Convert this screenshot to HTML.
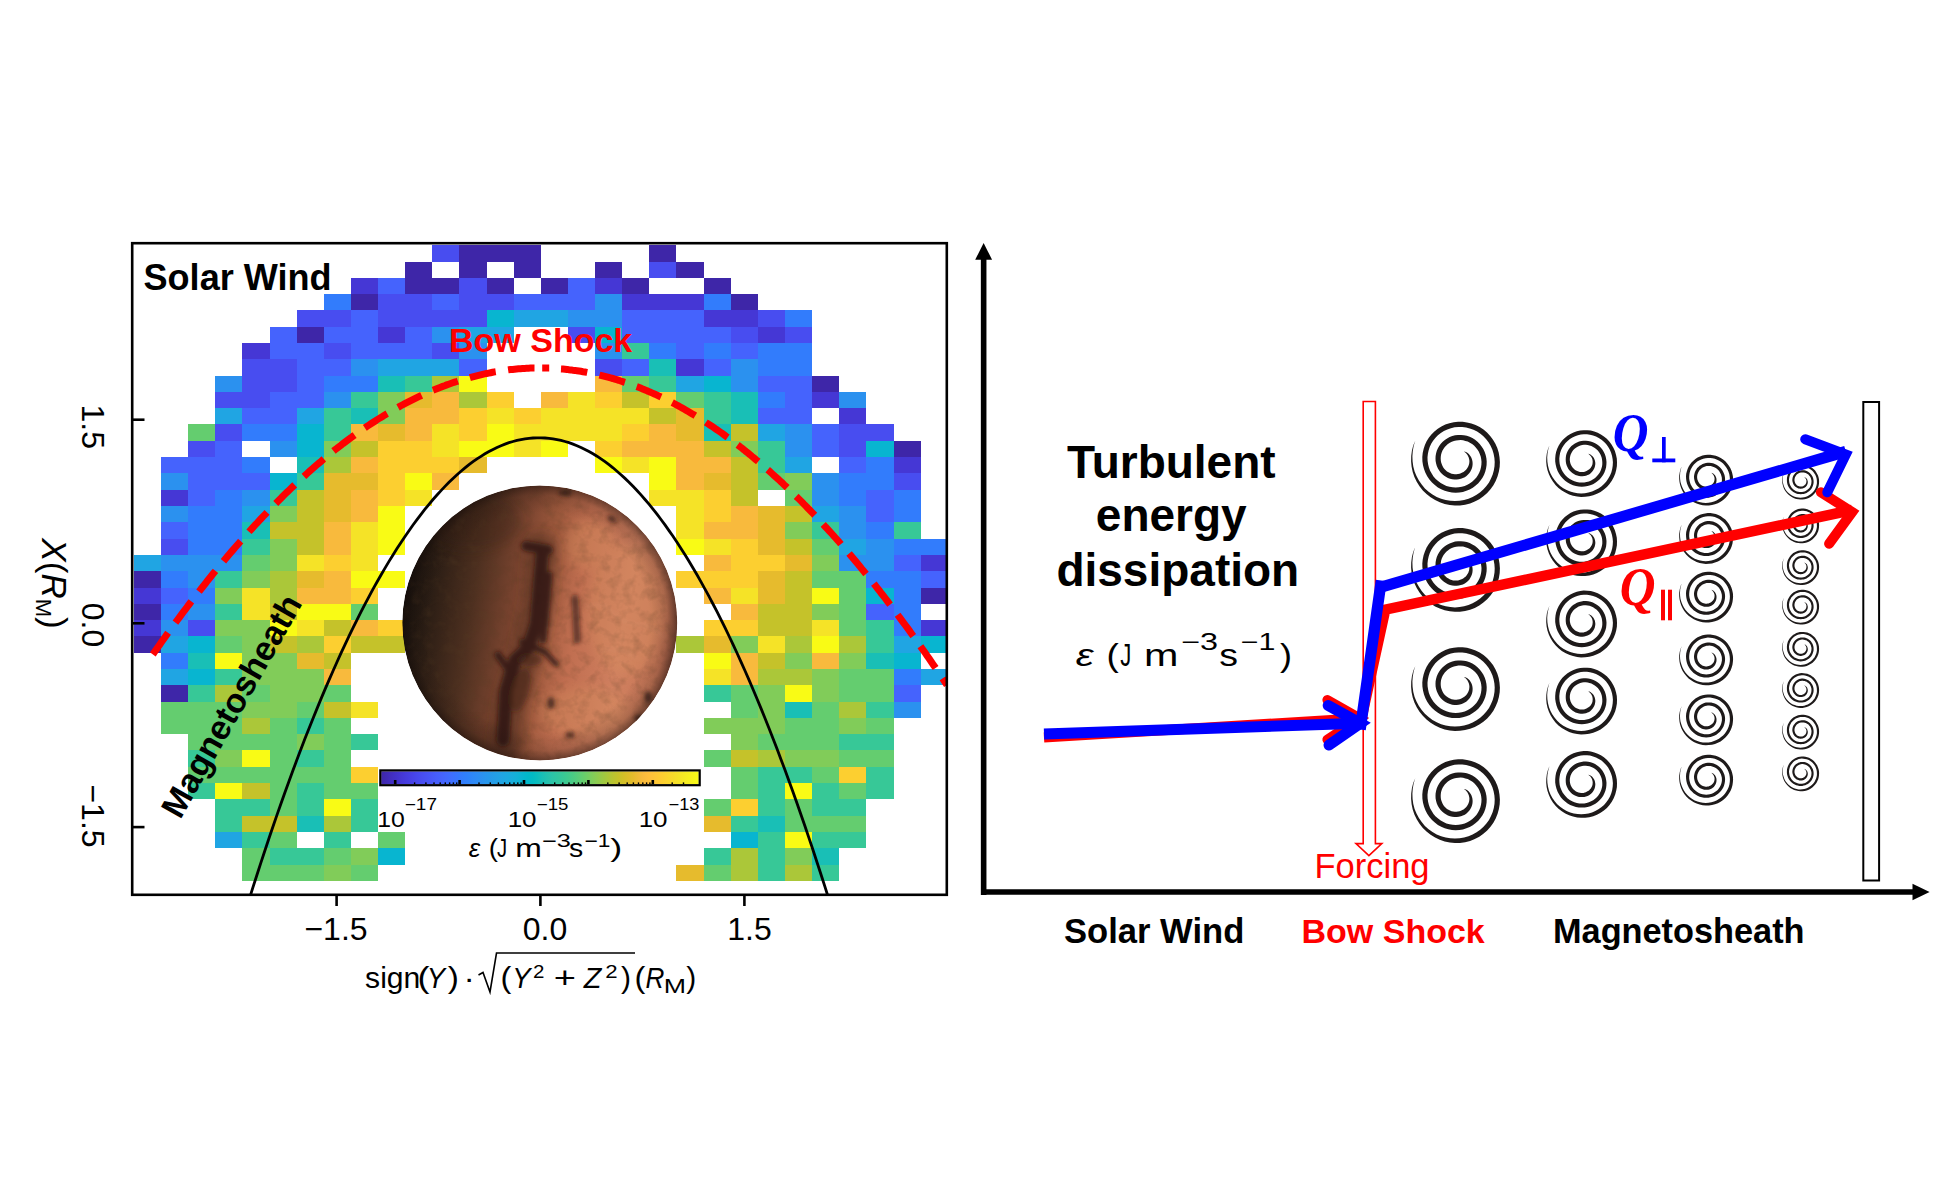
<!DOCTYPE html><html><head><meta charset="utf-8"><title>figure</title><style>html,body{margin:0;padding:0;background:#fff;overflow:hidden;}svg{display:block;}</style></head><body>
<svg width="1953" height="1200" viewBox="0 0 1953 1200">
<rect width="1953" height="1200" fill="#fff"/>
<defs><clipPath id="pc"><rect x="133" y="244" width="813" height="650"/></clipPath>
<clipPath id="mc"><circle cx="539.8" cy="622.9" r="137.5"/></clipPath>
<linearGradient id="cb" x1="0" y1="0" x2="1" y2="0"><stop offset="0.0000" stop-color="#3e26a8"/><stop offset="0.0159" stop-color="#402ab4"/><stop offset="0.0317" stop-color="#422ec0"/><stop offset="0.0476" stop-color="#4332cb"/><stop offset="0.0635" stop-color="#4537d5"/><stop offset="0.0794" stop-color="#463cde"/><stop offset="0.0952" stop-color="#4741e5"/><stop offset="0.1111" stop-color="#4747eb"/><stop offset="0.1270" stop-color="#484df0"/><stop offset="0.1429" stop-color="#4852f4"/><stop offset="0.1587" stop-color="#4758f8"/><stop offset="0.1746" stop-color="#465efb"/><stop offset="0.1905" stop-color="#4563fd"/><stop offset="0.2063" stop-color="#4269fe"/><stop offset="0.2222" stop-color="#3e6fff"/><stop offset="0.2381" stop-color="#3875fe"/><stop offset="0.2540" stop-color="#327cfc"/><stop offset="0.2698" stop-color="#2f81fa"/><stop offset="0.2857" stop-color="#2e87f7"/><stop offset="0.3016" stop-color="#2d8cf3"/><stop offset="0.3175" stop-color="#2b91ef"/><stop offset="0.3333" stop-color="#2797eb"/><stop offset="0.3492" stop-color="#259be8"/><stop offset="0.3651" stop-color="#23a0e5"/><stop offset="0.3810" stop-color="#20a5e3"/><stop offset="0.3968" stop-color="#1ca9df"/><stop offset="0.4127" stop-color="#18addb"/><stop offset="0.4286" stop-color="#12b1d6"/><stop offset="0.4444" stop-color="#08b5d0"/><stop offset="0.4603" stop-color="#01b8ca"/><stop offset="0.4762" stop-color="#02bac3"/><stop offset="0.4921" stop-color="#0bbdbd"/><stop offset="0.5079" stop-color="#19bfb6"/><stop offset="0.5238" stop-color="#24c1ae"/><stop offset="0.5397" stop-color="#2cc4a7"/><stop offset="0.5556" stop-color="#31c69f"/><stop offset="0.5714" stop-color="#37c897"/><stop offset="0.5873" stop-color="#3fca8e"/><stop offset="0.6032" stop-color="#4acb84"/><stop offset="0.6190" stop-color="#57cc7a"/><stop offset="0.6349" stop-color="#64cd6f"/><stop offset="0.6508" stop-color="#72cd64"/><stop offset="0.6667" stop-color="#81cc59"/><stop offset="0.6825" stop-color="#8fcb4e"/><stop offset="0.6984" stop-color="#9dc943"/><stop offset="0.7143" stop-color="#abc739"/><stop offset="0.7302" stop-color="#b9c431"/><stop offset="0.7460" stop-color="#c5c22a"/><stop offset="0.7619" stop-color="#d1bf27"/><stop offset="0.7778" stop-color="#dcbd29"/><stop offset="0.7937" stop-color="#e6bb2d"/><stop offset="0.8095" stop-color="#f0ba36"/><stop offset="0.8254" stop-color="#f8ba3d"/><stop offset="0.8413" stop-color="#febe3c"/><stop offset="0.8571" stop-color="#fec338"/><stop offset="0.8730" stop-color="#fec934"/><stop offset="0.8889" stop-color="#fccf30"/><stop offset="0.9048" stop-color="#fad62d"/><stop offset="0.9206" stop-color="#f7dc2a"/><stop offset="0.9365" stop-color="#f5e327"/><stop offset="0.9524" stop-color="#f5e924"/><stop offset="0.9683" stop-color="#f6ef20"/><stop offset="0.9841" stop-color="#f7f51b"/><stop offset="1.0000" stop-color="#f9fb15"/></linearGradient>
<linearGradient id="mars" x1="0" y1="0.42" x2="1" y2="0.58"><stop offset="0" stop-color="#15100c"/><stop offset="0.1" stop-color="#2c1e15"/><stop offset="0.25" stop-color="#4e3020"/><stop offset="0.4" stop-color="#7c4530"/><stop offset="0.5" stop-color="#9c583c"/><stop offset="0.62" stop-color="#c06e50"/><stop offset="0.8" stop-color="#d08060"/><stop offset="0.93" stop-color="#c87858"/><stop offset="1" stop-color="#a86048"/></linearGradient>
<radialGradient id="limb" cx="0.5" cy="0.5" r="0.5"><stop offset="0.8" stop-color="#1a0f0b" stop-opacity="0"/><stop offset="0.93" stop-color="#1a0f0b" stop-opacity="0.18"/><stop offset="1" stop-color="#120a08" stop-opacity="0.5"/></radialGradient>
<filter id="bl" filterUnits="userSpaceOnUse" x="380" y="460" width="320" height="320"><feGaussianBlur stdDeviation="2.2"/></filter>
<filter id="bl2" filterUnits="userSpaceOnUse" x="380" y="460" width="320" height="320"><feGaussianBlur stdDeviation="6"/></filter>
<linearGradient id="lshade" x1="0" y1="0.45" x2="1" y2="0.55"><stop offset="0" stop-color="#1e100a" stop-opacity="0.75"/><stop offset="0.2" stop-color="#2a160e" stop-opacity="0.35"/><stop offset="0.42" stop-color="#2a160e" stop-opacity="0.1"/><stop offset="0.55" stop-color="#000" stop-opacity="0"/></linearGradient>
<filter id="tex" x="0" y="0" width="100%" height="100%"><feTurbulence type="fractalNoise" baseFrequency="0.09" numOctaves="3" seed="7"/><feColorMatrix type="matrix" values="0 0 0 0 0.1  0 0 0 0 0.05  0 0 0 0 0.02  1.6 0 0 0 -0.72"/></filter>
<filter id="rough" filterUnits="userSpaceOnUse" x="380" y="460" width="320" height="320"><feTurbulence type="fractalNoise" baseFrequency="0.25" numOctaves="2" seed="3" result="n"/><feDisplacementMap in="SourceGraphic" in2="n" scale="4.5" xChannelSelector="R" yChannelSelector="G"/><feGaussianBlur stdDeviation="1.3"/></filter>
</defs>
<g shape-rendering="crispEdges"><rect x="432" y="245" width="27" height="17" fill="#484df0"/><rect x="459" y="245" width="82" height="17" fill="#3e26a8"/><rect x="649" y="245" width="27" height="17" fill="#3e26a8"/><rect x="405" y="262" width="27" height="16" fill="#3e26a8"/><rect x="459" y="262" width="28" height="16" fill="#3e26a8"/><rect x="514" y="262" width="27" height="16" fill="#3e26a8"/><rect x="595" y="262" width="27" height="16" fill="#3e26a8"/><rect x="649" y="262" width="27" height="16" fill="#484df0"/><rect x="676" y="262" width="28" height="16" fill="#3e26a8"/><rect x="351" y="278" width="27" height="16" fill="#4537d5"/><rect x="378" y="278" width="27" height="16" fill="#4563fd"/><rect x="405" y="278" width="54" height="16" fill="#3e26a8"/><rect x="459" y="278" width="28" height="16" fill="#484df0"/><rect x="487" y="278" width="27" height="16" fill="#3e26a8"/><rect x="541" y="278" width="27" height="16" fill="#3e26a8"/><rect x="568" y="278" width="27" height="16" fill="#4563fd"/><rect x="595" y="278" width="27" height="16" fill="#4537d5"/><rect x="622" y="278" width="27" height="16" fill="#3e26a8"/><rect x="704" y="278" width="27" height="16" fill="#3e26a8"/><rect x="324" y="294" width="27" height="16" fill="#327cfc"/><rect x="351" y="294" width="27" height="16" fill="#3e26a8"/><rect x="378" y="294" width="54" height="16" fill="#484df0"/><rect x="432" y="294" width="27" height="16" fill="#4563fd"/><rect x="459" y="294" width="55" height="16" fill="#484df0"/><rect x="514" y="294" width="81" height="16" fill="#4563fd"/><rect x="595" y="294" width="27" height="16" fill="#2b91ef"/><rect x="622" y="294" width="82" height="16" fill="#4537d5"/><rect x="704" y="294" width="27" height="16" fill="#327cfc"/><rect x="731" y="294" width="27" height="16" fill="#3e26a8"/><rect x="297" y="310" width="54" height="17" fill="#484df0"/><rect x="351" y="310" width="27" height="17" fill="#4563fd"/><rect x="378" y="310" width="109" height="17" fill="#484df0"/><rect x="487" y="310" width="27" height="17" fill="#08b5d0"/><rect x="514" y="310" width="54" height="17" fill="#20a5e3"/><rect x="568" y="310" width="54" height="17" fill="#2b91ef"/><rect x="622" y="310" width="82" height="17" fill="#4563fd"/><rect x="704" y="310" width="54" height="17" fill="#4537d5"/><rect x="758" y="310" width="27" height="17" fill="#484df0"/><rect x="785" y="310" width="27" height="17" fill="#327cfc"/><rect x="270" y="327" width="27" height="16" fill="#4563fd"/><rect x="297" y="327" width="27" height="16" fill="#3e26a8"/><rect x="324" y="327" width="54" height="16" fill="#4563fd"/><rect x="378" y="327" width="27" height="16" fill="#4537d5"/><rect x="405" y="327" width="27" height="16" fill="#4563fd"/><rect x="432" y="327" width="27" height="16" fill="#2b91ef"/><rect x="459" y="327" width="55" height="16" fill="#20a5e3"/><rect x="568" y="327" width="27" height="16" fill="#484df0"/><rect x="595" y="327" width="27" height="16" fill="#08b5d0"/><rect x="622" y="327" width="109" height="16" fill="#4563fd"/><rect x="731" y="327" width="27" height="16" fill="#484df0"/><rect x="758" y="327" width="27" height="16" fill="#4537d5"/><rect x="785" y="327" width="27" height="16" fill="#484df0"/><rect x="242" y="343" width="28" height="16" fill="#4537d5"/><rect x="270" y="343" width="54" height="16" fill="#4563fd"/><rect x="324" y="343" width="27" height="16" fill="#484df0"/><rect x="351" y="343" width="81" height="16" fill="#4563fd"/><rect x="432" y="343" width="27" height="16" fill="#484df0"/><rect x="459" y="343" width="28" height="16" fill="#2b91ef"/><rect x="595" y="343" width="27" height="16" fill="#2b91ef"/><rect x="622" y="343" width="27" height="16" fill="#37c897"/><rect x="649" y="343" width="27" height="16" fill="#327cfc"/><rect x="676" y="343" width="28" height="16" fill="#4563fd"/><rect x="704" y="343" width="27" height="16" fill="#327cfc"/><rect x="731" y="343" width="27" height="16" fill="#4563fd"/><rect x="758" y="343" width="54" height="16" fill="#327cfc"/><rect x="242" y="359" width="55" height="17" fill="#484df0"/><rect x="297" y="359" width="54" height="17" fill="#4563fd"/><rect x="351" y="359" width="27" height="17" fill="#2b91ef"/><rect x="378" y="359" width="81" height="17" fill="#20a5e3"/><rect x="459" y="359" width="28" height="17" fill="#4563fd"/><rect x="595" y="359" width="27" height="17" fill="#484df0"/><rect x="622" y="359" width="27" height="17" fill="#4563fd"/><rect x="649" y="359" width="27" height="17" fill="#19bfb6"/><rect x="676" y="359" width="28" height="17" fill="#4537d5"/><rect x="704" y="359" width="27" height="17" fill="#4563fd"/><rect x="731" y="359" width="27" height="17" fill="#2b91ef"/><rect x="758" y="359" width="54" height="17" fill="#327cfc"/><rect x="215" y="376" width="27" height="16" fill="#2b91ef"/><rect x="242" y="376" width="55" height="16" fill="#484df0"/><rect x="297" y="376" width="27" height="16" fill="#4563fd"/><rect x="324" y="376" width="54" height="16" fill="#327cfc"/><rect x="378" y="376" width="27" height="16" fill="#19bfb6"/><rect x="405" y="376" width="27" height="16" fill="#37c897"/><rect x="432" y="376" width="27" height="16" fill="#abc739"/><rect x="459" y="376" width="28" height="16" fill="#f9fb15"/><rect x="595" y="376" width="27" height="16" fill="#f8ba3d"/><rect x="622" y="376" width="27" height="16" fill="#64cd6f"/><rect x="649" y="376" width="27" height="16" fill="#37c897"/><rect x="676" y="376" width="28" height="16" fill="#20a5e3"/><rect x="704" y="376" width="27" height="16" fill="#08b5d0"/><rect x="731" y="376" width="27" height="16" fill="#2b91ef"/><rect x="758" y="376" width="54" height="16" fill="#4563fd"/><rect x="812" y="376" width="27" height="16" fill="#3e26a8"/><rect x="215" y="392" width="55" height="16" fill="#484df0"/><rect x="270" y="392" width="54" height="16" fill="#4563fd"/><rect x="324" y="392" width="27" height="16" fill="#2b91ef"/><rect x="351" y="392" width="27" height="16" fill="#37c897"/><rect x="378" y="392" width="27" height="16" fill="#81cc59"/><rect x="405" y="392" width="27" height="16" fill="#e6bb2d"/><rect x="432" y="392" width="27" height="16" fill="#f8ba3d"/><rect x="459" y="392" width="28" height="16" fill="#abc739"/><rect x="487" y="392" width="27" height="16" fill="#fccf30"/><rect x="541" y="392" width="27" height="16" fill="#f8ba3d"/><rect x="568" y="392" width="27" height="16" fill="#f5e327"/><rect x="595" y="392" width="27" height="16" fill="#fccf30"/><rect x="622" y="392" width="27" height="16" fill="#c5c22a"/><rect x="649" y="392" width="27" height="16" fill="#fccf30"/><rect x="676" y="392" width="28" height="16" fill="#64cd6f"/><rect x="704" y="392" width="27" height="16" fill="#37c897"/><rect x="731" y="392" width="27" height="16" fill="#19bfb6"/><rect x="758" y="392" width="27" height="16" fill="#327cfc"/><rect x="785" y="392" width="27" height="16" fill="#4563fd"/><rect x="812" y="392" width="27" height="16" fill="#4537d5"/><rect x="839" y="392" width="27" height="16" fill="#2b91ef"/><rect x="215" y="408" width="27" height="16" fill="#20a5e3"/><rect x="242" y="408" width="55" height="16" fill="#4563fd"/><rect x="297" y="408" width="27" height="16" fill="#20a5e3"/><rect x="324" y="408" width="27" height="16" fill="#37c897"/><rect x="351" y="408" width="27" height="16" fill="#19bfb6"/><rect x="378" y="408" width="27" height="16" fill="#81cc59"/><rect x="405" y="408" width="54" height="16" fill="#f8ba3d"/><rect x="459" y="408" width="28" height="16" fill="#fccf30"/><rect x="487" y="408" width="27" height="16" fill="#f5e327"/><rect x="514" y="408" width="27" height="16" fill="#fccf30"/><rect x="541" y="408" width="108" height="16" fill="#f5e327"/><rect x="649" y="408" width="27" height="16" fill="#c5c22a"/><rect x="676" y="408" width="28" height="16" fill="#e6bb2d"/><rect x="704" y="408" width="27" height="16" fill="#37c897"/><rect x="731" y="408" width="27" height="16" fill="#19bfb6"/><rect x="758" y="408" width="54" height="16" fill="#4563fd"/><rect x="839" y="408" width="27" height="16" fill="#4537d5"/><rect x="188" y="424" width="27" height="17" fill="#64cd6f"/><rect x="215" y="424" width="27" height="17" fill="#484df0"/><rect x="242" y="424" width="55" height="17" fill="#327cfc"/><rect x="297" y="424" width="27" height="17" fill="#08b5d0"/><rect x="324" y="424" width="27" height="17" fill="#37c897"/><rect x="351" y="424" width="27" height="17" fill="#f8ba3d"/><rect x="378" y="424" width="27" height="17" fill="#e6bb2d"/><rect x="405" y="424" width="27" height="17" fill="#f8ba3d"/><rect x="432" y="424" width="27" height="17" fill="#f5e327"/><rect x="459" y="424" width="28" height="17" fill="#fccf30"/><rect x="487" y="424" width="27" height="17" fill="#f9fb15"/><rect x="514" y="424" width="108" height="17" fill="#f5e327"/><rect x="622" y="424" width="27" height="17" fill="#fccf30"/><rect x="649" y="424" width="27" height="17" fill="#f8ba3d"/><rect x="676" y="424" width="28" height="17" fill="#e6bb2d"/><rect x="704" y="424" width="27" height="17" fill="#19bfb6"/><rect x="731" y="424" width="27" height="17" fill="#c5c22a"/><rect x="758" y="424" width="27" height="17" fill="#20a5e3"/><rect x="785" y="424" width="27" height="17" fill="#2b91ef"/><rect x="812" y="424" width="27" height="17" fill="#4563fd"/><rect x="839" y="424" width="55" height="17" fill="#484df0"/><rect x="188" y="441" width="27" height="16" fill="#484df0"/><rect x="215" y="441" width="27" height="16" fill="#4563fd"/><rect x="270" y="441" width="27" height="16" fill="#2b91ef"/><rect x="297" y="441" width="27" height="16" fill="#08b5d0"/><rect x="324" y="441" width="27" height="16" fill="#81cc59"/><rect x="351" y="441" width="27" height="16" fill="#c5c22a"/><rect x="378" y="441" width="54" height="16" fill="#fccf30"/><rect x="432" y="441" width="27" height="16" fill="#f5e327"/><rect x="459" y="441" width="55" height="16" fill="#f9fb15"/><rect x="514" y="441" width="27" height="16" fill="#f5e327"/><rect x="541" y="441" width="27" height="16" fill="#f9fb15"/><rect x="595" y="441" width="27" height="16" fill="#fccf30"/><rect x="622" y="441" width="82" height="16" fill="#f8ba3d"/><rect x="704" y="441" width="27" height="16" fill="#c5c22a"/><rect x="731" y="441" width="27" height="16" fill="#81cc59"/><rect x="758" y="441" width="27" height="16" fill="#37c897"/><rect x="785" y="441" width="27" height="16" fill="#2b91ef"/><rect x="812" y="441" width="27" height="16" fill="#4563fd"/><rect x="839" y="441" width="27" height="16" fill="#484df0"/><rect x="866" y="441" width="28" height="16" fill="#08b5d0"/><rect x="894" y="441" width="27" height="16" fill="#3e26a8"/><rect x="161" y="457" width="81" height="16" fill="#4563fd"/><rect x="242" y="457" width="28" height="16" fill="#327cfc"/><rect x="297" y="457" width="27" height="16" fill="#19bfb6"/><rect x="324" y="457" width="27" height="16" fill="#abc739"/><rect x="351" y="457" width="27" height="16" fill="#f8ba3d"/><rect x="378" y="457" width="81" height="16" fill="#fccf30"/><rect x="459" y="457" width="28" height="16" fill="#e6bb2d"/><rect x="595" y="457" width="27" height="16" fill="#f9fb15"/><rect x="622" y="457" width="27" height="16" fill="#f5e327"/><rect x="649" y="457" width="27" height="16" fill="#f9fb15"/><rect x="676" y="457" width="55" height="16" fill="#f8ba3d"/><rect x="731" y="457" width="27" height="16" fill="#c5c22a"/><rect x="758" y="457" width="27" height="16" fill="#37c897"/><rect x="785" y="457" width="27" height="16" fill="#20a5e3"/><rect x="839" y="457" width="27" height="16" fill="#4563fd"/><rect x="866" y="457" width="28" height="16" fill="#327cfc"/><rect x="894" y="457" width="27" height="16" fill="#4537d5"/><rect x="161" y="473" width="27" height="17" fill="#2b91ef"/><rect x="188" y="473" width="82" height="17" fill="#4563fd"/><rect x="270" y="473" width="27" height="17" fill="#08b5d0"/><rect x="297" y="473" width="27" height="17" fill="#37c897"/><rect x="324" y="473" width="54" height="17" fill="#e6bb2d"/><rect x="378" y="473" width="27" height="17" fill="#fccf30"/><rect x="405" y="473" width="27" height="17" fill="#f9fb15"/><rect x="432" y="473" width="27" height="17" fill="#f8ba3d"/><rect x="649" y="473" width="27" height="17" fill="#f9fb15"/><rect x="676" y="473" width="28" height="17" fill="#f8ba3d"/><rect x="704" y="473" width="27" height="17" fill="#e6bb2d"/><rect x="731" y="473" width="27" height="17" fill="#c5c22a"/><rect x="758" y="473" width="27" height="17" fill="#64cd6f"/><rect x="785" y="473" width="27" height="17" fill="#81cc59"/><rect x="812" y="473" width="27" height="17" fill="#2b91ef"/><rect x="839" y="473" width="55" height="17" fill="#327cfc"/><rect x="894" y="473" width="27" height="17" fill="#484df0"/><rect x="161" y="490" width="27" height="16" fill="#4537d5"/><rect x="188" y="490" width="27" height="16" fill="#4563fd"/><rect x="215" y="490" width="27" height="16" fill="#327cfc"/><rect x="242" y="490" width="28" height="16" fill="#2b91ef"/><rect x="270" y="490" width="27" height="16" fill="#37c897"/><rect x="297" y="490" width="27" height="16" fill="#c5c22a"/><rect x="324" y="490" width="27" height="16" fill="#e6bb2d"/><rect x="351" y="490" width="27" height="16" fill="#f8ba3d"/><rect x="378" y="490" width="27" height="16" fill="#fccf30"/><rect x="405" y="490" width="27" height="16" fill="#f5e327"/><rect x="649" y="490" width="55" height="16" fill="#f5e327"/><rect x="704" y="490" width="27" height="16" fill="#fccf30"/><rect x="731" y="490" width="27" height="16" fill="#c5c22a"/><rect x="785" y="490" width="27" height="16" fill="#64cd6f"/><rect x="812" y="490" width="27" height="16" fill="#2b91ef"/><rect x="839" y="490" width="27" height="16" fill="#327cfc"/><rect x="866" y="490" width="28" height="16" fill="#4563fd"/><rect x="894" y="490" width="27" height="16" fill="#327cfc"/><rect x="161" y="506" width="27" height="16" fill="#2b91ef"/><rect x="188" y="506" width="54" height="16" fill="#327cfc"/><rect x="242" y="506" width="28" height="16" fill="#20a5e3"/><rect x="270" y="506" width="27" height="16" fill="#81cc59"/><rect x="297" y="506" width="27" height="16" fill="#c5c22a"/><rect x="324" y="506" width="27" height="16" fill="#e6bb2d"/><rect x="351" y="506" width="27" height="16" fill="#f8ba3d"/><rect x="378" y="506" width="27" height="16" fill="#f9fb15"/><rect x="676" y="506" width="28" height="16" fill="#f5e327"/><rect x="704" y="506" width="27" height="16" fill="#fccf30"/><rect x="731" y="506" width="27" height="16" fill="#f8ba3d"/><rect x="758" y="506" width="27" height="16" fill="#e6bb2d"/><rect x="785" y="506" width="27" height="16" fill="#c5c22a"/><rect x="812" y="506" width="27" height="16" fill="#20a5e3"/><rect x="839" y="506" width="27" height="16" fill="#2b91ef"/><rect x="866" y="506" width="28" height="16" fill="#4563fd"/><rect x="894" y="506" width="27" height="16" fill="#327cfc"/><rect x="161" y="522" width="27" height="17" fill="#4563fd"/><rect x="188" y="522" width="54" height="17" fill="#327cfc"/><rect x="242" y="522" width="28" height="17" fill="#19bfb6"/><rect x="270" y="522" width="54" height="17" fill="#c5c22a"/><rect x="324" y="522" width="27" height="17" fill="#f8ba3d"/><rect x="351" y="522" width="27" height="17" fill="#f5e327"/><rect x="378" y="522" width="27" height="17" fill="#f9fb15"/><rect x="676" y="522" width="28" height="17" fill="#f5e327"/><rect x="704" y="522" width="54" height="17" fill="#f8ba3d"/><rect x="758" y="522" width="27" height="17" fill="#e6bb2d"/><rect x="785" y="522" width="27" height="17" fill="#81cc59"/><rect x="812" y="522" width="27" height="17" fill="#37c897"/><rect x="839" y="522" width="27" height="17" fill="#2b91ef"/><rect x="866" y="522" width="28" height="17" fill="#327cfc"/><rect x="894" y="522" width="27" height="17" fill="#37c897"/><rect x="161" y="539" width="27" height="16" fill="#484df0"/><rect x="188" y="539" width="54" height="16" fill="#327cfc"/><rect x="242" y="539" width="28" height="16" fill="#37c897"/><rect x="270" y="539" width="27" height="16" fill="#81cc59"/><rect x="297" y="539" width="27" height="16" fill="#c5c22a"/><rect x="324" y="539" width="27" height="16" fill="#f8ba3d"/><rect x="351" y="539" width="27" height="16" fill="#f5e327"/><rect x="378" y="539" width="27" height="16" fill="#f9fb15"/><rect x="676" y="539" width="28" height="16" fill="#f9fb15"/><rect x="704" y="539" width="27" height="16" fill="#f5e327"/><rect x="731" y="539" width="27" height="16" fill="#fccf30"/><rect x="758" y="539" width="27" height="16" fill="#e6bb2d"/><rect x="785" y="539" width="27" height="16" fill="#c5c22a"/><rect x="812" y="539" width="27" height="16" fill="#64cd6f"/><rect x="839" y="539" width="27" height="16" fill="#20a5e3"/><rect x="866" y="539" width="28" height="16" fill="#2b91ef"/><rect x="894" y="539" width="54" height="16" fill="#327cfc"/><rect x="134" y="555" width="27" height="16" fill="#20a5e3"/><rect x="161" y="555" width="81" height="16" fill="#2b91ef"/><rect x="242" y="555" width="28" height="16" fill="#64cd6f"/><rect x="270" y="555" width="27" height="16" fill="#81cc59"/><rect x="297" y="555" width="27" height="16" fill="#f5e327"/><rect x="324" y="555" width="27" height="16" fill="#fccf30"/><rect x="351" y="555" width="27" height="16" fill="#f5e327"/><rect x="704" y="555" width="27" height="16" fill="#f8ba3d"/><rect x="731" y="555" width="54" height="16" fill="#fccf30"/><rect x="785" y="555" width="27" height="16" fill="#e6bb2d"/><rect x="812" y="555" width="27" height="16" fill="#81cc59"/><rect x="839" y="555" width="55" height="16" fill="#2b91ef"/><rect x="894" y="555" width="27" height="16" fill="#4563fd"/><rect x="921" y="555" width="27" height="16" fill="#4537d5"/><rect x="134" y="571" width="27" height="17" fill="#3e26a8"/><rect x="161" y="571" width="27" height="17" fill="#327cfc"/><rect x="188" y="571" width="27" height="17" fill="#2b91ef"/><rect x="215" y="571" width="27" height="17" fill="#37c897"/><rect x="242" y="571" width="28" height="17" fill="#81cc59"/><rect x="270" y="571" width="27" height="17" fill="#abc739"/><rect x="297" y="571" width="27" height="17" fill="#e6bb2d"/><rect x="324" y="571" width="27" height="17" fill="#f8ba3d"/><rect x="351" y="571" width="54" height="17" fill="#f9fb15"/><rect x="676" y="571" width="82" height="17" fill="#fccf30"/><rect x="758" y="571" width="27" height="17" fill="#e6bb2d"/><rect x="785" y="571" width="27" height="17" fill="#c5c22a"/><rect x="812" y="571" width="54" height="17" fill="#64cd6f"/><rect x="866" y="571" width="55" height="17" fill="#327cfc"/><rect x="921" y="571" width="27" height="17" fill="#4563fd"/><rect x="134" y="588" width="27" height="16" fill="#4537d5"/><rect x="161" y="588" width="27" height="16" fill="#4563fd"/><rect x="188" y="588" width="27" height="16" fill="#327cfc"/><rect x="215" y="588" width="27" height="16" fill="#81cc59"/><rect x="242" y="588" width="28" height="16" fill="#f5e327"/><rect x="270" y="588" width="27" height="16" fill="#abc739"/><rect x="297" y="588" width="54" height="16" fill="#f8ba3d"/><rect x="351" y="588" width="27" height="16" fill="#fccf30"/><rect x="704" y="588" width="27" height="16" fill="#f8ba3d"/><rect x="731" y="588" width="27" height="16" fill="#f5e327"/><rect x="758" y="588" width="27" height="16" fill="#e6bb2d"/><rect x="785" y="588" width="27" height="16" fill="#c5c22a"/><rect x="812" y="588" width="27" height="16" fill="#f9fb15"/><rect x="839" y="588" width="27" height="16" fill="#64cd6f"/><rect x="866" y="588" width="28" height="16" fill="#08b5d0"/><rect x="894" y="588" width="27" height="16" fill="#327cfc"/><rect x="921" y="588" width="27" height="16" fill="#3e26a8"/><rect x="134" y="604" width="27" height="16" fill="#3e26a8"/><rect x="161" y="604" width="27" height="16" fill="#327cfc"/><rect x="188" y="604" width="27" height="16" fill="#2b91ef"/><rect x="215" y="604" width="27" height="16" fill="#37c897"/><rect x="242" y="604" width="28" height="16" fill="#f5e327"/><rect x="270" y="604" width="27" height="16" fill="#c5c22a"/><rect x="297" y="604" width="54" height="16" fill="#f9fb15"/><rect x="351" y="604" width="27" height="16" fill="#64cd6f"/><rect x="731" y="604" width="27" height="16" fill="#f8ba3d"/><rect x="758" y="604" width="54" height="16" fill="#c5c22a"/><rect x="812" y="604" width="27" height="16" fill="#81cc59"/><rect x="839" y="604" width="27" height="16" fill="#64cd6f"/><rect x="866" y="604" width="28" height="16" fill="#4563fd"/><rect x="894" y="604" width="27" height="16" fill="#327cfc"/><rect x="134" y="620" width="27" height="16" fill="#4537d5"/><rect x="161" y="620" width="27" height="16" fill="#2b91ef"/><rect x="188" y="620" width="27" height="16" fill="#484df0"/><rect x="215" y="620" width="55" height="16" fill="#81cc59"/><rect x="270" y="620" width="27" height="16" fill="#f9fb15"/><rect x="297" y="620" width="27" height="16" fill="#f5e327"/><rect x="324" y="620" width="27" height="16" fill="#c5c22a"/><rect x="351" y="620" width="27" height="16" fill="#f8ba3d"/><rect x="378" y="620" width="27" height="16" fill="#fccf30"/><rect x="704" y="620" width="54" height="16" fill="#fccf30"/><rect x="758" y="620" width="54" height="16" fill="#c5c22a"/><rect x="812" y="620" width="27" height="16" fill="#f5e327"/><rect x="839" y="620" width="27" height="16" fill="#64cd6f"/><rect x="866" y="620" width="28" height="16" fill="#37c897"/><rect x="894" y="620" width="27" height="16" fill="#327cfc"/><rect x="921" y="620" width="27" height="16" fill="#4537d5"/><rect x="134" y="636" width="27" height="17" fill="#3e26a8"/><rect x="161" y="636" width="27" height="17" fill="#20a5e3"/><rect x="188" y="636" width="27" height="17" fill="#08b5d0"/><rect x="215" y="636" width="27" height="17" fill="#64cd6f"/><rect x="242" y="636" width="28" height="17" fill="#81cc59"/><rect x="270" y="636" width="27" height="17" fill="#c5c22a"/><rect x="297" y="636" width="27" height="17" fill="#abc739"/><rect x="324" y="636" width="27" height="17" fill="#fccf30"/><rect x="351" y="636" width="54" height="17" fill="#c5c22a"/><rect x="676" y="636" width="28" height="17" fill="#abc739"/><rect x="704" y="636" width="27" height="17" fill="#e6bb2d"/><rect x="731" y="636" width="27" height="17" fill="#81cc59"/><rect x="758" y="636" width="27" height="17" fill="#f5e327"/><rect x="785" y="636" width="27" height="17" fill="#abc739"/><rect x="812" y="636" width="27" height="17" fill="#f9fb15"/><rect x="839" y="636" width="27" height="17" fill="#abc739"/><rect x="866" y="636" width="28" height="17" fill="#37c897"/><rect x="894" y="636" width="27" height="17" fill="#20a5e3"/><rect x="921" y="636" width="27" height="17" fill="#08b5d0"/><rect x="161" y="653" width="27" height="16" fill="#327cfc"/><rect x="188" y="653" width="27" height="16" fill="#19bfb6"/><rect x="215" y="653" width="27" height="16" fill="#f9fb15"/><rect x="242" y="653" width="55" height="16" fill="#81cc59"/><rect x="297" y="653" width="27" height="16" fill="#e6bb2d"/><rect x="324" y="653" width="27" height="16" fill="#c5c22a"/><rect x="704" y="653" width="27" height="16" fill="#f9fb15"/><rect x="731" y="653" width="27" height="16" fill="#f8ba3d"/><rect x="758" y="653" width="27" height="16" fill="#c5c22a"/><rect x="785" y="653" width="27" height="16" fill="#81cc59"/><rect x="812" y="653" width="27" height="16" fill="#f8ba3d"/><rect x="839" y="653" width="27" height="16" fill="#81cc59"/><rect x="866" y="653" width="28" height="16" fill="#19bfb6"/><rect x="894" y="653" width="27" height="16" fill="#08b5d0"/><rect x="161" y="669" width="27" height="16" fill="#20a5e3"/><rect x="188" y="669" width="27" height="16" fill="#08b5d0"/><rect x="215" y="669" width="27" height="16" fill="#37c897"/><rect x="242" y="669" width="82" height="16" fill="#81cc59"/><rect x="324" y="669" width="27" height="16" fill="#f8ba3d"/><rect x="704" y="669" width="27" height="16" fill="#f5e327"/><rect x="731" y="669" width="27" height="16" fill="#f8ba3d"/><rect x="758" y="669" width="54" height="16" fill="#abc739"/><rect x="812" y="669" width="27" height="16" fill="#81cc59"/><rect x="839" y="669" width="55" height="16" fill="#64cd6f"/><rect x="894" y="669" width="27" height="16" fill="#327cfc"/><rect x="921" y="669" width="27" height="16" fill="#20a5e3"/><rect x="161" y="685" width="27" height="17" fill="#3e26a8"/><rect x="188" y="685" width="27" height="17" fill="#37c897"/><rect x="215" y="685" width="27" height="17" fill="#abc739"/><rect x="242" y="685" width="28" height="17" fill="#64cd6f"/><rect x="270" y="685" width="54" height="17" fill="#81cc59"/><rect x="324" y="685" width="27" height="17" fill="#64cd6f"/><rect x="704" y="685" width="27" height="17" fill="#37c897"/><rect x="731" y="685" width="27" height="17" fill="#64cd6f"/><rect x="758" y="685" width="27" height="17" fill="#81cc59"/><rect x="785" y="685" width="27" height="17" fill="#f9fb15"/><rect x="812" y="685" width="27" height="17" fill="#81cc59"/><rect x="839" y="685" width="55" height="17" fill="#64cd6f"/><rect x="894" y="685" width="27" height="17" fill="#4563fd"/><rect x="161" y="702" width="81" height="16" fill="#64cd6f"/><rect x="242" y="702" width="55" height="16" fill="#81cc59"/><rect x="297" y="702" width="27" height="16" fill="#64cd6f"/><rect x="324" y="702" width="27" height="16" fill="#c5c22a"/><rect x="351" y="702" width="27" height="16" fill="#f5e327"/><rect x="731" y="702" width="27" height="16" fill="#64cd6f"/><rect x="758" y="702" width="27" height="16" fill="#81cc59"/><rect x="785" y="702" width="27" height="16" fill="#19bfb6"/><rect x="812" y="702" width="27" height="16" fill="#64cd6f"/><rect x="839" y="702" width="27" height="16" fill="#abc739"/><rect x="866" y="702" width="28" height="16" fill="#37c897"/><rect x="894" y="702" width="27" height="16" fill="#2b91ef"/><rect x="161" y="718" width="81" height="16" fill="#64cd6f"/><rect x="242" y="718" width="28" height="16" fill="#abc739"/><rect x="270" y="718" width="27" height="16" fill="#64cd6f"/><rect x="297" y="718" width="27" height="16" fill="#37c897"/><rect x="324" y="718" width="27" height="16" fill="#64cd6f"/><rect x="704" y="718" width="81" height="16" fill="#81cc59"/><rect x="785" y="718" width="54" height="16" fill="#64cd6f"/><rect x="839" y="718" width="27" height="16" fill="#81cc59"/><rect x="866" y="718" width="28" height="16" fill="#64cd6f"/><rect x="188" y="734" width="109" height="16" fill="#64cd6f"/><rect x="297" y="734" width="27" height="16" fill="#81cc59"/><rect x="324" y="734" width="27" height="16" fill="#64cd6f"/><rect x="351" y="734" width="27" height="16" fill="#37c897"/><rect x="731" y="734" width="27" height="16" fill="#81cc59"/><rect x="758" y="734" width="81" height="16" fill="#64cd6f"/><rect x="839" y="734" width="55" height="16" fill="#37c897"/><rect x="188" y="750" width="27" height="17" fill="#37c897"/><rect x="215" y="750" width="27" height="17" fill="#81cc59"/><rect x="242" y="750" width="28" height="17" fill="#f9fb15"/><rect x="270" y="750" width="27" height="17" fill="#64cd6f"/><rect x="297" y="750" width="27" height="17" fill="#37c897"/><rect x="324" y="750" width="27" height="17" fill="#64cd6f"/><rect x="704" y="750" width="27" height="17" fill="#64cd6f"/><rect x="731" y="750" width="27" height="17" fill="#c5c22a"/><rect x="758" y="750" width="27" height="17" fill="#abc739"/><rect x="785" y="750" width="54" height="17" fill="#81cc59"/><rect x="839" y="750" width="55" height="17" fill="#64cd6f"/><rect x="188" y="767" width="163" height="16" fill="#64cd6f"/><rect x="351" y="767" width="27" height="16" fill="#fccf30"/><rect x="731" y="767" width="27" height="16" fill="#64cd6f"/><rect x="758" y="767" width="54" height="16" fill="#37c897"/><rect x="812" y="767" width="27" height="16" fill="#64cd6f"/><rect x="839" y="767" width="27" height="16" fill="#fccf30"/><rect x="866" y="767" width="28" height="16" fill="#37c897"/><rect x="188" y="783" width="27" height="16" fill="#37c897"/><rect x="215" y="783" width="27" height="16" fill="#f9fb15"/><rect x="242" y="783" width="28" height="16" fill="#c5c22a"/><rect x="270" y="783" width="27" height="16" fill="#64cd6f"/><rect x="297" y="783" width="27" height="16" fill="#37c897"/><rect x="324" y="783" width="54" height="16" fill="#64cd6f"/><rect x="731" y="783" width="27" height="16" fill="#64cd6f"/><rect x="758" y="783" width="27" height="16" fill="#37c897"/><rect x="785" y="783" width="27" height="16" fill="#f9fb15"/><rect x="812" y="783" width="27" height="16" fill="#37c897"/><rect x="839" y="783" width="27" height="16" fill="#64cd6f"/><rect x="866" y="783" width="28" height="16" fill="#37c897"/><rect x="215" y="799" width="55" height="17" fill="#37c897"/><rect x="270" y="799" width="27" height="17" fill="#64cd6f"/><rect x="297" y="799" width="27" height="17" fill="#37c897"/><rect x="324" y="799" width="27" height="17" fill="#f9fb15"/><rect x="351" y="799" width="27" height="17" fill="#37c897"/><rect x="704" y="799" width="27" height="17" fill="#64cd6f"/><rect x="731" y="799" width="27" height="17" fill="#fccf30"/><rect x="758" y="799" width="27" height="17" fill="#37c897"/><rect x="785" y="799" width="27" height="17" fill="#64cd6f"/><rect x="812" y="799" width="54" height="17" fill="#37c897"/><rect x="215" y="816" width="27" height="16" fill="#37c897"/><rect x="242" y="816" width="55" height="16" fill="#c5c22a"/><rect x="297" y="816" width="27" height="16" fill="#19bfb6"/><rect x="324" y="816" width="27" height="16" fill="#abc739"/><rect x="351" y="816" width="27" height="16" fill="#37c897"/><rect x="704" y="816" width="27" height="16" fill="#e6bb2d"/><rect x="731" y="816" width="27" height="16" fill="#37c897"/><rect x="758" y="816" width="27" height="16" fill="#19bfb6"/><rect x="785" y="816" width="81" height="16" fill="#64cd6f"/><rect x="215" y="832" width="27" height="16" fill="#20a5e3"/><rect x="242" y="832" width="28" height="16" fill="#37c897"/><rect x="270" y="832" width="27" height="16" fill="#64cd6f"/><rect x="324" y="832" width="27" height="16" fill="#37c897"/><rect x="378" y="832" width="27" height="16" fill="#64cd6f"/><rect x="731" y="832" width="27" height="16" fill="#08b5d0"/><rect x="758" y="832" width="27" height="16" fill="#37c897"/><rect x="785" y="832" width="27" height="16" fill="#f9fb15"/><rect x="812" y="832" width="54" height="16" fill="#37c897"/><rect x="242" y="848" width="28" height="17" fill="#64cd6f"/><rect x="270" y="848" width="54" height="17" fill="#37c897"/><rect x="324" y="848" width="27" height="17" fill="#64cd6f"/><rect x="351" y="848" width="27" height="17" fill="#81cc59"/><rect x="378" y="848" width="27" height="17" fill="#08b5d0"/><rect x="704" y="848" width="27" height="17" fill="#37c897"/><rect x="731" y="848" width="27" height="17" fill="#abc739"/><rect x="758" y="848" width="27" height="17" fill="#37c897"/><rect x="785" y="848" width="27" height="17" fill="#81cc59"/><rect x="812" y="848" width="27" height="17" fill="#19bfb6"/><rect x="242" y="865" width="82" height="16" fill="#64cd6f"/><rect x="324" y="865" width="27" height="16" fill="#81cc59"/><rect x="351" y="865" width="27" height="16" fill="#64cd6f"/><rect x="676" y="865" width="28" height="16" fill="#e6bb2d"/><rect x="704" y="865" width="27" height="16" fill="#64cd6f"/><rect x="731" y="865" width="27" height="16" fill="#abc739"/><rect x="758" y="865" width="27" height="16" fill="#37c897"/><rect x="785" y="865" width="27" height="16" fill="#abc739"/><rect x="812" y="865" width="27" height="16" fill="#37c897"/></g>
<g clip-path="url(#pc)">
<path d="M245.0,912.7 L249.0,899.9 L253.0,887.2 L257.0,874.7 L261.0,862.4 L265.0,850.3 L269.0,838.3 L273.0,826.5 L277.0,814.9 L281.0,803.5 L285.0,792.3 L289.0,781.2 L293.0,770.3 L297.0,759.6 L301.0,749.0 L305.0,738.6 L309.0,728.5 L313.0,718.4 L317.0,708.6 L321.0,698.9 L325.0,689.4 L329.0,680.1 L333.0,671.0 L337.0,662.0 L341.0,653.2 L345.0,644.6 L349.0,636.2 L353.0,627.9 L357.0,619.8 L361.0,611.9 L365.0,604.2 L369.0,596.6 L373.0,589.2 L377.0,582.0 L381.0,575.0 L385.0,568.1 L389.0,561.4 L393.0,554.9 L397.0,548.6 L401.0,542.4 L405.0,536.5 L409.0,530.7 L413.0,525.0 L417.0,519.6 L421.0,514.3 L425.0,509.2 L429.0,504.3 L433.0,499.5 L437.0,495.0 L441.0,490.6 L445.0,486.4 L449.0,482.3 L453.0,478.4 L457.0,474.7 L461.0,471.2 L465.0,467.9 L469.0,464.7 L473.0,461.7 L477.0,458.9 L481.0,456.3 L485.0,453.8 L489.0,451.5 L493.0,449.4 L497.0,447.5 L501.0,445.7 L505.0,444.1 L509.0,442.7 L513.0,441.5 L517.0,440.4 L521.0,439.6 L525.0,438.9 L529.0,438.3 L533.0,438.0 L537.0,437.8 L541.0,437.8 L545.0,438.0 L549.0,438.3 L553.0,438.9 L557.0,439.6 L561.0,440.4 L565.0,441.5 L569.0,442.7 L573.0,444.1 L577.0,445.7 L581.0,447.5 L585.0,449.4 L589.0,451.5 L593.0,453.8 L597.0,456.2 L601.0,458.9 L605.0,461.7 L609.0,464.7 L613.0,467.8 L617.0,471.2 L621.0,474.7 L625.0,478.4 L629.0,482.2 L633.0,486.3 L637.0,490.5 L641.0,494.9 L645.0,499.5 L649.0,504.2 L653.0,509.1 L657.0,514.2 L661.0,519.5 L665.0,524.9 L669.0,530.6 L673.0,536.3 L677.0,542.3 L681.0,548.5 L685.0,554.8 L689.0,561.3 L693.0,568.0 L697.0,574.8 L701.0,581.9 L705.0,589.1 L709.0,596.4 L713.0,604.0 L717.0,611.7 L721.0,619.6 L725.0,627.7 L729.0,636.0 L733.0,644.4 L737.0,653.0 L741.0,661.8 L745.0,670.8 L749.0,679.9 L753.0,689.2 L757.0,698.7 L761.0,708.4 L765.0,718.2 L769.0,728.2 L773.0,738.4 L777.0,748.8 L781.0,759.4 L785.0,770.1 L789.0,781.0 L793.0,792.0 L797.0,803.3 L801.0,814.7 L805.0,826.3 L809.0,838.1 L813.0,850.0 L817.0,862.2 L821.0,874.5 L825.0,886.9 L829.0,899.6 L833.0,912.4" fill="none" stroke="#000" stroke-width="2.8"/>
<g fill="none" stroke="#ff0000" stroke-width="7" stroke-dasharray="26.5 12.5">
<path d="M534.5,368.0 L532.5,368.0 L530.5,368.1 L528.5,368.2 L526.5,368.3 L524.5,368.4 L522.5,368.5 L520.5,368.7 L518.5,368.8 L516.5,369.0 L514.6,369.2 L512.6,369.4 L510.6,369.6 L508.6,369.8 L506.6,370.1 L504.6,370.4 L502.6,370.6 L500.6,370.9 L498.6,371.3 L496.6,371.6 L494.6,371.9 L492.6,372.3 L490.6,372.7 L488.6,373.1 L486.6,373.5 L484.6,373.9 L482.6,374.3 L480.6,374.8 L478.6,375.3 L476.6,375.8 L474.7,376.3 L472.7,376.8 L470.7,377.3 L468.7,377.9 L466.7,378.4 L464.7,379.0 L462.7,379.6 L460.7,380.2 L458.7,380.8 L456.7,381.5 L454.7,382.1 L452.7,382.8 L450.7,383.5 L448.7,384.2 L446.7,384.9 L444.7,385.7 L442.7,386.4 L440.7,387.2 L438.7,388.0 L436.8,388.8 L434.8,389.6 L432.8,390.4 L430.8,391.3 L428.8,392.1 L426.8,393.0 L424.8,393.9 L422.8,394.8 L420.8,395.7 L418.8,396.6 L416.8,397.6 L414.8,398.6 L412.8,399.6 L410.8,400.6 L408.8,401.6 L406.8,402.6 L404.8,403.6 L402.8,404.7 L400.8,405.8 L398.9,406.9 L396.9,408.0 L394.9,409.1 L392.9,410.2 L390.9,411.4 L388.9,412.6 L386.9,413.7 L384.9,414.9 L382.9,416.2 L380.9,417.4 L378.9,418.6 L376.9,419.9 L374.9,421.2 L372.9,422.5 L370.9,423.8 L368.9,425.1 L366.9,426.4 L364.9,427.8 L362.9,429.1 L360.9,430.5 L359.0,431.9 L357.0,433.3 L355.0,434.8 L353.0,436.2 L351.0,437.7 L349.0,439.1 L347.0,440.6 L345.0,442.1 L343.0,443.6 L341.0,445.2 L339.0,446.7 L337.0,448.3 L335.0,449.8 L333.0,451.4 L331.0,453.0 L329.0,454.7 L327.0,456.3 L325.0,457.9 L323.0,459.6 L321.1,461.3 L319.1,463.0 L317.1,464.7 L315.1,466.4 L313.1,468.2 L311.1,469.9 L309.1,471.7 L307.1,473.5 L305.1,475.3 L303.1,477.1 L301.1,478.9 L299.1,480.7 L297.1,482.6 L295.1,484.5 L293.1,486.4 L291.1,488.3 L289.1,490.2 L287.1,492.1 L285.1,494.0 L283.1,496.0 L281.2,498.0 L279.2,500.0 L277.2,502.0 L275.2,504.0 L273.2,506.0 L271.2,508.1 L269.2,510.1 L267.2,512.2 L265.2,514.3 L263.2,516.4 L261.2,518.5 L259.2,520.6 L257.2,522.8 L255.2,524.9 L253.2,527.1 L251.2,529.3 L249.2,531.5 L247.2,533.7 L245.2,535.9 L243.3,538.2 L241.3,540.4 L239.3,542.7 L237.3,545.0 L235.3,547.3 L233.3,549.6 L231.3,551.9 L229.3,554.3 L227.3,556.6 L225.3,559.0 L223.3,561.4 L221.3,563.8 L219.3,566.2 L217.3,568.6 L215.3,571.1 L213.3,573.5 L211.3,576.0 L209.3,578.5 L207.3,580.9 L205.4,583.5 L203.4,586.0 L201.4,588.5 L199.4,591.1 L197.4,593.6 L195.4,596.2 L193.4,598.8 L191.4,601.4 L189.4,604.0 L187.4,606.6 L185.4,609.3 L183.4,611.9 L181.4,614.6 L179.4,617.3 L177.4,620.0 L175.4,622.7 L173.4,625.4 L171.4,628.2 L169.4,630.9 L167.4,633.7 L165.5,636.4 L163.5,639.2 L161.5,642.0 L159.5,644.9 L157.5,647.7 L155.5,650.5 L153.5,653.4 L151.5,656.2 L149.5,659.1 L147.5,662.0"/>
<path d="M561.0,368.9 L563.0,369.0 L565.0,369.2 L567.0,369.4 L569.0,369.7 L570.9,369.9 L572.9,370.2 L574.9,370.4 L576.9,370.7 L578.9,371.0 L580.9,371.3 L582.9,371.7 L584.9,372.0 L586.9,372.4 L588.9,372.8 L590.8,373.2 L592.8,373.6 L594.8,374.0 L596.8,374.4 L598.8,374.9 L600.8,375.4 L602.8,375.9 L604.8,376.4 L606.8,376.9 L608.8,377.4 L610.7,378.0 L612.7,378.5 L614.7,379.1 L616.7,379.7 L618.7,380.3 L620.7,381.0 L622.7,381.6 L624.7,382.3 L626.7,382.9 L628.6,383.6 L630.6,384.3 L632.6,385.1 L634.6,385.8 L636.6,386.6 L638.6,387.3 L640.6,388.1 L642.6,388.9 L644.6,389.7 L646.6,390.6 L648.5,391.4 L650.5,392.3 L652.5,393.1 L654.5,394.0 L656.5,394.9 L658.5,395.9 L660.5,396.8 L662.5,397.7 L664.5,398.7 L666.5,399.7 L668.4,400.7 L670.4,401.7 L672.4,402.7 L674.4,403.8 L676.4,404.9 L678.4,405.9 L680.4,407.0 L682.4,408.1 L684.4,409.2 L686.4,410.4 L688.3,411.5 L690.3,412.7 L692.3,413.9 L694.3,415.1 L696.3,416.3 L698.3,417.5 L700.3,418.8 L702.3,420.0 L704.3,421.3 L706.2,422.6 L708.2,423.9 L710.2,425.2 L712.2,426.5 L714.2,427.9 L716.2,429.3 L718.2,430.6 L720.2,432.0 L722.2,433.4 L724.2,434.9 L726.1,436.3 L728.1,437.7 L730.1,439.2 L732.1,440.7 L734.1,442.2 L736.1,443.7 L738.1,445.2 L740.1,446.8 L742.1,448.3 L744.1,449.9 L746.0,451.5 L748.0,453.1 L750.0,454.7 L752.0,456.4 L754.0,458.0 L756.0,459.7 L758.0,461.3 L760.0,463.0 L762.0,464.7 L763.9,466.5 L765.9,468.2 L767.9,469.9 L769.9,471.7 L771.9,473.5 L773.9,475.3 L775.9,477.1 L777.9,478.9 L779.9,480.7 L781.9,482.6 L783.8,484.5 L785.8,486.3 L787.8,488.2 L789.8,490.1 L791.8,492.1 L793.8,494.0 L795.8,496.0 L797.8,497.9 L799.8,499.9 L801.8,501.9 L803.7,503.9 L805.7,505.9 L807.7,508.0 L809.7,510.0 L811.7,512.1 L813.7,514.2 L815.7,516.3 L817.7,518.4 L819.7,520.5 L821.6,522.6 L823.6,524.8 L825.6,527.0 L827.6,529.1 L829.6,531.3 L831.6,533.5 L833.6,535.8 L835.6,538.0 L837.6,540.3 L839.6,542.5 L841.5,544.8 L843.5,547.1 L845.5,549.4 L847.5,551.7 L849.5,554.1 L851.5,556.4 L853.5,558.8 L855.5,561.1 L857.5,563.5 L859.5,565.9 L861.4,568.4 L863.4,570.8 L865.4,573.2 L867.4,575.7 L869.4,578.2 L871.4,580.6 L873.4,583.1 L875.4,585.7 L877.4,588.2 L879.4,590.7 L881.3,593.3 L883.3,595.8 L885.3,598.4 L887.3,601.0 L889.3,603.6 L891.3,606.2 L893.3,608.9 L895.3,611.5 L897.3,614.2 L899.2,616.9 L901.2,619.6 L903.2,622.3 L905.2,625.0 L907.2,627.7 L909.2,630.4 L911.2,633.2 L913.2,636.0 L915.2,638.7 L917.2,641.5 L919.1,644.3 L921.1,647.2 L923.1,650.0 L925.1,652.8 L927.1,655.7 L929.1,658.6 L931.1,661.5 L933.1,664.4 L935.1,667.3 L937.1,670.2 L939.0,673.1 L941.0,676.1 L943.0,679.0 L945.0,682.0 L947.0,685.0"/>
<path d="M542.2,368.0 L543.1,368.0 L544.0,368.0 L544.8,368.0 L545.7,368.0 L546.6,368.1 L547.5,368.1 L548.3,368.1 L549.2,368.1" stroke-dasharray="none"/>
</g>
</g>
<g clip-path="url(#mc)">
<circle cx="539.8" cy="622.9" r="137.5" fill="url(#mars)"/>
<g filter="url(#bl2)" opacity="0.35"><ellipse cx="470" cy="520" rx="50" ry="30" fill="#3a2216"/><ellipse cx="470" cy="742" rx="55" ry="18" fill="#5a3020"/></g>
<g filter="url(#bl2)" fill="#d8905e" opacity="0.35"><ellipse cx="625" cy="610" rx="38" ry="65"/><ellipse cx="585" cy="712" rx="45" ry="25"/><ellipse cx="590" cy="545" rx="25" ry="25"/></g>
<rect x="400" y="485" width="280" height="276" filter="url(#tex)" opacity="0.35"/>
<g filter="url(#bl2)" fill="none" stroke="#4a2a1e" stroke-linecap="round" opacity="0.5"><path d="M542,548 L538,600 L528,650 L512,700 L506,745" stroke-width="30"/></g>
<g filter="url(#bl)">
<g fill="none" stroke="#2a160e" stroke-linecap="round" stroke-linejoin="round" opacity="0.75"><path d="M526,546 L548,550" stroke-width="10"/><path d="M542,556 L539,590 L536,625 L528,648 L515,660 L506,690 L503,740" stroke-width="13"/><path d="M549,575 L546,610 L543,640" stroke-width="7"/><path d="M575,598 L577,640" stroke-width="7" opacity="0.8"/><path d="M522,642 L545,652 L556,664" stroke-width="6"/><path d="M498,655 L510,672" stroke-width="7"/></g>
<g fill="#45261b" opacity="0.5"><ellipse cx="520" cy="690" rx="9" ry="22" transform="rotate(15 520 690)"/><ellipse cx="530" cy="660" rx="12" ry="6"/></g>
<g fill="#3a2018" opacity="0.8"><ellipse cx="551" cy="703" rx="4" ry="6"/><ellipse cx="565" cy="493" rx="7" ry="3"/><ellipse cx="612" cy="519" rx="5" ry="3" transform="rotate(30 612 519)"/><ellipse cx="648" cy="697" rx="4" ry="6"/><ellipse cx="570" cy="735" rx="5" ry="3"/><ellipse cx="640" cy="718" rx="6" ry="3"/></g>
</g>
<g fill="none" stroke="#e09a7a" stroke-width="1.5" opacity="0.35" filter="url(#bl)"><path d="M585,608 Q600,600 612,612 T640,625 T665,640"/><path d="M600,650 Q620,645 640,660"/></g>
<circle cx="539.8" cy="622.9" r="137.5" fill="url(#limb)"/>
</g>
<rect x="132.2" y="243.2" width="814.6" height="651.6" fill="none" stroke="#000" stroke-width="2.6"/>
<line x1="132" y1="419.7" x2="144.5" y2="419.7" stroke="#000" stroke-width="2.6"/>
<line x1="132" y1="623.3" x2="144.5" y2="623.3" stroke="#000" stroke-width="2.6"/>
<line x1="132" y1="827.1" x2="144.5" y2="827.1" stroke="#000" stroke-width="2.6"/>
<line x1="336.6" y1="895" x2="336.6" y2="906" stroke="#000" stroke-width="2.6"/>
<line x1="540.4" y1="895" x2="540.4" y2="906" stroke="#000" stroke-width="2.6"/>
<line x1="744.4" y1="895" x2="744.4" y2="906" stroke="#000" stroke-width="2.6"/>
<g font-family='"Liberation Sans", sans-serif' font-size="32" fill="#000">
<text id="xt1" x="336" y="940" text-anchor="middle">−1.5</text>
<text id="xt2" x="545" y="940" text-anchor="middle">0.0</text>
<text id="xt3" x="749.5" y="940" text-anchor="middle">1.5</text>
<text id="yt1" transform="translate(82,426.8) rotate(90)" x="0" y="0" text-anchor="middle">1.5</text>
<text id="yt2" transform="translate(82,625.0) rotate(90)" x="0" y="0" text-anchor="middle">0.0</text>
<text id="yt3" transform="translate(82,816.0) rotate(90)" x="0" y="0" text-anchor="middle">−1.5</text>
</g>
<text id="ylab" transform="translate(42,583.5) rotate(90)" font-family='"Liberation Sans", sans-serif' font-size="35" text-anchor="middle"><tspan font-style="italic">X</tspan>(<tspan font-style="italic">R</tspan><tspan font-size="22" dy="6">M</tspan><tspan dy="-6">)</tspan></text>
<g font-family='"Liberation Sans", sans-serif' fill="#000">
<text transform="translate(365.10,987.70) scale(1.004,1)" font-size="30">sign</text><text transform="translate(417.60,987.70) scale(1.200,1)" font-size="30">(</text><text transform="translate(426.85,987.70) scale(0.916,1)" font-size="30" font-style="italic">Y</text><text transform="translate(447.69,987.70) scale(1.114,1)" font-size="30">)</text><text transform="translate(463.47,987.70) scale(1.133,1)" font-size="30">·</text><text transform="translate(500.62,987.70) scale(1.087,1)" font-size="30">(</text><text transform="translate(512.25,987.70) scale(0.916,1)" font-size="30" font-style="italic">Y</text><text transform="translate(532.92,978.00) scale(1.078,1)" font-size="19">2</text><text transform="translate(553.73,987.70) scale(1.267,1)" font-size="30">+</text><text transform="translate(583.76,987.70) scale(0.960,1)" font-size="30" font-style="italic">Z</text><text transform="translate(605.13,978.00) scale(1.167,1)" font-size="19">2</text><text transform="translate(621.00,987.70) scale(1.000,1)" font-size="30">)</text><text transform="translate(634.62,987.70) scale(1.088,1)" font-size="30">(</text><text transform="translate(645.53,987.70) scale(0.870,1)" font-size="30" font-style="italic">R</text><text transform="translate(663.72,992.90) scale(1.338,1)" font-size="20">M</text><text transform="translate(686.30,987.70) scale(1.000,1)" font-size="30">)</text>
<path d="M478.5,975 L483,972.5 L490,992 L496.5,953 L635,953" fill="none" stroke="#000" stroke-width="1.6"/>
</g>
<text id="sw1" x="143.5" y="290" font-family='"Liberation Sans", sans-serif' font-size="36.1" font-weight="bold">Solar Wind</text>
<text id="bs1" x="449" y="352" font-family='"Liberation Sans", sans-serif' font-size="34" font-weight="bold" fill="#ff0000">Bow Shock</text>
<text id="ms1" transform="translate(180.3,820.2) rotate(-60.5)" font-family='"Liberation Sans", sans-serif' font-size="34" font-weight="bold">Magnetosheath</text>
<rect x="381.2" y="771.4" width="317.5" height="12.8" fill="url(#cb)"/>
<rect x="393.9" y="780.0" width="2.6" height="4.2" fill="#000"/><rect x="413.9" y="782.4" width="1.4" height="1.8" fill="#000"/><rect x="425.2" y="782.4" width="1.4" height="1.8" fill="#000"/><rect x="433.3" y="782.4" width="1.4" height="1.8" fill="#000"/><rect x="439.5" y="782.4" width="1.4" height="1.8" fill="#000"/><rect x="444.6" y="782.4" width="1.4" height="1.8" fill="#000"/><rect x="448.9" y="782.4" width="1.4" height="1.8" fill="#000"/><rect x="452.7" y="782.4" width="1.4" height="1.8" fill="#000"/><rect x="456.0" y="782.4" width="1.4" height="1.8" fill="#000"/><rect x="458.3" y="780.0" width="2.6" height="4.2" fill="#000"/><rect x="478.3" y="782.4" width="1.4" height="1.8" fill="#000"/><rect x="489.6" y="782.4" width="1.4" height="1.8" fill="#000"/><rect x="497.7" y="782.4" width="1.4" height="1.8" fill="#000"/><rect x="503.9" y="782.4" width="1.4" height="1.8" fill="#000"/><rect x="509.0" y="782.4" width="1.4" height="1.8" fill="#000"/><rect x="513.3" y="782.4" width="1.4" height="1.8" fill="#000"/><rect x="517.1" y="782.4" width="1.4" height="1.8" fill="#000"/><rect x="520.4" y="782.4" width="1.4" height="1.8" fill="#000"/><rect x="522.7" y="780.0" width="2.6" height="4.2" fill="#000"/><rect x="542.7" y="782.4" width="1.4" height="1.8" fill="#000"/><rect x="554.0" y="782.4" width="1.4" height="1.8" fill="#000"/><rect x="562.1" y="782.4" width="1.4" height="1.8" fill="#000"/><rect x="568.3" y="782.4" width="1.4" height="1.8" fill="#000"/><rect x="573.4" y="782.4" width="1.4" height="1.8" fill="#000"/><rect x="577.7" y="782.4" width="1.4" height="1.8" fill="#000"/><rect x="581.5" y="782.4" width="1.4" height="1.8" fill="#000"/><rect x="584.8" y="782.4" width="1.4" height="1.8" fill="#000"/><rect x="587.1" y="780.0" width="2.6" height="4.2" fill="#000"/><rect x="607.1" y="782.4" width="1.4" height="1.8" fill="#000"/><rect x="618.4" y="782.4" width="1.4" height="1.8" fill="#000"/><rect x="626.5" y="782.4" width="1.4" height="1.8" fill="#000"/><rect x="632.7" y="782.4" width="1.4" height="1.8" fill="#000"/><rect x="637.8" y="782.4" width="1.4" height="1.8" fill="#000"/><rect x="642.1" y="782.4" width="1.4" height="1.8" fill="#000"/><rect x="645.9" y="782.4" width="1.4" height="1.8" fill="#000"/><rect x="649.2" y="782.4" width="1.4" height="1.8" fill="#000"/><rect x="651.5" y="780.0" width="2.6" height="4.2" fill="#000"/><rect x="671.5" y="782.4" width="1.4" height="1.8" fill="#000"/><rect x="682.8" y="782.4" width="1.4" height="1.8" fill="#000"/>
<rect x="380.3" y="770.4" width="319.4" height="14.8" fill="none" stroke="#000" stroke-width="2.2"/>
<g font-family='"Liberation Sans", sans-serif' fill="#000">
<text transform="translate(377.15,826.50) scale(1.127,1)" font-size="22">10</text><text transform="translate(404.82,810.00) scale(1.184,1)" font-size="16">−17</text><text transform="translate(507.64,826.50) scale(1.182,1)" font-size="22">10</text><text transform="translate(536.83,810.00) scale(1.165,1)" font-size="16">−15</text><text transform="translate(638.64,826.50) scale(1.182,1)" font-size="22">10</text><text transform="translate(668.57,810.00) scale(1.135,1)" font-size="16">−13</text>
<text transform="translate(468.80,856.50) scale(1.000,1)" font-size="26" font-style="italic">ε</text><text transform="translate(488.77,856.50) scale(1.067,1)" font-size="26">(</text><text transform="translate(497.02,856.50) scale(0.780,1)" font-size="26">J</text><text transform="translate(515.14,856.50) scale(1.228,1)" font-size="26">m</text><text transform="translate(541.99,846.80) scale(1.405,1)" font-size="18">−3</text><text transform="translate(569.01,856.50) scale(1.091,1)" font-size="26">s</text><text transform="translate(584.54,846.80) scale(1.263,1)" font-size="18">−1</text><text transform="translate(610.22,856.50) scale(1.383,1)" font-size="26">)</text>
</g>
<line x1="983.65" y1="258" x2="983.65" y2="895" stroke="#000" stroke-width="5.6"/>
<polygon points="983.6,243 975.2,259.8 992.1,259.8" fill="#000"/>
<line x1="981" y1="892" x2="1914" y2="892" stroke="#000" stroke-width="5.6"/>
<polygon points="1929.6,892 1912.5,883.8 1912.5,900.2" fill="#000"/>
<g font-family='"Liberation Sans", sans-serif' font-weight="bold" font-size="46" text-anchor="middle">
<text id="tu" x="1171.3" y="477.7">Turbulent</text><text id="en" x="1171.3" y="531">energy</text><text id="di" x="1177.8" y="586">dissipation</text>
</g>
<g font-family='"Liberation Sans", sans-serif' fill="#000">
<text transform="translate(1075.73,665.50) scale(1.269,1)" font-size="32" font-style="italic">ε</text><text transform="translate(1106.60,665.50) scale(1.150,1)" font-size="32">(</text><text transform="translate(1120.31,665.50) scale(0.692,1)" font-size="32">J</text><text transform="translate(1144.12,665.50) scale(1.291,1)" font-size="32">m</text><text transform="translate(1181.19,650.10) scale(1.408,1)" font-size="23">−3</text><text transform="translate(1219.33,665.50) scale(1.171,1)" font-size="32">s</text><text transform="translate(1240.68,650.10) scale(1.321,1)" font-size="23">−1</text><text transform="translate(1279.88,665.50) scale(1.125,1)" font-size="32">)</text>
</g>
<g font-family='"Liberation Sans", sans-serif' font-weight="bold" font-size="33.5">
<text id="sw2" x="1064" y="943" font-size="34.6">Solar Wind</text>
<text id="bs2" x="1301.5" y="943" font-size="34" fill="#ff0000">Bow Shock</text>
<text id="ms2" x="1553" y="943" font-size="34.3">Magnetosheath</text>
</g>
<text id="fo" x="1314.5" y="878.4" font-family='"Liberation Sans", sans-serif' font-size="34.5" fill="#ff0000">Forcing</text>
<path d="M1363.2,401.5 L1375.4,401.5 L1375.4,843.6 L1381.8,843.6 L1368.9,855.6 L1356,843.6 L1363.2,843.6 Z" fill="none" stroke="#ff0000" stroke-width="1.6"/>
<rect x="1863.3" y="402" width="15.8" height="478.5" fill="none" stroke="#000" stroke-width="2"/>
<g fill="#1e1a1a"><path d="M1463.9 451.4 1465.2 451.7 1466.5 452.3 1467.7 453.1 1468.8 454.0 1469.8 455.2 1470.7 456.4 1471.4 457.8 1472.0 459.4 1472.4 461.0 1472.6 462.7 1472.6 464.5 1472.4 466.2 1472.0 468.0 1471.3 469.8 1470.4 471.5 1469.4 473.1 1468.0 474.6 1466.5 476.0 1464.8 477.2 1462.9 478.1 1460.9 478.8 1458.8 479.3 1456.7 479.5 1454.5 479.5 1452.2 479.2 1450.0 478.7 1447.9 477.9 1445.8 476.8 1443.9 475.5 1442.1 474.0 1440.4 472.2 1439.0 470.3 1437.8 468.2 1436.8 465.9 1436.1 463.5 1435.6 461.0 1435.5 458.4 1435.6 455.9 1436.1 453.3 1436.8 450.7 1437.9 448.3 1439.2 445.9 1440.8 443.7 1442.7 441.7 1444.8 439.9 1447.1 438.4 1449.6 437.1 1452.3 436.1 1455.1 435.3 1458.0 435.0 1460.9 434.9 1463.9 435.2 1466.8 435.8 1469.7 436.8 1472.4 438.1 1475.1 439.8 1477.5 441.7 1479.7 443.9 1481.6 446.4 1483.3 449.1 1484.7 452.0 1485.7 455.1 1486.4 458.3 1486.7 461.6 1486.6 464.9 1486.1 468.2 1485.3 471.5 1484.1 474.7 1482.5 477.7 1480.5 480.6 1478.3 483.2 1475.7 485.6 1472.8 487.7 1469.7 489.4 1466.4 490.8 1462.9 491.9 1459.3 492.5 1455.7 492.7 1452.0 492.5 1448.3 491.8 1444.7 490.8 1441.2 489.3 1437.9 487.4 1434.8 485.1 1432.0 482.5 1429.4 479.5 1427.2 476.3 1425.4 472.8 1424.0 469.1 1423.0 465.2 1422.4 461.2 1422.3 457.1 1422.7 453.1 1423.6 449.0 1424.9 445.1 1426.6 441.3 1428.8 437.8 1431.4 434.4 1434.4 431.4 1437.8 428.7 1441.4 426.5 1445.3 424.6 1449.4 423.2 1453.7 422.2 1458.1 421.8 1462.6 421.8 1467.0 422.4 1471.4 423.4 1475.6 425.0 1479.7 427.1 1483.5 429.6 1487.0 432.6 1490.2 435.9 1493.0 439.7 1495.4 443.7 1497.3 448.0 1498.7 452.5 1499.5 457.2 1499.9 462.0 1499.7 466.8 1498.9 471.6 1497.6 476.3 1495.7 480.9 1493.4 485.2 1490.5 489.3 1487.2 493.0 1483.4 496.3 1479.3 499.2 1474.8 501.6 1470.1 503.4 1465.1 504.7 1460.0 505.4 1454.9 505.5 1449.8 505.0 1444.7 503.9 1439.8 502.3 1435.1 500.1 1430.6 497.3 1426.5 494.1 1422.8 490.4 1419.5 486.3 1416.7 481.8 1414.4 477.0 1412.7 472.0 1411.6 466.8 1411.1 461.5 1411.2 456.1 1411.9 450.8 1413.2 445.6 1415.3 440.7 1415.3 440.7 1413.7 445.8 1412.8 451.0 1412.4 456.2 1412.6 461.4 1413.3 466.5 1414.6 471.4 1416.5 476.1 1418.9 480.5 1421.7 484.6 1424.9 488.4 1428.6 491.7 1432.5 494.5 1436.7 496.9 1441.1 498.7 1445.7 500.0 1450.3 500.8 1455.0 501.1 1459.6 500.8 1464.1 500.0 1468.5 498.7 1472.6 496.9 1476.6 494.8 1480.2 492.2 1483.5 489.3 1486.4 486.0 1489.0 482.4 1491.0 478.6 1492.7 474.6 1493.8 470.5 1494.5 466.3 1494.7 462.1 1494.4 457.9 1493.6 453.8 1492.4 449.8 1490.7 446.1 1488.7 442.5 1486.2 439.3 1483.4 436.3 1480.4 433.8 1477.1 431.6 1473.5 429.8 1469.8 428.4 1466.1 427.5 1462.2 427.0 1458.4 427.0 1454.6 427.3 1450.9 428.2 1447.3 429.4 1443.9 431.0 1440.8 433.0 1437.9 435.3 1435.3 437.9 1433.1 440.7 1431.2 443.8 1429.7 447.0 1428.6 450.4 1427.9 453.8 1427.5 457.3 1427.6 460.8 1428.1 464.2 1428.9 467.5 1430.1 470.7 1431.7 473.6 1433.5 476.4 1435.7 478.9 1438.1 481.1 1440.7 483.0 1443.5 484.6 1446.4 485.9 1449.5 486.8 1452.6 487.3 1455.7 487.5 1458.7 487.3 1461.8 486.8 1464.7 485.9 1467.4 484.8 1470.0 483.3 1472.4 481.6 1474.5 479.6 1476.4 477.4 1478.0 475.0 1479.3 472.5 1480.3 469.9 1481.0 467.2 1481.4 464.5 1481.5 461.8 1481.2 459.1 1480.7 456.5 1479.8 454.0 1478.7 451.6 1477.4 449.4 1475.8 447.4 1474.0 445.6 1472.1 444.0 1469.9 442.7 1467.7 441.6 1465.4 440.9 1463.1 440.3 1460.7 440.1 1458.4 440.2 1456.1 440.5 1453.9 441.0 1451.8 441.8 1449.8 442.8 1447.9 444.1 1446.3 445.5 1444.8 447.1 1443.6 448.8 1442.5 450.6 1441.7 452.5 1441.1 454.5 1440.8 456.4 1440.7 458.4 1440.8 460.4 1441.1 462.3 1441.7 464.1 1442.4 465.8 1443.3 467.5 1444.4 468.9 1445.7 470.2 1447.0 471.4 1448.5 472.3 1450.0 473.1 1451.6 473.7 1453.2 474.1 1454.8 474.3 1456.4 474.3 1458.0 474.1 1459.5 473.8 1460.9 473.3 1462.3 472.6 1463.5 471.9 1464.7 471.0 1465.8 470.1 1466.7 469.0 1467.5 467.8 1468.2 466.6 1468.7 465.3 1469.1 464.0 1469.3 462.7 1469.4 461.3 1469.3 460.0 1469.0 458.7 1468.7 457.4 1468.1 456.2 1467.5 455.1 1466.7 454.1 1465.9 453.1 1464.9 452.3 1463.9 451.4Z"/><path d="M1463.9 557.7 1465.2 558.0 1466.5 558.6 1467.7 559.4 1468.8 560.3 1469.8 561.5 1470.7 562.7 1471.4 564.1 1472.0 565.7 1472.4 567.3 1472.6 569.0 1472.6 570.8 1472.4 572.5 1472.0 574.3 1471.3 576.1 1470.4 577.8 1469.4 579.4 1468.0 580.9 1466.5 582.3 1464.8 583.5 1462.9 584.4 1460.9 585.1 1458.8 585.6 1456.7 585.8 1454.5 585.8 1452.2 585.5 1450.0 585.0 1447.9 584.2 1445.8 583.1 1443.9 581.8 1442.1 580.3 1440.4 578.5 1439.0 576.6 1437.8 574.5 1436.8 572.2 1436.1 569.8 1435.6 567.3 1435.5 564.7 1435.6 562.2 1436.1 559.6 1436.8 557.0 1437.9 554.6 1439.2 552.2 1440.8 550.0 1442.7 548.0 1444.8 546.2 1447.1 544.7 1449.6 543.4 1452.3 542.4 1455.1 541.6 1458.0 541.3 1460.9 541.2 1463.9 541.5 1466.8 542.1 1469.7 543.1 1472.4 544.4 1475.1 546.1 1477.5 548.0 1479.7 550.2 1481.6 552.7 1483.3 555.4 1484.7 558.3 1485.7 561.4 1486.4 564.6 1486.7 567.9 1486.6 571.2 1486.1 574.5 1485.3 577.8 1484.1 581.0 1482.5 584.0 1480.5 586.9 1478.3 589.5 1475.7 591.9 1472.8 594.0 1469.7 595.7 1466.4 597.1 1462.9 598.2 1459.3 598.8 1455.7 599.0 1452.0 598.8 1448.3 598.1 1444.7 597.1 1441.2 595.6 1437.9 593.7 1434.8 591.4 1432.0 588.8 1429.4 585.8 1427.2 582.6 1425.4 579.1 1424.0 575.4 1423.0 571.5 1422.4 567.5 1422.3 563.4 1422.7 559.4 1423.6 555.3 1424.9 551.4 1426.6 547.6 1428.8 544.1 1431.4 540.7 1434.4 537.7 1437.8 535.0 1441.4 532.8 1445.3 530.9 1449.4 529.5 1453.7 528.5 1458.1 528.1 1462.6 528.1 1467.0 528.7 1471.4 529.7 1475.6 531.3 1479.7 533.4 1483.5 535.9 1487.0 538.9 1490.2 542.2 1493.0 546.0 1495.4 550.0 1497.3 554.3 1498.7 558.8 1499.5 563.5 1499.9 568.3 1499.7 573.1 1498.9 577.9 1497.6 582.6 1495.7 587.2 1493.4 591.5 1490.5 595.6 1487.2 599.3 1483.4 602.6 1479.3 605.5 1474.8 607.9 1470.1 609.7 1465.1 611.0 1460.0 611.7 1454.9 611.8 1449.8 611.3 1444.7 610.2 1439.8 608.6 1435.1 606.4 1430.6 603.6 1426.5 600.4 1422.8 596.7 1419.5 592.6 1416.7 588.1 1414.4 583.3 1412.7 578.3 1411.6 573.1 1411.1 567.8 1411.2 562.4 1411.9 557.1 1413.2 551.9 1415.3 547.0 1415.3 547.0 1413.7 552.1 1412.8 557.3 1412.4 562.5 1412.6 567.7 1413.3 572.8 1414.6 577.7 1416.5 582.4 1418.9 586.8 1421.7 590.9 1424.9 594.7 1428.6 598.0 1432.5 600.8 1436.7 603.2 1441.1 605.0 1445.7 606.3 1450.3 607.1 1455.0 607.4 1459.6 607.1 1464.1 606.3 1468.5 605.0 1472.6 603.2 1476.6 601.1 1480.2 598.5 1483.5 595.6 1486.4 592.3 1489.0 588.7 1491.0 584.9 1492.7 580.9 1493.8 576.8 1494.5 572.6 1494.7 568.4 1494.4 564.2 1493.6 560.1 1492.4 556.1 1490.7 552.4 1488.7 548.8 1486.2 545.6 1483.4 542.6 1480.4 540.1 1477.1 537.9 1473.5 536.1 1469.8 534.7 1466.1 533.8 1462.2 533.3 1458.4 533.3 1454.6 533.6 1450.9 534.5 1447.3 535.7 1443.9 537.3 1440.8 539.3 1437.9 541.6 1435.3 544.2 1433.1 547.0 1431.2 550.1 1429.7 553.3 1428.6 556.7 1427.9 560.1 1427.5 563.6 1427.6 567.1 1428.1 570.5 1428.9 573.8 1430.1 577.0 1431.7 579.9 1433.5 582.7 1435.7 585.2 1438.1 587.4 1440.7 589.3 1443.5 590.9 1446.4 592.2 1449.5 593.1 1452.6 593.6 1455.7 593.8 1458.7 593.6 1461.8 593.1 1464.7 592.2 1467.4 591.1 1470.0 589.6 1472.4 587.9 1474.5 585.9 1476.4 583.7 1478.0 581.3 1479.3 578.8 1480.3 576.2 1481.0 573.5 1481.4 570.8 1481.5 568.1 1481.2 565.4 1480.7 562.8 1479.8 560.3 1478.7 557.9 1477.4 555.7 1475.8 553.7 1474.0 551.9 1472.1 550.3 1469.9 549.0 1467.7 547.9 1465.4 547.2 1463.1 546.6 1460.7 546.4 1458.4 546.5 1456.1 546.8 1453.9 547.3 1451.8 548.1 1449.8 549.1 1447.9 550.4 1446.3 551.8 1444.8 553.4 1443.6 555.1 1442.5 556.9 1441.7 558.8 1441.1 560.8 1440.8 562.7 1440.7 564.7 1440.8 566.7 1441.1 568.6 1441.7 570.4 1442.4 572.1 1443.3 573.8 1444.4 575.2 1445.7 576.5 1447.0 577.7 1448.5 578.6 1450.0 579.4 1451.6 580.0 1453.2 580.4 1454.8 580.6 1456.4 580.6 1458.0 580.4 1459.5 580.1 1460.9 579.6 1462.3 578.9 1463.5 578.2 1464.7 577.3 1465.8 576.4 1466.7 575.3 1467.5 574.1 1468.2 572.9 1468.7 571.6 1469.1 570.3 1469.3 569.0 1469.4 567.6 1469.3 566.3 1469.0 565.0 1468.7 563.7 1468.1 562.5 1467.5 561.4 1466.7 560.4 1465.9 559.4 1464.9 558.6 1463.9 557.7Z"/><path d="M1463.9 676.9 1465.2 677.2 1466.5 677.8 1467.7 678.5 1468.8 679.5 1469.8 680.6 1470.7 681.9 1471.4 683.3 1472.0 684.8 1472.4 686.4 1472.6 688.1 1472.6 689.9 1472.4 691.7 1472.0 693.5 1471.3 695.2 1470.4 696.9 1469.4 698.6 1468.0 700.1 1466.5 701.5 1464.8 702.6 1462.9 703.5 1460.9 704.3 1458.8 704.7 1456.7 705.0 1454.5 704.9 1452.2 704.7 1450.0 704.1 1447.9 703.3 1445.8 702.3 1443.9 701.0 1442.1 699.4 1440.4 697.7 1439.0 695.7 1437.8 693.6 1436.8 691.3 1436.1 688.9 1435.6 686.4 1435.5 683.9 1435.6 681.3 1436.1 678.7 1436.8 676.2 1437.9 673.7 1439.2 671.4 1440.8 669.2 1442.7 667.2 1444.8 665.4 1447.1 663.8 1449.6 662.5 1452.3 661.5 1455.1 660.8 1458.0 660.4 1460.9 660.4 1463.9 660.7 1466.8 661.3 1469.7 662.3 1472.4 663.6 1475.1 665.2 1477.5 667.2 1479.7 669.4 1481.6 671.9 1483.3 674.6 1484.7 677.5 1485.7 680.6 1486.4 683.8 1486.7 687.0 1486.6 690.4 1486.1 693.7 1485.3 696.9 1484.1 700.1 1482.5 703.2 1480.5 706.0 1478.3 708.7 1475.7 711.0 1472.8 713.1 1469.7 714.9 1466.4 716.3 1462.9 717.3 1459.3 717.9 1455.7 718.1 1452.0 717.9 1448.3 717.3 1444.7 716.2 1441.2 714.7 1437.9 712.8 1434.8 710.6 1432.0 707.9 1429.4 705.0 1427.2 701.7 1425.4 698.2 1424.0 694.5 1423.0 690.6 1422.4 686.6 1422.3 682.6 1422.7 678.5 1423.6 674.5 1424.9 670.6 1426.6 666.8 1428.8 663.2 1431.4 659.9 1434.4 656.9 1437.8 654.2 1441.4 651.9 1445.3 650.0 1449.4 648.6 1453.7 647.7 1458.1 647.2 1462.6 647.3 1467.0 647.8 1471.4 648.9 1475.6 650.5 1479.7 652.5 1483.5 655.0 1487.0 658.0 1490.2 661.4 1493.0 665.1 1495.4 669.2 1497.3 673.5 1498.7 678.0 1499.5 682.7 1499.9 687.5 1499.7 692.3 1498.9 697.1 1497.6 701.8 1495.7 706.3 1493.4 710.7 1490.5 714.7 1487.2 718.4 1483.4 721.7 1479.3 724.6 1474.8 727.0 1470.1 728.8 1465.1 730.1 1460.0 730.8 1454.9 730.9 1449.8 730.4 1444.7 729.4 1439.8 727.7 1435.1 725.5 1430.6 722.8 1426.5 719.5 1422.8 715.8 1419.5 711.7 1416.7 707.2 1414.4 702.5 1412.7 697.4 1411.6 692.2 1411.1 686.9 1411.2 681.6 1411.9 676.3 1413.2 671.1 1415.3 666.1 1415.3 666.1 1413.7 671.2 1412.8 676.4 1412.4 681.6 1412.6 686.8 1413.3 691.9 1414.6 696.9 1416.5 701.6 1418.9 706.0 1421.7 710.1 1424.9 713.8 1428.6 717.1 1432.5 720.0 1436.7 722.3 1441.1 724.2 1445.7 725.5 1450.3 726.3 1455.0 726.5 1459.6 726.3 1464.1 725.5 1468.5 724.2 1472.6 722.4 1476.6 720.2 1480.2 717.7 1483.5 714.7 1486.4 711.5 1489.0 707.9 1491.0 704.1 1492.7 700.1 1493.8 696.0 1494.5 691.8 1494.7 687.5 1494.4 683.4 1493.6 679.2 1492.4 675.3 1490.7 671.5 1488.7 668.0 1486.2 664.7 1483.4 661.8 1480.4 659.2 1477.1 657.0 1473.5 655.2 1469.8 653.9 1466.1 652.9 1462.2 652.4 1458.4 652.4 1454.6 652.8 1450.9 653.6 1447.3 654.8 1443.9 656.5 1440.8 658.4 1437.9 660.7 1435.3 663.3 1433.1 666.2 1431.2 669.3 1429.7 672.5 1428.6 675.9 1427.9 679.3 1427.5 682.8 1427.6 686.2 1428.1 689.6 1428.9 692.9 1430.1 696.1 1431.7 699.1 1433.5 701.8 1435.7 704.3 1438.1 706.6 1440.7 708.5 1443.5 710.1 1446.4 711.3 1449.5 712.2 1452.6 712.8 1455.7 712.9 1458.7 712.8 1461.8 712.2 1464.7 711.4 1467.4 710.2 1470.0 708.8 1472.4 707.0 1474.5 705.1 1476.4 702.9 1478.0 700.5 1479.3 698.0 1480.3 695.4 1481.0 692.7 1481.4 689.9 1481.5 687.2 1481.2 684.5 1480.7 681.9 1479.8 679.4 1478.7 677.0 1477.4 674.8 1475.8 672.8 1474.0 671.0 1472.1 669.5 1469.9 668.1 1467.7 667.1 1465.4 666.3 1463.1 665.8 1460.7 665.6 1458.4 665.6 1456.1 665.9 1453.9 666.5 1451.8 667.3 1449.8 668.3 1447.9 669.5 1446.3 670.9 1444.8 672.5 1443.6 674.2 1442.5 676.0 1441.7 678.0 1441.1 679.9 1440.8 681.9 1440.7 683.9 1440.8 685.8 1441.1 687.7 1441.7 689.6 1442.4 691.3 1443.3 692.9 1444.4 694.4 1445.7 695.7 1447.0 696.8 1448.5 697.8 1450.0 698.6 1451.6 699.2 1453.2 699.6 1454.8 699.8 1456.4 699.8 1458.0 699.6 1459.5 699.3 1460.9 698.7 1462.3 698.1 1463.5 697.3 1464.7 696.5 1465.8 695.5 1466.7 694.5 1467.5 693.3 1468.2 692.1 1468.7 690.8 1469.1 689.5 1469.3 688.1 1469.4 686.8 1469.3 685.4 1469.0 684.1 1468.7 682.9 1468.1 681.7 1467.5 680.6 1466.7 679.5 1465.9 678.6 1464.9 677.7 1463.9 676.9Z"/><path d="M1463.9 788.9 1465.2 789.2 1466.5 789.8 1467.7 790.6 1468.8 791.5 1469.8 792.7 1470.7 793.9 1471.4 795.3 1472.0 796.9 1472.4 798.5 1472.6 800.2 1472.6 802.0 1472.4 803.7 1472.0 805.5 1471.3 807.3 1470.4 809.0 1469.4 810.6 1468.0 812.1 1466.5 813.5 1464.8 814.7 1462.9 815.6 1460.9 816.3 1458.8 816.8 1456.7 817.0 1454.5 817.0 1452.2 816.7 1450.0 816.2 1447.9 815.4 1445.8 814.3 1443.9 813.0 1442.1 811.5 1440.4 809.7 1439.0 807.8 1437.8 805.7 1436.8 803.4 1436.1 801.0 1435.6 798.5 1435.5 795.9 1435.6 793.4 1436.1 790.8 1436.8 788.2 1437.9 785.8 1439.2 783.4 1440.8 781.2 1442.7 779.2 1444.8 777.4 1447.1 775.9 1449.6 774.6 1452.3 773.6 1455.1 772.8 1458.0 772.5 1460.9 772.4 1463.9 772.7 1466.8 773.3 1469.7 774.3 1472.4 775.6 1475.1 777.3 1477.5 779.2 1479.7 781.4 1481.6 783.9 1483.3 786.6 1484.7 789.5 1485.7 792.6 1486.4 795.8 1486.7 799.1 1486.6 802.4 1486.1 805.7 1485.3 809.0 1484.1 812.2 1482.5 815.2 1480.5 818.1 1478.3 820.7 1475.7 823.1 1472.8 825.2 1469.7 826.9 1466.4 828.3 1462.9 829.4 1459.3 830.0 1455.7 830.2 1452.0 830.0 1448.3 829.3 1444.7 828.3 1441.2 826.8 1437.9 824.9 1434.8 822.6 1432.0 820.0 1429.4 817.0 1427.2 813.8 1425.4 810.3 1424.0 806.6 1423.0 802.7 1422.4 798.7 1422.3 794.6 1422.7 790.6 1423.6 786.5 1424.9 782.6 1426.6 778.8 1428.8 775.3 1431.4 771.9 1434.4 768.9 1437.8 766.2 1441.4 764.0 1445.3 762.1 1449.4 760.7 1453.7 759.7 1458.1 759.3 1462.6 759.3 1467.0 759.9 1471.4 760.9 1475.6 762.5 1479.7 764.6 1483.5 767.1 1487.0 770.1 1490.2 773.4 1493.0 777.2 1495.4 781.2 1497.3 785.5 1498.7 790.0 1499.5 794.7 1499.9 799.5 1499.7 804.3 1498.9 809.1 1497.6 813.8 1495.7 818.4 1493.4 822.7 1490.5 826.8 1487.2 830.5 1483.4 833.8 1479.3 836.7 1474.8 839.1 1470.1 840.9 1465.1 842.2 1460.0 842.9 1454.9 843.0 1449.8 842.5 1444.7 841.4 1439.8 839.8 1435.1 837.6 1430.6 834.8 1426.5 831.6 1422.8 827.9 1419.5 823.8 1416.7 819.3 1414.4 814.5 1412.7 809.5 1411.6 804.3 1411.1 799.0 1411.2 793.6 1411.9 788.3 1413.2 783.1 1415.3 778.2 1415.3 778.2 1413.7 783.3 1412.8 788.5 1412.4 793.7 1412.6 798.9 1413.3 804.0 1414.6 808.9 1416.5 813.6 1418.9 818.0 1421.7 822.1 1424.9 825.9 1428.6 829.2 1432.5 832.0 1436.7 834.4 1441.1 836.2 1445.7 837.5 1450.3 838.3 1455.0 838.6 1459.6 838.3 1464.1 837.5 1468.5 836.2 1472.6 834.4 1476.6 832.3 1480.2 829.7 1483.5 826.8 1486.4 823.5 1489.0 819.9 1491.0 816.1 1492.7 812.1 1493.8 808.0 1494.5 803.8 1494.7 799.6 1494.4 795.4 1493.6 791.3 1492.4 787.3 1490.7 783.6 1488.7 780.0 1486.2 776.8 1483.4 773.8 1480.4 771.3 1477.1 769.1 1473.5 767.3 1469.8 765.9 1466.1 765.0 1462.2 764.5 1458.4 764.5 1454.6 764.8 1450.9 765.7 1447.3 766.9 1443.9 768.5 1440.8 770.5 1437.9 772.8 1435.3 775.4 1433.1 778.2 1431.2 781.3 1429.7 784.5 1428.6 787.9 1427.9 791.3 1427.5 794.8 1427.6 798.3 1428.1 801.7 1428.9 805.0 1430.1 808.2 1431.7 811.1 1433.5 813.9 1435.7 816.4 1438.1 818.6 1440.7 820.5 1443.5 822.1 1446.4 823.4 1449.5 824.3 1452.6 824.8 1455.7 825.0 1458.7 824.8 1461.8 824.3 1464.7 823.4 1467.4 822.3 1470.0 820.8 1472.4 819.1 1474.5 817.1 1476.4 814.9 1478.0 812.5 1479.3 810.0 1480.3 807.4 1481.0 804.7 1481.4 802.0 1481.5 799.3 1481.2 796.6 1480.7 794.0 1479.8 791.5 1478.7 789.1 1477.4 786.9 1475.8 784.9 1474.0 783.1 1472.1 781.5 1469.9 780.2 1467.7 779.1 1465.4 778.4 1463.1 777.8 1460.7 777.6 1458.4 777.7 1456.1 778.0 1453.9 778.5 1451.8 779.3 1449.8 780.3 1447.9 781.6 1446.3 783.0 1444.8 784.6 1443.6 786.3 1442.5 788.1 1441.7 790.0 1441.1 792.0 1440.8 793.9 1440.7 795.9 1440.8 797.9 1441.1 799.8 1441.7 801.6 1442.4 803.3 1443.3 805.0 1444.4 806.4 1445.7 807.7 1447.0 808.9 1448.5 809.8 1450.0 810.6 1451.6 811.2 1453.2 811.6 1454.8 811.8 1456.4 811.8 1458.0 811.6 1459.5 811.3 1460.9 810.8 1462.3 810.1 1463.5 809.4 1464.7 808.5 1465.8 807.6 1466.7 806.5 1467.5 805.3 1468.2 804.1 1468.7 802.8 1469.1 801.5 1469.3 800.2 1469.4 798.8 1469.3 797.5 1469.0 796.2 1468.7 794.9 1468.1 793.7 1467.5 792.6 1466.7 791.6 1465.9 790.6 1464.9 789.8 1463.9 788.9Z"/><path d="M1588.3 453.8 1589.4 454.1 1590.4 454.5 1591.3 455.2 1592.2 455.9 1593.0 456.8 1593.7 457.8 1594.3 458.9 1594.8 460.2 1595.1 461.5 1595.3 462.8 1595.3 464.2 1595.1 465.6 1594.8 467.1 1594.2 468.5 1593.5 469.8 1592.7 471.1 1591.6 472.3 1590.4 473.4 1589.1 474.4 1587.6 475.1 1586.0 475.7 1584.3 476.0 1582.5 476.2 1580.8 476.2 1579.0 476.0 1577.3 475.6 1575.5 474.9 1573.9 474.1 1572.3 473.1 1570.9 471.8 1569.6 470.4 1568.4 468.9 1567.5 467.2 1566.7 465.4 1566.1 463.5 1565.8 461.5 1565.7 459.4 1565.8 457.4 1566.1 455.3 1566.7 453.3 1567.6 451.3 1568.6 449.5 1569.9 447.7 1571.4 446.1 1573.1 444.7 1574.9 443.4 1576.9 442.4 1579.1 441.6 1581.3 441.0 1583.6 440.7 1586.0 440.7 1588.3 440.9 1590.7 441.4 1592.9 442.2 1595.1 443.2 1597.2 444.5 1599.2 446.1 1600.9 447.8 1602.5 449.8 1603.8 452.0 1604.9 454.3 1605.7 456.8 1606.2 459.3 1606.5 461.9 1606.4 464.6 1606.1 467.2 1605.4 469.8 1604.4 472.4 1603.2 474.8 1601.6 477.1 1599.8 479.2 1597.7 481.1 1595.4 482.8 1593.0 484.2 1590.3 485.3 1587.6 486.1 1584.7 486.6 1581.8 486.7 1578.8 486.6 1575.9 486.1 1573.0 485.2 1570.2 484.0 1567.6 482.5 1565.1 480.7 1562.8 478.6 1560.8 476.3 1559.1 473.7 1557.6 470.9 1556.5 467.9 1555.7 464.8 1555.2 461.6 1555.2 458.4 1555.5 455.1 1556.1 451.9 1557.2 448.8 1558.6 445.8 1560.3 442.9 1562.4 440.3 1564.8 437.9 1567.5 435.7 1570.4 433.9 1573.5 432.4 1576.8 431.3 1580.2 430.5 1583.7 430.2 1587.3 430.2 1590.8 430.6 1594.3 431.5 1597.7 432.8 1600.9 434.4 1603.9 436.4 1606.8 438.8 1609.3 441.5 1611.5 444.4 1613.4 447.7 1614.9 451.1 1616.0 454.7 1616.8 458.5 1617.0 462.3 1616.9 466.1 1616.2 469.9 1615.2 473.7 1613.7 477.3 1611.8 480.8 1609.5 484.0 1606.9 487.0 1603.9 489.6 1600.6 491.9 1597.0 493.8 1593.2 495.3 1589.3 496.3 1585.2 496.8 1581.1 496.9 1577.1 496.5 1573.0 495.7 1569.1 494.4 1565.3 492.6 1561.8 490.4 1558.5 487.9 1555.5 484.9 1552.9 481.6 1550.7 478.0 1548.9 474.2 1547.5 470.2 1546.6 466.1 1546.2 461.8 1546.3 457.6 1546.8 453.4 1547.9 449.2 1549.5 445.2 1549.5 445.2 1548.3 449.3 1547.5 453.5 1547.2 457.6 1547.4 461.8 1548.0 465.8 1549.0 469.8 1550.5 473.5 1552.4 477.1 1554.7 480.3 1557.2 483.3 1560.1 485.9 1563.3 488.2 1566.6 490.1 1570.2 491.6 1573.8 492.6 1577.5 493.2 1581.2 493.4 1584.9 493.2 1588.5 492.6 1592.0 491.6 1595.3 490.1 1598.4 488.4 1601.3 486.4 1604.0 484.0 1606.3 481.4 1608.3 478.6 1610.0 475.5 1611.3 472.4 1612.2 469.1 1612.7 465.7 1612.9 462.3 1612.6 459.0 1612.0 455.7 1611.0 452.6 1609.7 449.6 1608.1 446.7 1606.1 444.1 1603.9 441.8 1601.5 439.7 1598.8 438.0 1596.0 436.6 1593.1 435.5 1590.0 434.7 1587.0 434.3 1583.9 434.3 1580.9 434.6 1577.9 435.3 1575.1 436.3 1572.4 437.5 1569.9 439.1 1567.6 441.0 1565.5 443.0 1563.8 445.3 1562.2 447.7 1561.0 450.3 1560.1 453.0 1559.6 455.8 1559.3 458.5 1559.4 461.3 1559.7 464.0 1560.4 466.6 1561.4 469.2 1562.6 471.5 1564.1 473.7 1565.8 475.7 1567.7 477.5 1569.8 479.0 1572.1 480.3 1574.4 481.3 1576.8 482.0 1579.3 482.5 1581.8 482.6 1584.2 482.5 1586.6 482.0 1588.9 481.4 1591.1 480.4 1593.2 479.3 1595.1 477.9 1596.8 476.3 1598.3 474.6 1599.6 472.7 1600.6 470.7 1601.4 468.6 1602.0 466.4 1602.3 464.3 1602.3 462.1 1602.1 459.9 1601.7 457.8 1601.0 455.8 1600.2 454.0 1599.1 452.2 1597.8 450.6 1596.4 449.2 1594.8 447.9 1593.1 446.9 1591.4 446.0 1589.5 445.4 1587.7 445.0 1585.8 444.8 1583.9 444.8 1582.1 445.1 1580.3 445.5 1578.6 446.2 1577.1 447.0 1575.6 448.0 1574.3 449.1 1573.1 450.3 1572.1 451.7 1571.3 453.2 1570.6 454.7 1570.2 456.2 1569.9 457.8 1569.8 459.4 1569.9 461.0 1570.2 462.5 1570.6 464.0 1571.2 465.3 1571.9 466.6 1572.8 467.8 1573.8 468.8 1574.8 469.7 1576.0 470.5 1577.2 471.1 1578.5 471.6 1579.8 471.9 1581.1 472.1 1582.3 472.1 1583.6 472.0 1584.8 471.7 1585.9 471.3 1587.0 470.7 1588.0 470.1 1589.0 469.5 1589.8 468.7 1590.6 467.9 1591.2 466.9 1591.8 465.9 1592.2 464.9 1592.5 463.9 1592.6 462.8 1592.7 461.7 1592.6 460.7 1592.4 459.6 1592.1 458.6 1591.7 457.7 1591.2 456.8 1590.6 455.9 1589.9 455.2 1589.1 454.5 1588.3 453.8Z"/><path d="M1588.3 533.0 1589.4 533.3 1590.4 533.7 1591.3 534.4 1592.2 535.1 1593.0 536.0 1593.7 537.0 1594.3 538.1 1594.8 539.4 1595.1 540.7 1595.3 542.0 1595.3 543.4 1595.1 544.8 1594.8 546.3 1594.2 547.7 1593.5 549.0 1592.7 550.3 1591.6 551.5 1590.4 552.6 1589.1 553.6 1587.6 554.3 1586.0 554.9 1584.3 555.2 1582.5 555.4 1580.8 555.4 1579.0 555.2 1577.3 554.8 1575.5 554.1 1573.9 553.3 1572.3 552.3 1570.9 551.0 1569.6 549.6 1568.4 548.1 1567.5 546.4 1566.7 544.6 1566.1 542.7 1565.8 540.7 1565.7 538.6 1565.8 536.6 1566.1 534.5 1566.7 532.5 1567.6 530.5 1568.6 528.7 1569.9 526.9 1571.4 525.3 1573.1 523.9 1574.9 522.6 1576.9 521.6 1579.1 520.8 1581.3 520.2 1583.6 519.9 1586.0 519.9 1588.3 520.1 1590.7 520.6 1592.9 521.4 1595.1 522.4 1597.2 523.7 1599.2 525.3 1600.9 527.0 1602.5 529.0 1603.8 531.2 1604.9 533.5 1605.7 536.0 1606.2 538.5 1606.5 541.1 1606.4 543.8 1606.1 546.4 1605.4 549.0 1604.4 551.6 1603.2 554.0 1601.6 556.3 1599.8 558.4 1597.7 560.3 1595.4 562.0 1593.0 563.4 1590.3 564.5 1587.6 565.3 1584.7 565.8 1581.8 565.9 1578.8 565.8 1575.9 565.3 1573.0 564.4 1570.2 563.2 1567.6 561.7 1565.1 559.9 1562.8 557.8 1560.8 555.5 1559.1 552.9 1557.6 550.1 1556.5 547.1 1555.7 544.0 1555.2 540.8 1555.2 537.6 1555.5 534.3 1556.1 531.1 1557.2 528.0 1558.6 525.0 1560.3 522.1 1562.4 519.5 1564.8 517.1 1567.5 514.9 1570.4 513.1 1573.5 511.6 1576.8 510.5 1580.2 509.7 1583.7 509.4 1587.3 509.4 1590.8 509.8 1594.3 510.7 1597.7 512.0 1600.9 513.6 1603.9 515.6 1606.8 518.0 1609.3 520.7 1611.5 523.6 1613.4 526.9 1614.9 530.3 1616.0 533.9 1616.8 537.7 1617.0 541.5 1616.9 545.3 1616.2 549.1 1615.2 552.9 1613.7 556.5 1611.8 560.0 1609.5 563.2 1606.9 566.2 1603.9 568.8 1600.6 571.1 1597.0 573.0 1593.2 574.5 1589.3 575.5 1585.2 576.0 1581.1 576.1 1577.1 575.7 1573.0 574.9 1569.1 573.6 1565.3 571.8 1561.8 569.6 1558.5 567.1 1555.5 564.1 1552.9 560.8 1550.7 557.2 1548.9 553.4 1547.5 549.4 1546.6 545.3 1546.2 541.0 1546.3 536.8 1546.8 532.6 1547.9 528.4 1549.5 524.4 1549.5 524.4 1548.3 528.5 1547.5 532.7 1547.2 536.8 1547.4 541.0 1548.0 545.0 1549.0 549.0 1550.5 552.7 1552.4 556.3 1554.7 559.5 1557.2 562.5 1560.1 565.1 1563.3 567.4 1566.6 569.3 1570.2 570.8 1573.8 571.8 1577.5 572.4 1581.2 572.6 1584.9 572.4 1588.5 571.8 1592.0 570.8 1595.3 569.3 1598.4 567.6 1601.3 565.6 1604.0 563.2 1606.3 560.6 1608.3 557.8 1610.0 554.7 1611.3 551.6 1612.2 548.3 1612.7 544.9 1612.9 541.5 1612.6 538.2 1612.0 534.9 1611.0 531.8 1609.7 528.8 1608.1 525.9 1606.1 523.3 1603.9 521.0 1601.5 518.9 1598.8 517.2 1596.0 515.8 1593.1 514.7 1590.0 513.9 1587.0 513.5 1583.9 513.5 1580.9 513.8 1577.9 514.5 1575.1 515.5 1572.4 516.7 1569.9 518.3 1567.6 520.2 1565.5 522.2 1563.8 524.5 1562.2 526.9 1561.0 529.5 1560.1 532.2 1559.6 535.0 1559.3 537.7 1559.4 540.5 1559.7 543.2 1560.4 545.8 1561.4 548.4 1562.6 550.7 1564.1 552.9 1565.8 554.9 1567.7 556.7 1569.8 558.2 1572.1 559.5 1574.4 560.5 1576.8 561.2 1579.3 561.7 1581.8 561.8 1584.2 561.7 1586.6 561.2 1588.9 560.6 1591.1 559.6 1593.2 558.5 1595.1 557.1 1596.8 555.5 1598.3 553.8 1599.6 551.9 1600.6 549.9 1601.4 547.8 1602.0 545.6 1602.3 543.5 1602.3 541.3 1602.1 539.1 1601.7 537.0 1601.0 535.0 1600.2 533.2 1599.1 531.4 1597.8 529.8 1596.4 528.4 1594.8 527.1 1593.1 526.1 1591.4 525.2 1589.5 524.6 1587.7 524.2 1585.8 524.0 1583.9 524.0 1582.1 524.3 1580.3 524.7 1578.6 525.4 1577.1 526.2 1575.6 527.2 1574.3 528.3 1573.1 529.5 1572.1 530.9 1571.3 532.4 1570.6 533.9 1570.2 535.4 1569.9 537.0 1569.8 538.6 1569.9 540.2 1570.2 541.7 1570.6 543.2 1571.2 544.5 1571.9 545.8 1572.8 547.0 1573.8 548.0 1574.8 548.9 1576.0 549.7 1577.2 550.3 1578.5 550.8 1579.8 551.1 1581.1 551.3 1582.3 551.3 1583.6 551.2 1584.8 550.9 1585.9 550.5 1587.0 549.9 1588.0 549.3 1589.0 548.7 1589.8 547.9 1590.6 547.1 1591.2 546.1 1591.8 545.1 1592.2 544.1 1592.5 543.1 1592.6 542.0 1592.7 540.9 1592.6 539.9 1592.4 538.8 1592.1 537.8 1591.7 536.9 1591.2 536.0 1590.6 535.1 1589.9 534.4 1589.1 533.7 1588.3 533.0Z"/><path d="M1588.3 614.3 1589.4 614.5 1590.4 615.0 1591.3 615.6 1592.2 616.4 1593.0 617.3 1593.7 618.3 1594.3 619.4 1594.8 620.6 1595.1 621.9 1595.3 623.3 1595.3 624.7 1595.1 626.1 1594.8 627.5 1594.2 628.9 1593.5 630.3 1592.7 631.6 1591.6 632.8 1590.4 633.9 1589.1 634.8 1587.6 635.5 1586.0 636.1 1584.3 636.5 1582.5 636.7 1580.8 636.7 1579.0 636.4 1577.3 636.0 1575.5 635.4 1573.9 634.5 1572.3 633.5 1570.9 632.3 1569.6 630.9 1568.4 629.3 1567.5 627.6 1566.7 625.8 1566.1 623.9 1565.8 621.9 1565.7 619.9 1565.8 617.8 1566.1 615.8 1566.7 613.7 1567.6 611.8 1568.6 609.9 1569.9 608.2 1571.4 606.5 1573.1 605.1 1574.9 603.9 1576.9 602.8 1579.1 602.0 1581.3 601.5 1583.6 601.1 1586.0 601.1 1588.3 601.3 1590.7 601.8 1592.9 602.6 1595.1 603.7 1597.2 605.0 1599.2 606.5 1600.9 608.3 1602.5 610.3 1603.8 612.4 1604.9 614.8 1605.7 617.2 1606.2 619.8 1606.5 622.4 1606.4 625.0 1606.1 627.7 1605.4 630.3 1604.4 632.8 1603.2 635.2 1601.6 637.5 1599.8 639.6 1597.7 641.5 1595.4 643.2 1593.0 644.6 1590.3 645.7 1587.6 646.5 1584.7 647.0 1581.8 647.2 1578.8 647.0 1575.9 646.5 1573.0 645.7 1570.2 644.5 1567.6 643.0 1565.1 641.2 1562.8 639.1 1560.8 636.7 1559.1 634.1 1557.6 631.3 1556.5 628.4 1555.7 625.3 1555.2 622.1 1555.2 618.8 1555.5 615.6 1556.1 612.4 1557.2 609.2 1558.6 606.2 1560.3 603.4 1562.4 600.7 1564.8 598.3 1567.5 596.2 1570.4 594.4 1573.5 592.9 1576.8 591.7 1580.2 591.0 1583.7 590.6 1587.3 590.7 1590.8 591.1 1594.3 592.0 1597.7 593.2 1600.9 594.9 1603.9 596.9 1606.8 599.2 1609.3 601.9 1611.5 604.9 1613.4 608.1 1614.9 611.6 1616.0 615.2 1616.8 618.9 1617.0 622.7 1616.9 626.6 1616.2 630.4 1615.2 634.1 1613.7 637.8 1611.8 641.2 1609.5 644.5 1606.9 647.4 1603.9 650.1 1600.6 652.4 1597.0 654.3 1593.2 655.7 1589.3 656.7 1585.2 657.3 1581.1 657.4 1577.1 657.0 1573.0 656.1 1569.1 654.8 1565.3 653.1 1561.8 650.9 1558.5 648.3 1555.5 645.3 1552.9 642.1 1550.7 638.5 1548.9 634.7 1547.5 630.7 1546.6 626.5 1546.2 622.3 1546.3 618.0 1546.8 613.8 1547.9 609.7 1549.5 605.7 1549.5 605.7 1548.3 609.8 1547.5 613.9 1547.2 618.1 1547.4 622.2 1548.0 626.3 1549.0 630.2 1550.5 634.0 1552.4 637.5 1554.7 640.8 1557.2 643.7 1560.1 646.4 1563.3 648.7 1566.6 650.5 1570.2 652.0 1573.8 653.1 1577.5 653.7 1581.2 653.9 1584.9 653.7 1588.5 653.0 1592.0 652.0 1595.3 650.6 1598.4 648.9 1601.3 646.8 1604.0 644.5 1606.3 641.9 1608.3 639.0 1610.0 636.0 1611.3 632.8 1612.2 629.5 1612.7 626.2 1612.9 622.8 1612.6 619.4 1612.0 616.2 1611.0 613.0 1609.7 610.0 1608.1 607.2 1606.1 604.6 1603.9 602.2 1601.5 600.2 1598.8 598.4 1596.0 597.0 1593.1 595.9 1590.0 595.2 1587.0 594.8 1583.9 594.8 1580.9 595.1 1577.9 595.7 1575.1 596.7 1572.4 598.0 1569.9 599.6 1567.6 601.4 1565.5 603.5 1563.8 605.7 1562.2 608.2 1561.0 610.8 1560.1 613.5 1559.6 616.2 1559.3 619.0 1559.4 621.7 1559.7 624.5 1560.4 627.1 1561.4 629.6 1562.6 632.0 1564.1 634.2 1565.8 636.2 1567.7 638.0 1569.8 639.5 1572.1 640.8 1574.4 641.8 1576.8 642.5 1579.3 642.9 1581.8 643.0 1584.2 642.9 1586.6 642.5 1588.9 641.8 1591.1 640.9 1593.2 639.7 1595.1 638.3 1596.8 636.8 1598.3 635.0 1599.6 633.1 1600.6 631.1 1601.4 629.0 1602.0 626.9 1602.3 624.7 1602.3 622.5 1602.1 620.4 1601.7 618.3 1601.0 616.3 1600.2 614.4 1599.1 612.6 1597.8 611.0 1596.4 609.6 1594.8 608.4 1593.1 607.3 1591.4 606.5 1589.5 605.8 1587.7 605.4 1585.8 605.3 1583.9 605.3 1582.1 605.5 1580.3 606.0 1578.6 606.6 1577.1 607.4 1575.6 608.4 1574.3 609.5 1573.1 610.8 1572.1 612.2 1571.3 613.6 1570.6 615.1 1570.2 616.7 1569.9 618.3 1569.8 619.9 1569.9 621.4 1570.2 622.9 1570.6 624.4 1571.2 625.8 1571.9 627.1 1572.8 628.2 1573.8 629.3 1574.8 630.2 1576.0 631.0 1577.2 631.6 1578.5 632.1 1579.8 632.4 1581.1 632.5 1582.3 632.5 1583.6 632.4 1584.8 632.1 1585.9 631.7 1587.0 631.2 1588.0 630.6 1589.0 629.9 1589.8 629.2 1590.6 628.3 1591.2 627.4 1591.8 626.4 1592.2 625.4 1592.5 624.3 1592.6 623.2 1592.7 622.2 1592.6 621.1 1592.4 620.1 1592.1 619.1 1591.7 618.1 1591.2 617.2 1590.6 616.4 1589.9 615.6 1589.1 614.9 1588.3 614.3Z"/><path d="M1588.3 691.3 1589.4 691.6 1590.4 692.0 1591.3 692.7 1592.2 693.4 1593.0 694.3 1593.7 695.3 1594.3 696.4 1594.8 697.7 1595.1 699.0 1595.3 700.3 1595.3 701.7 1595.1 703.1 1594.8 704.6 1594.2 706.0 1593.5 707.3 1592.7 708.6 1591.6 709.8 1590.4 710.9 1589.1 711.9 1587.6 712.6 1586.0 713.2 1584.3 713.5 1582.5 713.7 1580.8 713.7 1579.0 713.5 1577.3 713.1 1575.5 712.4 1573.9 711.6 1572.3 710.6 1570.9 709.3 1569.6 707.9 1568.4 706.4 1567.5 704.7 1566.7 702.9 1566.1 701.0 1565.8 699.0 1565.7 696.9 1565.8 694.9 1566.1 692.8 1566.7 690.8 1567.6 688.8 1568.6 687.0 1569.9 685.2 1571.4 683.6 1573.1 682.2 1574.9 680.9 1576.9 679.9 1579.1 679.1 1581.3 678.5 1583.6 678.2 1586.0 678.2 1588.3 678.4 1590.7 678.9 1592.9 679.7 1595.1 680.7 1597.2 682.0 1599.2 683.6 1600.9 685.3 1602.5 687.3 1603.8 689.5 1604.9 691.8 1605.7 694.3 1606.2 696.8 1606.5 699.4 1606.4 702.1 1606.1 704.7 1605.4 707.3 1604.4 709.9 1603.2 712.3 1601.6 714.6 1599.8 716.7 1597.7 718.6 1595.4 720.3 1593.0 721.7 1590.3 722.8 1587.6 723.6 1584.7 724.1 1581.8 724.2 1578.8 724.1 1575.9 723.6 1573.0 722.7 1570.2 721.5 1567.6 720.0 1565.1 718.2 1562.8 716.1 1560.8 713.8 1559.1 711.2 1557.6 708.4 1556.5 705.4 1555.7 702.3 1555.2 699.1 1555.2 695.9 1555.5 692.6 1556.1 689.4 1557.2 686.3 1558.6 683.3 1560.3 680.4 1562.4 677.8 1564.8 675.4 1567.5 673.2 1570.4 671.4 1573.5 669.9 1576.8 668.8 1580.2 668.0 1583.7 667.7 1587.3 667.7 1590.8 668.1 1594.3 669.0 1597.7 670.3 1600.9 671.9 1603.9 673.9 1606.8 676.3 1609.3 679.0 1611.5 681.9 1613.4 685.2 1614.9 688.6 1616.0 692.2 1616.8 696.0 1617.0 699.8 1616.9 703.6 1616.2 707.4 1615.2 711.2 1613.7 714.8 1611.8 718.3 1609.5 721.5 1606.9 724.5 1603.9 727.1 1600.6 729.4 1597.0 731.3 1593.2 732.8 1589.3 733.8 1585.2 734.3 1581.1 734.4 1577.1 734.0 1573.0 733.2 1569.1 731.9 1565.3 730.1 1561.8 727.9 1558.5 725.4 1555.5 722.4 1552.9 719.1 1550.7 715.5 1548.9 711.7 1547.5 707.7 1546.6 703.6 1546.2 699.3 1546.3 695.1 1546.8 690.9 1547.9 686.7 1549.5 682.7 1549.5 682.7 1548.3 686.8 1547.5 691.0 1547.2 695.1 1547.4 699.3 1548.0 703.3 1549.0 707.3 1550.5 711.0 1552.4 714.6 1554.7 717.8 1557.2 720.8 1560.1 723.4 1563.3 725.7 1566.6 727.6 1570.2 729.1 1573.8 730.1 1577.5 730.7 1581.2 730.9 1584.9 730.7 1588.5 730.1 1592.0 729.1 1595.3 727.6 1598.4 725.9 1601.3 723.9 1604.0 721.5 1606.3 718.9 1608.3 716.1 1610.0 713.0 1611.3 709.9 1612.2 706.6 1612.7 703.2 1612.9 699.8 1612.6 696.5 1612.0 693.2 1611.0 690.1 1609.7 687.1 1608.1 684.2 1606.1 681.6 1603.9 679.3 1601.5 677.2 1598.8 675.5 1596.0 674.1 1593.1 673.0 1590.0 672.2 1587.0 671.8 1583.9 671.8 1580.9 672.1 1577.9 672.8 1575.1 673.8 1572.4 675.0 1569.9 676.6 1567.6 678.5 1565.5 680.5 1563.8 682.8 1562.2 685.2 1561.0 687.8 1560.1 690.5 1559.6 693.3 1559.3 696.0 1559.4 698.8 1559.7 701.5 1560.4 704.1 1561.4 706.7 1562.6 709.0 1564.1 711.2 1565.8 713.2 1567.7 715.0 1569.8 716.5 1572.1 717.8 1574.4 718.8 1576.8 719.5 1579.3 720.0 1581.8 720.1 1584.2 720.0 1586.6 719.5 1588.9 718.9 1591.1 717.9 1593.2 716.8 1595.1 715.4 1596.8 713.8 1598.3 712.1 1599.6 710.2 1600.6 708.2 1601.4 706.1 1602.0 703.9 1602.3 701.8 1602.3 699.6 1602.1 697.4 1601.7 695.3 1601.0 693.3 1600.2 691.5 1599.1 689.7 1597.8 688.1 1596.4 686.7 1594.8 685.4 1593.1 684.4 1591.4 683.5 1589.5 682.9 1587.7 682.5 1585.8 682.3 1583.9 682.3 1582.1 682.6 1580.3 683.0 1578.6 683.7 1577.1 684.5 1575.6 685.5 1574.3 686.6 1573.1 687.8 1572.1 689.2 1571.3 690.7 1570.6 692.2 1570.2 693.7 1569.9 695.3 1569.8 696.9 1569.9 698.5 1570.2 700.0 1570.6 701.5 1571.2 702.8 1571.9 704.1 1572.8 705.3 1573.8 706.3 1574.8 707.2 1576.0 708.0 1577.2 708.6 1578.5 709.1 1579.8 709.4 1581.1 709.6 1582.3 709.6 1583.6 709.5 1584.8 709.2 1585.9 708.8 1587.0 708.2 1588.0 707.6 1589.0 707.0 1589.8 706.2 1590.6 705.4 1591.2 704.4 1591.8 703.4 1592.2 702.4 1592.5 701.4 1592.6 700.3 1592.7 699.2 1592.6 698.2 1592.4 697.1 1592.1 696.1 1591.7 695.2 1591.2 694.3 1590.6 693.4 1589.9 692.7 1589.1 692.0 1588.3 691.3Z"/><path d="M1588.3 774.7 1589.4 775.0 1590.4 775.4 1591.3 776.1 1592.2 776.8 1593.0 777.7 1593.7 778.7 1594.3 779.8 1594.8 781.1 1595.1 782.4 1595.3 783.7 1595.3 785.1 1595.1 786.5 1594.8 788.0 1594.2 789.4 1593.5 790.7 1592.7 792.0 1591.6 793.2 1590.4 794.3 1589.1 795.3 1587.6 796.0 1586.0 796.6 1584.3 796.9 1582.5 797.1 1580.8 797.1 1579.0 796.9 1577.3 796.5 1575.5 795.8 1573.9 795.0 1572.3 794.0 1570.9 792.7 1569.6 791.3 1568.4 789.8 1567.5 788.1 1566.7 786.3 1566.1 784.4 1565.8 782.4 1565.7 780.3 1565.8 778.3 1566.1 776.2 1566.7 774.2 1567.6 772.2 1568.6 770.4 1569.9 768.6 1571.4 767.0 1573.1 765.6 1574.9 764.3 1576.9 763.3 1579.1 762.5 1581.3 761.9 1583.6 761.6 1586.0 761.6 1588.3 761.8 1590.7 762.3 1592.9 763.1 1595.1 764.1 1597.2 765.4 1599.2 767.0 1600.9 768.7 1602.5 770.7 1603.8 772.9 1604.9 775.2 1605.7 777.7 1606.2 780.2 1606.5 782.8 1606.4 785.5 1606.1 788.1 1605.4 790.7 1604.4 793.3 1603.2 795.7 1601.6 798.0 1599.8 800.1 1597.7 802.0 1595.4 803.7 1593.0 805.1 1590.3 806.2 1587.6 807.0 1584.7 807.5 1581.8 807.6 1578.8 807.5 1575.9 807.0 1573.0 806.1 1570.2 804.9 1567.6 803.4 1565.1 801.6 1562.8 799.5 1560.8 797.2 1559.1 794.6 1557.6 791.8 1556.5 788.8 1555.7 785.7 1555.2 782.5 1555.2 779.3 1555.5 776.0 1556.1 772.8 1557.2 769.7 1558.6 766.7 1560.3 763.8 1562.4 761.2 1564.8 758.8 1567.5 756.6 1570.4 754.8 1573.5 753.3 1576.8 752.2 1580.2 751.4 1583.7 751.1 1587.3 751.1 1590.8 751.5 1594.3 752.4 1597.7 753.7 1600.9 755.3 1603.9 757.3 1606.8 759.7 1609.3 762.4 1611.5 765.3 1613.4 768.6 1614.9 772.0 1616.0 775.6 1616.8 779.4 1617.0 783.2 1616.9 787.0 1616.2 790.8 1615.2 794.6 1613.7 798.2 1611.8 801.7 1609.5 804.9 1606.9 807.9 1603.9 810.5 1600.6 812.8 1597.0 814.7 1593.2 816.2 1589.3 817.2 1585.2 817.7 1581.1 817.8 1577.1 817.4 1573.0 816.6 1569.1 815.3 1565.3 813.5 1561.8 811.3 1558.5 808.8 1555.5 805.8 1552.9 802.5 1550.7 798.9 1548.9 795.1 1547.5 791.1 1546.6 787.0 1546.2 782.7 1546.3 778.5 1546.8 774.3 1547.9 770.1 1549.5 766.1 1549.5 766.1 1548.3 770.2 1547.5 774.4 1547.2 778.5 1547.4 782.7 1548.0 786.7 1549.0 790.7 1550.5 794.4 1552.4 798.0 1554.7 801.2 1557.2 804.2 1560.1 806.8 1563.3 809.1 1566.6 811.0 1570.2 812.5 1573.8 813.5 1577.5 814.1 1581.2 814.3 1584.9 814.1 1588.5 813.5 1592.0 812.5 1595.3 811.0 1598.4 809.3 1601.3 807.3 1604.0 804.9 1606.3 802.3 1608.3 799.5 1610.0 796.4 1611.3 793.3 1612.2 790.0 1612.7 786.6 1612.9 783.2 1612.6 779.9 1612.0 776.6 1611.0 773.5 1609.7 770.5 1608.1 767.6 1606.1 765.0 1603.9 762.7 1601.5 760.6 1598.8 758.9 1596.0 757.5 1593.1 756.4 1590.0 755.6 1587.0 755.2 1583.9 755.2 1580.9 755.5 1577.9 756.2 1575.1 757.2 1572.4 758.4 1569.9 760.0 1567.6 761.9 1565.5 763.9 1563.8 766.2 1562.2 768.6 1561.0 771.2 1560.1 773.9 1559.6 776.7 1559.3 779.4 1559.4 782.2 1559.7 784.9 1560.4 787.5 1561.4 790.1 1562.6 792.4 1564.1 794.6 1565.8 796.6 1567.7 798.4 1569.8 799.9 1572.1 801.2 1574.4 802.2 1576.8 802.9 1579.3 803.4 1581.8 803.5 1584.2 803.4 1586.6 802.9 1588.9 802.3 1591.1 801.3 1593.2 800.2 1595.1 798.8 1596.8 797.2 1598.3 795.5 1599.6 793.6 1600.6 791.6 1601.4 789.5 1602.0 787.3 1602.3 785.2 1602.3 783.0 1602.1 780.8 1601.7 778.7 1601.0 776.7 1600.2 774.9 1599.1 773.1 1597.8 771.5 1596.4 770.1 1594.8 768.8 1593.1 767.8 1591.4 766.9 1589.5 766.3 1587.7 765.9 1585.8 765.7 1583.9 765.7 1582.1 766.0 1580.3 766.4 1578.6 767.1 1577.1 767.9 1575.6 768.9 1574.3 770.0 1573.1 771.2 1572.1 772.6 1571.3 774.1 1570.6 775.6 1570.2 777.1 1569.9 778.7 1569.8 780.3 1569.9 781.9 1570.2 783.4 1570.6 784.9 1571.2 786.2 1571.9 787.5 1572.8 788.7 1573.8 789.7 1574.8 790.6 1576.0 791.4 1577.2 792.0 1578.5 792.5 1579.8 792.8 1581.1 793.0 1582.3 793.0 1583.6 792.9 1584.8 792.6 1585.9 792.2 1587.0 791.6 1588.0 791.0 1589.0 790.4 1589.8 789.6 1590.6 788.8 1591.2 787.8 1591.8 786.8 1592.2 785.8 1592.5 784.8 1592.6 783.7 1592.7 782.6 1592.6 781.6 1592.4 780.5 1592.1 779.5 1591.7 778.6 1591.2 777.7 1590.6 776.8 1589.9 776.1 1589.1 775.4 1588.3 774.7Z"/><path d="M1711.2 472.8 1712.0 473.0 1712.8 473.3 1713.5 473.8 1714.2 474.4 1714.8 475.1 1715.3 475.8 1715.8 476.7 1716.1 477.6 1716.4 478.6 1716.5 479.6 1716.5 480.7 1716.4 481.8 1716.1 482.9 1715.7 483.9 1715.2 485.0 1714.5 486.0 1713.8 486.9 1712.8 487.7 1711.8 488.4 1710.7 489.0 1709.4 489.4 1708.2 489.7 1706.8 489.8 1705.5 489.8 1704.2 489.7 1702.8 489.3 1701.5 488.8 1700.3 488.2 1699.1 487.4 1698.0 486.5 1697.0 485.4 1696.1 484.2 1695.4 483.0 1694.8 481.6 1694.4 480.1 1694.1 478.6 1694.0 477.0 1694.1 475.5 1694.4 473.9 1694.8 472.4 1695.4 470.9 1696.3 469.5 1697.2 468.1 1698.4 466.9 1699.6 465.8 1701.1 464.9 1702.6 464.1 1704.2 463.5 1705.9 463.0 1707.7 462.8 1709.4 462.8 1711.2 463.0 1713.0 463.3 1714.8 463.9 1716.4 464.7 1718.0 465.7 1719.5 466.9 1720.8 468.2 1722.0 469.7 1723.0 471.4 1723.8 473.2 1724.5 475.0 1724.9 477.0 1725.1 479.0 1725.0 481.0 1724.7 483.0 1724.2 485.0 1723.5 486.9 1722.5 488.7 1721.3 490.5 1720.0 492.1 1718.4 493.5 1716.7 494.8 1714.8 495.9 1712.8 496.7 1710.6 497.3 1708.5 497.7 1706.2 497.8 1704.0 497.7 1701.8 497.3 1699.6 496.7 1697.5 495.8 1695.5 494.6 1693.6 493.2 1691.9 491.6 1690.3 489.9 1689.0 487.9 1687.9 485.8 1687.0 483.5 1686.4 481.1 1686.1 478.7 1686.0 476.3 1686.2 473.8 1686.8 471.4 1687.6 469.0 1688.6 466.7 1690.0 464.5 1691.5 462.5 1693.4 460.7 1695.4 459.0 1697.6 457.6 1700.0 456.5 1702.5 455.6 1705.1 455.1 1707.7 454.8 1710.4 454.8 1713.1 455.2 1715.8 455.8 1718.3 456.8 1720.8 458.0 1723.1 459.6 1725.3 461.3 1727.2 463.4 1728.9 465.7 1730.3 468.1 1731.5 470.7 1732.3 473.5 1732.9 476.3 1733.1 479.2 1732.9 482.1 1732.5 485.1 1731.7 487.9 1730.6 490.7 1729.1 493.3 1727.4 495.7 1725.4 498.0 1723.1 500.0 1720.6 501.8 1717.9 503.2 1715.0 504.3 1712.0 505.1 1708.9 505.5 1705.8 505.6 1702.7 505.3 1699.6 504.6 1696.6 503.6 1693.8 502.3 1691.1 500.6 1688.6 498.7 1686.3 496.4 1684.3 493.9 1682.6 491.2 1681.2 488.3 1680.2 485.3 1679.5 482.1 1679.2 478.9 1679.2 475.7 1679.7 472.4 1680.5 469.3 1681.7 466.3 1681.7 466.3 1680.8 469.4 1680.2 472.5 1680.0 475.7 1680.1 478.8 1680.5 481.9 1681.4 484.9 1682.5 487.8 1683.9 490.5 1685.6 493.0 1687.6 495.2 1689.8 497.2 1692.2 498.9 1694.7 500.4 1697.4 501.5 1700.2 502.3 1703.0 502.8 1705.8 502.9 1708.6 502.8 1711.4 502.3 1714.0 501.5 1716.5 500.4 1718.9 499.1 1721.1 497.5 1723.1 495.8 1724.9 493.8 1726.4 491.6 1727.7 489.3 1728.7 486.9 1729.4 484.4 1729.8 481.8 1729.9 479.3 1729.7 476.7 1729.3 474.2 1728.5 471.8 1727.5 469.5 1726.3 467.4 1724.8 465.4 1723.1 463.6 1721.2 462.1 1719.2 460.7 1717.1 459.7 1714.8 458.8 1712.5 458.3 1710.2 458.0 1707.9 457.9 1705.6 458.2 1703.3 458.7 1701.2 459.4 1699.1 460.4 1697.2 461.6 1695.5 463.0 1693.9 464.6 1692.6 466.3 1691.4 468.2 1690.5 470.1 1689.8 472.2 1689.4 474.3 1689.2 476.4 1689.2 478.5 1689.5 480.5 1690.0 482.5 1690.7 484.5 1691.7 486.3 1692.8 487.9 1694.1 489.5 1695.6 490.8 1697.2 492.0 1698.9 492.9 1700.6 493.7 1702.5 494.2 1704.4 494.6 1706.2 494.7 1708.1 494.6 1709.9 494.3 1711.7 493.7 1713.4 493.0 1714.9 492.1 1716.4 491.1 1717.7 489.9 1718.8 488.6 1719.8 487.1 1720.6 485.6 1721.2 484.0 1721.6 482.4 1721.9 480.7 1721.9 479.1 1721.8 477.4 1721.4 475.9 1720.9 474.3 1720.2 472.9 1719.4 471.6 1718.5 470.3 1717.4 469.2 1716.2 468.3 1714.9 467.5 1713.6 466.9 1712.2 466.4 1710.7 466.1 1709.3 465.9 1707.9 466.0 1706.5 466.1 1705.2 466.5 1703.9 467.0 1702.7 467.6 1701.6 468.3 1700.6 469.2 1699.7 470.1 1698.9 471.2 1698.3 472.3 1697.8 473.4 1697.4 474.6 1697.2 475.8 1697.1 477.0 1697.2 478.2 1697.4 479.4 1697.8 480.5 1698.2 481.5 1698.8 482.5 1699.4 483.4 1700.2 484.2 1701.0 484.9 1701.9 485.5 1702.8 486.0 1703.8 486.3 1704.7 486.6 1705.7 486.7 1706.7 486.7 1707.6 486.6 1708.6 486.4 1709.4 486.1 1710.2 485.7 1711.0 485.2 1711.7 484.7 1712.4 484.1 1713.0 483.5 1713.5 482.8 1713.9 482.0 1714.2 481.2 1714.4 480.4 1714.5 479.6 1714.6 478.8 1714.5 478.0 1714.4 477.2 1714.1 476.4 1713.8 475.7 1713.4 475.0 1713.0 474.4 1712.4 473.8 1711.9 473.3 1711.2 472.8Z"/><path d="M1711.2 531.1 1712.0 531.3 1712.8 531.6 1713.5 532.1 1714.2 532.7 1714.8 533.4 1715.3 534.1 1715.8 535.0 1716.1 535.9 1716.4 536.9 1716.5 537.9 1716.5 539.0 1716.4 540.1 1716.1 541.2 1715.7 542.2 1715.2 543.3 1714.5 544.3 1713.8 545.2 1712.8 546.0 1711.8 546.7 1710.7 547.3 1709.4 547.7 1708.2 548.0 1706.8 548.1 1705.5 548.1 1704.2 548.0 1702.8 547.6 1701.5 547.1 1700.3 546.5 1699.1 545.7 1698.0 544.8 1697.0 543.7 1696.1 542.5 1695.4 541.3 1694.8 539.9 1694.4 538.4 1694.1 536.9 1694.0 535.3 1694.1 533.8 1694.4 532.2 1694.8 530.7 1695.4 529.2 1696.3 527.8 1697.2 526.4 1698.4 525.2 1699.6 524.1 1701.1 523.2 1702.6 522.4 1704.2 521.8 1705.9 521.3 1707.7 521.1 1709.4 521.1 1711.2 521.3 1713.0 521.6 1714.8 522.2 1716.4 523.0 1718.0 524.0 1719.5 525.2 1720.8 526.5 1722.0 528.0 1723.0 529.7 1723.8 531.5 1724.5 533.3 1724.9 535.3 1725.1 537.3 1725.0 539.3 1724.7 541.3 1724.2 543.3 1723.5 545.2 1722.5 547.0 1721.3 548.8 1720.0 550.4 1718.4 551.8 1716.7 553.1 1714.8 554.2 1712.8 555.0 1710.6 555.6 1708.5 556.0 1706.2 556.1 1704.0 556.0 1701.8 555.6 1699.6 555.0 1697.5 554.1 1695.5 552.9 1693.6 551.5 1691.9 549.9 1690.3 548.2 1689.0 546.2 1687.9 544.1 1687.0 541.8 1686.4 539.4 1686.1 537.0 1686.0 534.6 1686.2 532.1 1686.8 529.7 1687.6 527.3 1688.6 525.0 1690.0 522.8 1691.5 520.8 1693.4 519.0 1695.4 517.3 1697.6 515.9 1700.0 514.8 1702.5 513.9 1705.1 513.4 1707.7 513.1 1710.4 513.1 1713.1 513.5 1715.8 514.1 1718.3 515.1 1720.8 516.3 1723.1 517.9 1725.3 519.6 1727.2 521.7 1728.9 524.0 1730.3 526.4 1731.5 529.0 1732.3 531.8 1732.9 534.6 1733.1 537.5 1732.9 540.4 1732.5 543.4 1731.7 546.2 1730.6 549.0 1729.1 551.6 1727.4 554.0 1725.4 556.3 1723.1 558.3 1720.6 560.1 1717.9 561.5 1715.0 562.6 1712.0 563.4 1708.9 563.8 1705.8 563.9 1702.7 563.6 1699.6 562.9 1696.6 561.9 1693.8 560.6 1691.1 558.9 1688.6 557.0 1686.3 554.7 1684.3 552.2 1682.6 549.5 1681.2 546.6 1680.2 543.6 1679.5 540.4 1679.2 537.2 1679.2 534.0 1679.7 530.7 1680.5 527.6 1681.7 524.6 1681.7 524.6 1680.8 527.7 1680.2 530.8 1680.0 534.0 1680.1 537.1 1680.5 540.2 1681.4 543.2 1682.5 546.1 1683.9 548.8 1685.6 551.3 1687.6 553.5 1689.8 555.5 1692.2 557.2 1694.7 558.7 1697.4 559.8 1700.2 560.6 1703.0 561.1 1705.8 561.2 1708.6 561.1 1711.4 560.6 1714.0 559.8 1716.5 558.7 1718.9 557.4 1721.1 555.8 1723.1 554.1 1724.9 552.1 1726.4 549.9 1727.7 547.6 1728.7 545.2 1729.4 542.7 1729.8 540.1 1729.9 537.6 1729.7 535.0 1729.3 532.5 1728.5 530.1 1727.5 527.8 1726.3 525.7 1724.8 523.7 1723.1 521.9 1721.2 520.4 1719.2 519.0 1717.1 518.0 1714.8 517.1 1712.5 516.6 1710.2 516.3 1707.9 516.2 1705.6 516.5 1703.3 517.0 1701.2 517.7 1699.1 518.7 1697.2 519.9 1695.5 521.3 1693.9 522.9 1692.6 524.6 1691.4 526.5 1690.5 528.4 1689.8 530.5 1689.4 532.6 1689.2 534.7 1689.2 536.8 1689.5 538.8 1690.0 540.8 1690.7 542.8 1691.7 544.6 1692.8 546.2 1694.1 547.8 1695.6 549.1 1697.2 550.3 1698.9 551.2 1700.6 552.0 1702.5 552.5 1704.4 552.9 1706.2 553.0 1708.1 552.9 1709.9 552.6 1711.7 552.0 1713.4 551.3 1714.9 550.4 1716.4 549.4 1717.7 548.2 1718.8 546.9 1719.8 545.4 1720.6 543.9 1721.2 542.3 1721.6 540.7 1721.9 539.0 1721.9 537.4 1721.8 535.7 1721.4 534.2 1720.9 532.6 1720.2 531.2 1719.4 529.9 1718.5 528.6 1717.4 527.5 1716.2 526.6 1714.9 525.8 1713.6 525.2 1712.2 524.7 1710.7 524.4 1709.3 524.2 1707.9 524.3 1706.5 524.4 1705.2 524.8 1703.9 525.3 1702.7 525.9 1701.6 526.6 1700.6 527.5 1699.7 528.4 1698.9 529.5 1698.3 530.6 1697.8 531.7 1697.4 532.9 1697.2 534.1 1697.1 535.3 1697.2 536.5 1697.4 537.7 1697.8 538.8 1698.2 539.8 1698.8 540.8 1699.4 541.7 1700.2 542.5 1701.0 543.2 1701.9 543.8 1702.8 544.3 1703.8 544.6 1704.7 544.9 1705.7 545.0 1706.7 545.0 1707.6 544.9 1708.6 544.7 1709.4 544.4 1710.2 544.0 1711.0 543.5 1711.7 543.0 1712.4 542.4 1713.0 541.8 1713.5 541.1 1713.9 540.3 1714.2 539.5 1714.4 538.7 1714.5 537.9 1714.6 537.1 1714.5 536.3 1714.4 535.5 1714.1 534.7 1713.8 534.0 1713.4 533.3 1713.0 532.7 1712.4 532.1 1711.9 531.6 1711.2 531.1Z"/><path d="M1711.2 589.8 1712.0 590.0 1712.8 590.3 1713.5 590.8 1714.2 591.4 1714.8 592.1 1715.3 592.8 1715.8 593.7 1716.1 594.6 1716.4 595.6 1716.5 596.6 1716.5 597.7 1716.4 598.8 1716.1 599.9 1715.7 600.9 1715.2 602.0 1714.5 603.0 1713.8 603.9 1712.8 604.7 1711.8 605.4 1710.7 606.0 1709.4 606.4 1708.2 606.7 1706.8 606.8 1705.5 606.8 1704.2 606.7 1702.8 606.3 1701.5 605.8 1700.3 605.2 1699.1 604.4 1698.0 603.5 1697.0 602.4 1696.1 601.2 1695.4 600.0 1694.8 598.6 1694.4 597.1 1694.1 595.6 1694.0 594.0 1694.1 592.5 1694.4 590.9 1694.8 589.4 1695.4 587.9 1696.3 586.5 1697.2 585.1 1698.4 583.9 1699.6 582.8 1701.1 581.9 1702.6 581.1 1704.2 580.5 1705.9 580.0 1707.7 579.8 1709.4 579.8 1711.2 580.0 1713.0 580.3 1714.8 580.9 1716.4 581.7 1718.0 582.7 1719.5 583.9 1720.8 585.2 1722.0 586.7 1723.0 588.4 1723.8 590.2 1724.5 592.0 1724.9 594.0 1725.1 596.0 1725.0 598.0 1724.7 600.0 1724.2 602.0 1723.5 603.9 1722.5 605.7 1721.3 607.5 1720.0 609.1 1718.4 610.5 1716.7 611.8 1714.8 612.9 1712.8 613.7 1710.6 614.3 1708.5 614.7 1706.2 614.8 1704.0 614.7 1701.8 614.3 1699.6 613.7 1697.5 612.8 1695.5 611.6 1693.6 610.2 1691.9 608.6 1690.3 606.9 1689.0 604.9 1687.9 602.8 1687.0 600.5 1686.4 598.1 1686.1 595.7 1686.0 593.3 1686.2 590.8 1686.8 588.4 1687.6 586.0 1688.6 583.7 1690.0 581.5 1691.5 579.5 1693.4 577.7 1695.4 576.0 1697.6 574.6 1700.0 573.5 1702.5 572.6 1705.1 572.1 1707.7 571.8 1710.4 571.8 1713.1 572.2 1715.8 572.8 1718.3 573.8 1720.8 575.0 1723.1 576.6 1725.3 578.3 1727.2 580.4 1728.9 582.7 1730.3 585.1 1731.5 587.7 1732.3 590.5 1732.9 593.3 1733.1 596.2 1732.9 599.1 1732.5 602.1 1731.7 604.9 1730.6 607.7 1729.1 610.3 1727.4 612.7 1725.4 615.0 1723.1 617.0 1720.6 618.8 1717.9 620.2 1715.0 621.3 1712.0 622.1 1708.9 622.5 1705.8 622.6 1702.7 622.3 1699.6 621.6 1696.6 620.6 1693.8 619.3 1691.1 617.6 1688.6 615.7 1686.3 613.4 1684.3 610.9 1682.6 608.2 1681.2 605.3 1680.2 602.3 1679.5 599.1 1679.2 595.9 1679.2 592.7 1679.7 589.4 1680.5 586.3 1681.7 583.3 1681.7 583.3 1680.8 586.4 1680.2 589.5 1680.0 592.7 1680.1 595.8 1680.5 598.9 1681.4 601.9 1682.5 604.8 1683.9 607.5 1685.6 610.0 1687.6 612.2 1689.8 614.2 1692.2 615.9 1694.7 617.4 1697.4 618.5 1700.2 619.3 1703.0 619.8 1705.8 619.9 1708.6 619.8 1711.4 619.3 1714.0 618.5 1716.5 617.4 1718.9 616.1 1721.1 614.5 1723.1 612.8 1724.9 610.8 1726.4 608.6 1727.7 606.3 1728.7 603.9 1729.4 601.4 1729.8 598.8 1729.9 596.3 1729.7 593.7 1729.3 591.2 1728.5 588.8 1727.5 586.5 1726.3 584.4 1724.8 582.4 1723.1 580.6 1721.2 579.1 1719.2 577.7 1717.1 576.7 1714.8 575.8 1712.5 575.3 1710.2 575.0 1707.9 574.9 1705.6 575.2 1703.3 575.7 1701.2 576.4 1699.1 577.4 1697.2 578.6 1695.5 580.0 1693.9 581.6 1692.6 583.3 1691.4 585.2 1690.5 587.1 1689.8 589.2 1689.4 591.3 1689.2 593.4 1689.2 595.5 1689.5 597.5 1690.0 599.5 1690.7 601.5 1691.7 603.3 1692.8 604.9 1694.1 606.5 1695.6 607.8 1697.2 609.0 1698.9 609.9 1700.6 610.7 1702.5 611.2 1704.4 611.6 1706.2 611.7 1708.1 611.6 1709.9 611.3 1711.7 610.7 1713.4 610.0 1714.9 609.1 1716.4 608.1 1717.7 606.9 1718.8 605.6 1719.8 604.1 1720.6 602.6 1721.2 601.0 1721.6 599.4 1721.9 597.7 1721.9 596.1 1721.8 594.4 1721.4 592.9 1720.9 591.3 1720.2 589.9 1719.4 588.6 1718.5 587.3 1717.4 586.2 1716.2 585.3 1714.9 584.5 1713.6 583.9 1712.2 583.4 1710.7 583.1 1709.3 582.9 1707.9 583.0 1706.5 583.1 1705.2 583.5 1703.9 584.0 1702.7 584.6 1701.6 585.3 1700.6 586.2 1699.7 587.1 1698.9 588.2 1698.3 589.3 1697.8 590.4 1697.4 591.6 1697.2 592.8 1697.1 594.0 1697.2 595.2 1697.4 596.4 1697.8 597.5 1698.2 598.5 1698.8 599.5 1699.4 600.4 1700.2 601.2 1701.0 601.9 1701.9 602.5 1702.8 603.0 1703.8 603.3 1704.7 603.6 1705.7 603.7 1706.7 603.7 1707.6 603.6 1708.6 603.4 1709.4 603.1 1710.2 602.7 1711.0 602.2 1711.7 601.7 1712.4 601.1 1713.0 600.5 1713.5 599.8 1713.9 599.0 1714.2 598.2 1714.4 597.4 1714.5 596.6 1714.6 595.8 1714.5 595.0 1714.4 594.2 1714.1 593.4 1713.8 592.7 1713.4 592.0 1713.0 591.4 1712.4 590.8 1711.9 590.3 1711.2 589.8Z"/><path d="M1711.2 652.5 1712.0 652.7 1712.8 653.0 1713.5 653.5 1714.2 654.1 1714.8 654.8 1715.3 655.5 1715.8 656.4 1716.1 657.3 1716.4 658.3 1716.5 659.3 1716.5 660.4 1716.4 661.5 1716.1 662.6 1715.7 663.6 1715.2 664.7 1714.5 665.7 1713.8 666.6 1712.8 667.4 1711.8 668.1 1710.7 668.7 1709.4 669.1 1708.2 669.4 1706.8 669.5 1705.5 669.5 1704.2 669.4 1702.8 669.0 1701.5 668.5 1700.3 667.9 1699.1 667.1 1698.0 666.2 1697.0 665.1 1696.1 663.9 1695.4 662.7 1694.8 661.3 1694.4 659.8 1694.1 658.3 1694.0 656.7 1694.1 655.2 1694.4 653.6 1694.8 652.1 1695.4 650.6 1696.3 649.2 1697.2 647.8 1698.4 646.6 1699.6 645.5 1701.1 644.6 1702.6 643.8 1704.2 643.2 1705.9 642.7 1707.7 642.5 1709.4 642.5 1711.2 642.7 1713.0 643.0 1714.8 643.6 1716.4 644.4 1718.0 645.4 1719.5 646.6 1720.8 647.9 1722.0 649.4 1723.0 651.1 1723.8 652.9 1724.5 654.7 1724.9 656.7 1725.1 658.7 1725.0 660.7 1724.7 662.7 1724.2 664.7 1723.5 666.6 1722.5 668.4 1721.3 670.2 1720.0 671.8 1718.4 673.2 1716.7 674.5 1714.8 675.6 1712.8 676.4 1710.6 677.0 1708.5 677.4 1706.2 677.5 1704.0 677.4 1701.8 677.0 1699.6 676.4 1697.5 675.5 1695.5 674.3 1693.6 672.9 1691.9 671.3 1690.3 669.6 1689.0 667.6 1687.9 665.5 1687.0 663.2 1686.4 660.8 1686.1 658.4 1686.0 656.0 1686.2 653.5 1686.8 651.1 1687.6 648.7 1688.6 646.4 1690.0 644.2 1691.5 642.2 1693.4 640.4 1695.4 638.7 1697.6 637.3 1700.0 636.2 1702.5 635.3 1705.1 634.8 1707.7 634.5 1710.4 634.5 1713.1 634.9 1715.8 635.5 1718.3 636.5 1720.8 637.7 1723.1 639.3 1725.3 641.0 1727.2 643.1 1728.9 645.4 1730.3 647.8 1731.5 650.4 1732.3 653.2 1732.9 656.0 1733.1 658.9 1732.9 661.8 1732.5 664.8 1731.7 667.6 1730.6 670.4 1729.1 673.0 1727.4 675.4 1725.4 677.7 1723.1 679.7 1720.6 681.5 1717.9 682.9 1715.0 684.0 1712.0 684.8 1708.9 685.2 1705.8 685.3 1702.7 685.0 1699.6 684.3 1696.6 683.3 1693.8 682.0 1691.1 680.3 1688.6 678.4 1686.3 676.1 1684.3 673.6 1682.6 670.9 1681.2 668.0 1680.2 665.0 1679.5 661.8 1679.2 658.6 1679.2 655.4 1679.7 652.1 1680.5 649.0 1681.7 646.0 1681.7 646.0 1680.8 649.1 1680.2 652.2 1680.0 655.4 1680.1 658.5 1680.5 661.6 1681.4 664.6 1682.5 667.5 1683.9 670.2 1685.6 672.7 1687.6 674.9 1689.8 676.9 1692.2 678.6 1694.7 680.1 1697.4 681.2 1700.2 682.0 1703.0 682.5 1705.8 682.6 1708.6 682.5 1711.4 682.0 1714.0 681.2 1716.5 680.1 1718.9 678.8 1721.1 677.2 1723.1 675.5 1724.9 673.5 1726.4 671.3 1727.7 669.0 1728.7 666.6 1729.4 664.1 1729.8 661.5 1729.9 659.0 1729.7 656.4 1729.3 653.9 1728.5 651.5 1727.5 649.2 1726.3 647.1 1724.8 645.1 1723.1 643.3 1721.2 641.8 1719.2 640.4 1717.1 639.4 1714.8 638.5 1712.5 638.0 1710.2 637.7 1707.9 637.6 1705.6 637.9 1703.3 638.4 1701.2 639.1 1699.1 640.1 1697.2 641.3 1695.5 642.7 1693.9 644.3 1692.6 646.0 1691.4 647.9 1690.5 649.8 1689.8 651.9 1689.4 654.0 1689.2 656.1 1689.2 658.2 1689.5 660.2 1690.0 662.2 1690.7 664.2 1691.7 666.0 1692.8 667.6 1694.1 669.2 1695.6 670.5 1697.2 671.7 1698.9 672.6 1700.6 673.4 1702.5 673.9 1704.4 674.3 1706.2 674.4 1708.1 674.3 1709.9 674.0 1711.7 673.4 1713.4 672.7 1714.9 671.8 1716.4 670.8 1717.7 669.6 1718.8 668.3 1719.8 666.8 1720.6 665.3 1721.2 663.7 1721.6 662.1 1721.9 660.4 1721.9 658.8 1721.8 657.1 1721.4 655.6 1720.9 654.0 1720.2 652.6 1719.4 651.3 1718.5 650.0 1717.4 648.9 1716.2 648.0 1714.9 647.2 1713.6 646.6 1712.2 646.1 1710.7 645.8 1709.3 645.6 1707.9 645.7 1706.5 645.8 1705.2 646.2 1703.9 646.7 1702.7 647.3 1701.6 648.0 1700.6 648.9 1699.7 649.8 1698.9 650.9 1698.3 652.0 1697.8 653.1 1697.4 654.3 1697.2 655.5 1697.1 656.7 1697.2 657.9 1697.4 659.1 1697.8 660.2 1698.2 661.2 1698.8 662.2 1699.4 663.1 1700.2 663.9 1701.0 664.6 1701.9 665.2 1702.8 665.7 1703.8 666.0 1704.7 666.3 1705.7 666.4 1706.7 666.4 1707.6 666.3 1708.6 666.1 1709.4 665.8 1710.2 665.4 1711.0 664.9 1711.7 664.4 1712.4 663.8 1713.0 663.2 1713.5 662.5 1713.9 661.7 1714.2 660.9 1714.4 660.1 1714.5 659.3 1714.6 658.5 1714.5 657.7 1714.4 656.9 1714.1 656.1 1713.8 655.4 1713.4 654.7 1713.0 654.1 1712.4 653.5 1711.9 653.0 1711.2 652.5Z"/><path d="M1711.2 712.4 1712.0 712.6 1712.8 712.9 1713.5 713.4 1714.2 714.0 1714.8 714.7 1715.3 715.4 1715.8 716.3 1716.1 717.2 1716.4 718.2 1716.5 719.2 1716.5 720.3 1716.4 721.4 1716.1 722.5 1715.7 723.5 1715.2 724.6 1714.5 725.6 1713.8 726.5 1712.8 727.3 1711.8 728.0 1710.7 728.6 1709.4 729.0 1708.2 729.3 1706.8 729.4 1705.5 729.4 1704.2 729.3 1702.8 728.9 1701.5 728.4 1700.3 727.8 1699.1 727.0 1698.0 726.1 1697.0 725.0 1696.1 723.8 1695.4 722.6 1694.8 721.2 1694.4 719.7 1694.1 718.2 1694.0 716.6 1694.1 715.1 1694.4 713.5 1694.8 712.0 1695.4 710.5 1696.3 709.1 1697.2 707.7 1698.4 706.5 1699.6 705.4 1701.1 704.5 1702.6 703.7 1704.2 703.1 1705.9 702.6 1707.7 702.4 1709.4 702.4 1711.2 702.6 1713.0 702.9 1714.8 703.5 1716.4 704.3 1718.0 705.3 1719.5 706.5 1720.8 707.8 1722.0 709.3 1723.0 711.0 1723.8 712.8 1724.5 714.6 1724.9 716.6 1725.1 718.6 1725.0 720.6 1724.7 722.6 1724.2 724.6 1723.5 726.5 1722.5 728.3 1721.3 730.1 1720.0 731.7 1718.4 733.1 1716.7 734.4 1714.8 735.5 1712.8 736.3 1710.6 736.9 1708.5 737.3 1706.2 737.4 1704.0 737.3 1701.8 736.9 1699.6 736.3 1697.5 735.4 1695.5 734.2 1693.6 732.8 1691.9 731.2 1690.3 729.5 1689.0 727.5 1687.9 725.4 1687.0 723.1 1686.4 720.7 1686.1 718.3 1686.0 715.9 1686.2 713.4 1686.8 711.0 1687.6 708.6 1688.6 706.3 1690.0 704.1 1691.5 702.1 1693.4 700.3 1695.4 698.6 1697.6 697.2 1700.0 696.1 1702.5 695.2 1705.1 694.7 1707.7 694.4 1710.4 694.4 1713.1 694.8 1715.8 695.4 1718.3 696.4 1720.8 697.6 1723.1 699.2 1725.3 700.9 1727.2 703.0 1728.9 705.3 1730.3 707.7 1731.5 710.3 1732.3 713.1 1732.9 715.9 1733.1 718.8 1732.9 721.7 1732.5 724.7 1731.7 727.5 1730.6 730.3 1729.1 732.9 1727.4 735.3 1725.4 737.6 1723.1 739.6 1720.6 741.4 1717.9 742.8 1715.0 743.9 1712.0 744.7 1708.9 745.1 1705.8 745.2 1702.7 744.9 1699.6 744.2 1696.6 743.2 1693.8 741.9 1691.1 740.2 1688.6 738.3 1686.3 736.0 1684.3 733.5 1682.6 730.8 1681.2 727.9 1680.2 724.9 1679.5 721.7 1679.2 718.5 1679.2 715.3 1679.7 712.0 1680.5 708.9 1681.7 705.9 1681.7 705.9 1680.8 709.0 1680.2 712.1 1680.0 715.3 1680.1 718.4 1680.5 721.5 1681.4 724.5 1682.5 727.4 1683.9 730.1 1685.6 732.6 1687.6 734.8 1689.8 736.8 1692.2 738.5 1694.7 740.0 1697.4 741.1 1700.2 741.9 1703.0 742.4 1705.8 742.5 1708.6 742.4 1711.4 741.9 1714.0 741.1 1716.5 740.0 1718.9 738.7 1721.1 737.1 1723.1 735.4 1724.9 733.4 1726.4 731.2 1727.7 728.9 1728.7 726.5 1729.4 724.0 1729.8 721.4 1729.9 718.9 1729.7 716.3 1729.3 713.8 1728.5 711.4 1727.5 709.1 1726.3 707.0 1724.8 705.0 1723.1 703.2 1721.2 701.7 1719.2 700.3 1717.1 699.3 1714.8 698.4 1712.5 697.9 1710.2 697.6 1707.9 697.5 1705.6 697.8 1703.3 698.3 1701.2 699.0 1699.1 700.0 1697.2 701.2 1695.5 702.6 1693.9 704.2 1692.6 705.9 1691.4 707.8 1690.5 709.7 1689.8 711.8 1689.4 713.9 1689.2 716.0 1689.2 718.1 1689.5 720.1 1690.0 722.1 1690.7 724.1 1691.7 725.9 1692.8 727.5 1694.1 729.1 1695.6 730.4 1697.2 731.6 1698.9 732.5 1700.6 733.3 1702.5 733.8 1704.4 734.2 1706.2 734.3 1708.1 734.2 1709.9 733.9 1711.7 733.3 1713.4 732.6 1714.9 731.7 1716.4 730.7 1717.7 729.5 1718.8 728.2 1719.8 726.7 1720.6 725.2 1721.2 723.6 1721.6 722.0 1721.9 720.3 1721.9 718.7 1721.8 717.0 1721.4 715.5 1720.9 713.9 1720.2 712.5 1719.4 711.2 1718.5 709.9 1717.4 708.8 1716.2 707.9 1714.9 707.1 1713.6 706.5 1712.2 706.0 1710.7 705.7 1709.3 705.5 1707.9 705.6 1706.5 705.7 1705.2 706.1 1703.9 706.6 1702.7 707.2 1701.6 707.9 1700.6 708.8 1699.7 709.7 1698.9 710.8 1698.3 711.9 1697.8 713.0 1697.4 714.2 1697.2 715.4 1697.1 716.6 1697.2 717.8 1697.4 719.0 1697.8 720.1 1698.2 721.1 1698.8 722.1 1699.4 723.0 1700.2 723.8 1701.0 724.5 1701.9 725.1 1702.8 725.6 1703.8 725.9 1704.7 726.2 1705.7 726.3 1706.7 726.3 1707.6 726.2 1708.6 726.0 1709.4 725.7 1710.2 725.3 1711.0 724.8 1711.7 724.3 1712.4 723.7 1713.0 723.1 1713.5 722.4 1713.9 721.6 1714.2 720.8 1714.4 720.0 1714.5 719.2 1714.6 718.4 1714.5 717.6 1714.4 716.8 1714.1 716.0 1713.8 715.3 1713.4 714.6 1713.0 714.0 1712.4 713.4 1711.9 712.9 1711.2 712.4Z"/><path d="M1711.2 772.8 1712.0 773.0 1712.8 773.3 1713.5 773.8 1714.2 774.4 1714.8 775.1 1715.3 775.8 1715.8 776.7 1716.1 777.6 1716.4 778.6 1716.5 779.6 1716.5 780.7 1716.4 781.8 1716.1 782.9 1715.7 783.9 1715.2 785.0 1714.5 786.0 1713.8 786.9 1712.8 787.7 1711.8 788.4 1710.7 789.0 1709.4 789.4 1708.2 789.7 1706.8 789.8 1705.5 789.8 1704.2 789.7 1702.8 789.3 1701.5 788.8 1700.3 788.2 1699.1 787.4 1698.0 786.5 1697.0 785.4 1696.1 784.2 1695.4 783.0 1694.8 781.6 1694.4 780.1 1694.1 778.6 1694.0 777.0 1694.1 775.5 1694.4 773.9 1694.8 772.4 1695.4 770.9 1696.3 769.5 1697.2 768.1 1698.4 766.9 1699.6 765.8 1701.1 764.9 1702.6 764.1 1704.2 763.5 1705.9 763.0 1707.7 762.8 1709.4 762.8 1711.2 763.0 1713.0 763.3 1714.8 763.9 1716.4 764.7 1718.0 765.7 1719.5 766.9 1720.8 768.2 1722.0 769.7 1723.0 771.4 1723.8 773.2 1724.5 775.0 1724.9 777.0 1725.1 779.0 1725.0 781.0 1724.7 783.0 1724.2 785.0 1723.5 786.9 1722.5 788.7 1721.3 790.5 1720.0 792.1 1718.4 793.5 1716.7 794.8 1714.8 795.9 1712.8 796.7 1710.6 797.3 1708.5 797.7 1706.2 797.8 1704.0 797.7 1701.8 797.3 1699.6 796.7 1697.5 795.8 1695.5 794.6 1693.6 793.2 1691.9 791.6 1690.3 789.9 1689.0 787.9 1687.9 785.8 1687.0 783.5 1686.4 781.1 1686.1 778.7 1686.0 776.3 1686.2 773.8 1686.8 771.4 1687.6 769.0 1688.6 766.7 1690.0 764.5 1691.5 762.5 1693.4 760.7 1695.4 759.0 1697.6 757.6 1700.0 756.5 1702.5 755.6 1705.1 755.1 1707.7 754.8 1710.4 754.8 1713.1 755.2 1715.8 755.8 1718.3 756.8 1720.8 758.0 1723.1 759.6 1725.3 761.3 1727.2 763.4 1728.9 765.7 1730.3 768.1 1731.5 770.7 1732.3 773.5 1732.9 776.3 1733.1 779.2 1732.9 782.1 1732.5 785.1 1731.7 787.9 1730.6 790.7 1729.1 793.3 1727.4 795.7 1725.4 798.0 1723.1 800.0 1720.6 801.8 1717.9 803.2 1715.0 804.3 1712.0 805.1 1708.9 805.5 1705.8 805.6 1702.7 805.3 1699.6 804.6 1696.6 803.6 1693.8 802.3 1691.1 800.6 1688.6 798.7 1686.3 796.4 1684.3 793.9 1682.6 791.2 1681.2 788.3 1680.2 785.3 1679.5 782.1 1679.2 778.9 1679.2 775.7 1679.7 772.4 1680.5 769.3 1681.7 766.3 1681.7 766.3 1680.8 769.4 1680.2 772.5 1680.0 775.7 1680.1 778.8 1680.5 781.9 1681.4 784.9 1682.5 787.8 1683.9 790.5 1685.6 793.0 1687.6 795.2 1689.8 797.2 1692.2 798.9 1694.7 800.4 1697.4 801.5 1700.2 802.3 1703.0 802.8 1705.8 802.9 1708.6 802.8 1711.4 802.3 1714.0 801.5 1716.5 800.4 1718.9 799.1 1721.1 797.5 1723.1 795.8 1724.9 793.8 1726.4 791.6 1727.7 789.3 1728.7 786.9 1729.4 784.4 1729.8 781.8 1729.9 779.3 1729.7 776.7 1729.3 774.2 1728.5 771.8 1727.5 769.5 1726.3 767.4 1724.8 765.4 1723.1 763.6 1721.2 762.1 1719.2 760.7 1717.1 759.7 1714.8 758.8 1712.5 758.3 1710.2 758.0 1707.9 757.9 1705.6 758.2 1703.3 758.7 1701.2 759.4 1699.1 760.4 1697.2 761.6 1695.5 763.0 1693.9 764.6 1692.6 766.3 1691.4 768.2 1690.5 770.1 1689.8 772.2 1689.4 774.3 1689.2 776.4 1689.2 778.5 1689.5 780.5 1690.0 782.5 1690.7 784.5 1691.7 786.3 1692.8 787.9 1694.1 789.5 1695.6 790.8 1697.2 792.0 1698.9 792.9 1700.6 793.7 1702.5 794.2 1704.4 794.6 1706.2 794.7 1708.1 794.6 1709.9 794.3 1711.7 793.7 1713.4 793.0 1714.9 792.1 1716.4 791.1 1717.7 789.9 1718.8 788.6 1719.8 787.1 1720.6 785.6 1721.2 784.0 1721.6 782.4 1721.9 780.7 1721.9 779.1 1721.8 777.4 1721.4 775.9 1720.9 774.3 1720.2 772.9 1719.4 771.6 1718.5 770.3 1717.4 769.2 1716.2 768.3 1714.9 767.5 1713.6 766.9 1712.2 766.4 1710.7 766.1 1709.3 765.9 1707.9 766.0 1706.5 766.1 1705.2 766.5 1703.9 767.0 1702.7 767.6 1701.6 768.3 1700.6 769.2 1699.7 770.1 1698.9 771.2 1698.3 772.3 1697.8 773.4 1697.4 774.6 1697.2 775.8 1697.1 777.0 1697.2 778.2 1697.4 779.4 1697.8 780.5 1698.2 781.5 1698.8 782.5 1699.4 783.4 1700.2 784.2 1701.0 784.9 1701.9 785.5 1702.8 786.0 1703.8 786.3 1704.7 786.6 1705.7 786.7 1706.7 786.7 1707.6 786.6 1708.6 786.4 1709.4 786.1 1710.2 785.7 1711.0 785.2 1711.7 784.7 1712.4 784.1 1713.0 783.5 1713.5 782.8 1713.9 782.0 1714.2 781.2 1714.4 780.4 1714.5 779.6 1714.6 778.8 1714.5 778.0 1714.4 777.2 1714.1 776.4 1713.8 775.7 1713.4 775.0 1713.0 774.4 1712.4 773.8 1711.9 773.3 1711.2 772.8Z"/><path d="M1804.2 477.1 1804.7 477.2 1805.2 477.4 1805.7 477.8 1806.2 478.2 1806.6 478.6 1807.0 479.1 1807.3 479.7 1807.5 480.4 1807.7 481.0 1807.8 481.7 1807.8 482.5 1807.7 483.2 1807.5 484.0 1807.2 484.7 1806.9 485.4 1806.4 486.1 1805.9 486.7 1805.2 487.3 1804.5 487.8 1803.7 488.1 1802.9 488.4 1802.0 488.6 1801.1 488.7 1800.2 488.7 1799.3 488.6 1798.4 488.4 1797.5 488.1 1796.6 487.6 1795.8 487.1 1795.1 486.4 1794.4 485.7 1793.8 484.9 1793.3 484.0 1792.9 483.1 1792.6 482.1 1792.4 481.0 1792.3 480.0 1792.4 478.9 1792.6 477.8 1792.9 476.8 1793.3 475.8 1793.9 474.8 1794.6 473.9 1795.3 473.0 1796.2 472.3 1797.2 471.6 1798.2 471.1 1799.3 470.7 1800.5 470.4 1801.7 470.2 1802.9 470.2 1804.2 470.3 1805.4 470.6 1806.6 471.0 1807.7 471.5 1808.8 472.2 1809.8 473.0 1810.7 473.9 1811.5 475.0 1812.2 476.1 1812.8 477.3 1813.2 478.6 1813.5 479.9 1813.6 481.3 1813.6 482.7 1813.4 484.0 1813.0 485.4 1812.5 486.7 1811.9 488.0 1811.1 489.2 1810.1 490.3 1809.1 491.3 1807.9 492.1 1806.6 492.9 1805.2 493.5 1803.7 493.9 1802.3 494.1 1800.7 494.2 1799.2 494.1 1797.7 493.9 1796.2 493.4 1794.7 492.8 1793.3 492.0 1792.0 491.1 1790.9 490.0 1789.8 488.8 1788.9 487.4 1788.1 485.9 1787.5 484.4 1787.1 482.8 1786.9 481.1 1786.9 479.4 1787.0 477.7 1787.4 476.1 1787.9 474.4 1788.7 472.9 1789.6 471.4 1790.7 470.0 1791.9 468.7 1793.3 467.6 1794.8 466.7 1796.4 465.9 1798.1 465.3 1799.9 464.9 1801.7 464.7 1803.6 464.8 1805.4 465.0 1807.3 465.4 1809.0 466.1 1810.7 466.9 1812.3 468.0 1813.8 469.2 1815.1 470.6 1816.2 472.2 1817.2 473.9 1818.0 475.6 1818.6 477.5 1819.0 479.5 1819.1 481.5 1819.0 483.5 1818.7 485.5 1818.2 487.4 1817.4 489.3 1816.4 491.1 1815.2 492.8 1813.8 494.3 1812.3 495.7 1810.5 496.9 1808.7 497.9 1806.7 498.7 1804.7 499.2 1802.5 499.5 1800.4 499.5 1798.3 499.3 1796.2 498.9 1794.1 498.2 1792.2 497.3 1790.3 496.1 1788.6 494.8 1787.1 493.3 1785.7 491.5 1784.5 489.7 1783.6 487.7 1782.9 485.6 1782.4 483.4 1782.2 481.2 1782.2 479.0 1782.5 476.8 1783.1 474.7 1783.9 472.6 1783.9 472.6 1783.3 474.7 1782.9 476.9 1782.7 479.0 1782.8 481.2 1783.1 483.3 1783.7 485.4 1784.4 487.3 1785.4 489.2 1786.6 490.9 1788.0 492.4 1789.5 493.8 1791.1 495.0 1792.9 496.0 1794.7 496.7 1796.6 497.3 1798.5 497.6 1800.4 497.7 1802.4 497.6 1804.2 497.3 1806.1 496.7 1807.8 496.0 1809.4 495.1 1810.9 494.0 1812.3 492.8 1813.5 491.4 1814.6 490.0 1815.4 488.4 1816.1 486.7 1816.6 485.0 1816.9 483.3 1816.9 481.5 1816.8 479.8 1816.5 478.0 1816.0 476.4 1815.3 474.8 1814.4 473.4 1813.4 472.0 1812.3 470.8 1811.0 469.7 1809.6 468.8 1808.2 468.1 1806.6 467.5 1805.0 467.1 1803.4 466.9 1801.8 466.9 1800.3 467.1 1798.7 467.4 1797.2 467.9 1795.8 468.6 1794.5 469.4 1793.3 470.4 1792.3 471.4 1791.3 472.6 1790.6 473.9 1789.9 475.2 1789.5 476.6 1789.2 478.1 1789.0 479.5 1789.1 481.0 1789.3 482.4 1789.6 483.7 1790.1 485.1 1790.8 486.3 1791.5 487.4 1792.4 488.5 1793.4 489.4 1794.5 490.2 1795.7 490.9 1796.9 491.4 1798.2 491.8 1799.4 492.0 1800.7 492.1 1802.0 492.0 1803.3 491.8 1804.5 491.4 1805.6 490.9 1806.7 490.3 1807.7 489.6 1808.6 488.8 1809.4 487.9 1810.0 486.9 1810.6 485.8 1811.0 484.7 1811.3 483.6 1811.4 482.5 1811.5 481.4 1811.4 480.2 1811.1 479.2 1810.8 478.1 1810.3 477.1 1809.8 476.2 1809.1 475.4 1808.4 474.6 1807.5 474.0 1806.7 473.4 1805.7 473.0 1804.8 472.7 1803.8 472.5 1802.8 472.4 1801.9 472.4 1800.9 472.5 1800.0 472.7 1799.1 473.1 1798.3 473.5 1797.5 474.0 1796.8 474.6 1796.2 475.2 1795.7 476.0 1795.3 476.7 1794.9 477.5 1794.7 478.3 1794.5 479.2 1794.5 480.0 1794.5 480.8 1794.7 481.6 1794.9 482.3 1795.2 483.1 1795.6 483.7 1796.1 484.3 1796.6 484.9 1797.1 485.4 1797.7 485.8 1798.4 486.1 1799.0 486.3 1799.7 486.5 1800.4 486.6 1801.0 486.6 1801.7 486.5 1802.3 486.4 1802.9 486.2 1803.5 485.9 1804.0 485.6 1804.5 485.2 1804.9 484.8 1805.3 484.4 1805.7 483.9 1805.9 483.4 1806.2 482.8 1806.3 482.3 1806.4 481.7 1806.4 481.2 1806.4 480.6 1806.3 480.1 1806.1 479.6 1805.9 479.1 1805.6 478.6 1805.3 478.2 1805.0 477.8 1804.6 477.4 1804.2 477.1Z"/><path d="M1804.2 520.9 1804.7 521.0 1805.2 521.2 1805.7 521.6 1806.2 522.0 1806.6 522.4 1807.0 522.9 1807.3 523.5 1807.5 524.2 1807.7 524.8 1807.8 525.5 1807.8 526.3 1807.7 527.0 1807.5 527.8 1807.2 528.5 1806.9 529.2 1806.4 529.9 1805.9 530.5 1805.2 531.1 1804.5 531.6 1803.7 531.9 1802.9 532.2 1802.0 532.4 1801.1 532.5 1800.2 532.5 1799.3 532.4 1798.4 532.2 1797.5 531.9 1796.6 531.4 1795.8 530.9 1795.1 530.2 1794.4 529.5 1793.8 528.7 1793.3 527.8 1792.9 526.9 1792.6 525.9 1792.4 524.8 1792.3 523.8 1792.4 522.7 1792.6 521.6 1792.9 520.6 1793.3 519.6 1793.9 518.6 1794.6 517.7 1795.3 516.8 1796.2 516.1 1797.2 515.4 1798.2 514.9 1799.3 514.5 1800.5 514.2 1801.7 514.0 1802.9 514.0 1804.2 514.1 1805.4 514.4 1806.6 514.8 1807.7 515.3 1808.8 516.0 1809.8 516.8 1810.7 517.7 1811.5 518.8 1812.2 519.9 1812.8 521.1 1813.2 522.4 1813.5 523.7 1813.6 525.1 1813.6 526.5 1813.4 527.8 1813.0 529.2 1812.5 530.5 1811.9 531.8 1811.1 533.0 1810.1 534.1 1809.1 535.1 1807.9 535.9 1806.6 536.7 1805.2 537.3 1803.7 537.7 1802.3 537.9 1800.7 538.0 1799.2 537.9 1797.7 537.7 1796.2 537.2 1794.7 536.6 1793.3 535.8 1792.0 534.9 1790.9 533.8 1789.8 532.6 1788.9 531.2 1788.1 529.7 1787.5 528.2 1787.1 526.6 1786.9 524.9 1786.9 523.2 1787.0 521.5 1787.4 519.9 1787.9 518.2 1788.7 516.7 1789.6 515.2 1790.7 513.8 1791.9 512.5 1793.3 511.4 1794.8 510.5 1796.4 509.7 1798.1 509.1 1799.9 508.7 1801.7 508.5 1803.6 508.6 1805.4 508.8 1807.3 509.2 1809.0 509.9 1810.7 510.7 1812.3 511.8 1813.8 513.0 1815.1 514.4 1816.2 516.0 1817.2 517.7 1818.0 519.4 1818.6 521.3 1819.0 523.3 1819.1 525.3 1819.0 527.3 1818.7 529.3 1818.2 531.2 1817.4 533.1 1816.4 534.9 1815.2 536.6 1813.8 538.1 1812.3 539.5 1810.5 540.7 1808.7 541.7 1806.7 542.5 1804.7 543.0 1802.5 543.3 1800.4 543.3 1798.3 543.1 1796.2 542.7 1794.1 542.0 1792.2 541.1 1790.3 539.9 1788.6 538.6 1787.1 537.1 1785.7 535.3 1784.5 533.5 1783.6 531.5 1782.9 529.4 1782.4 527.2 1782.2 525.0 1782.2 522.8 1782.5 520.6 1783.1 518.5 1783.9 516.4 1783.9 516.4 1783.3 518.5 1782.9 520.7 1782.7 522.8 1782.8 525.0 1783.1 527.1 1783.7 529.2 1784.4 531.1 1785.4 533.0 1786.6 534.7 1788.0 536.2 1789.5 537.6 1791.1 538.8 1792.9 539.8 1794.7 540.5 1796.6 541.1 1798.5 541.4 1800.4 541.5 1802.4 541.4 1804.2 541.1 1806.1 540.5 1807.8 539.8 1809.4 538.9 1810.9 537.8 1812.3 536.6 1813.5 535.2 1814.6 533.8 1815.4 532.2 1816.1 530.5 1816.6 528.8 1816.9 527.1 1816.9 525.3 1816.8 523.6 1816.5 521.8 1816.0 520.2 1815.3 518.6 1814.4 517.2 1813.4 515.8 1812.3 514.6 1811.0 513.5 1809.6 512.6 1808.2 511.9 1806.6 511.3 1805.0 510.9 1803.4 510.7 1801.8 510.7 1800.3 510.9 1798.7 511.2 1797.2 511.7 1795.8 512.4 1794.5 513.2 1793.3 514.2 1792.3 515.2 1791.3 516.4 1790.6 517.7 1789.9 519.0 1789.5 520.4 1789.2 521.9 1789.0 523.3 1789.1 524.8 1789.3 526.2 1789.6 527.5 1790.1 528.9 1790.8 530.1 1791.5 531.2 1792.4 532.3 1793.4 533.2 1794.5 534.0 1795.7 534.7 1796.9 535.2 1798.2 535.6 1799.4 535.8 1800.7 535.9 1802.0 535.8 1803.3 535.6 1804.5 535.2 1805.6 534.7 1806.7 534.1 1807.7 533.4 1808.6 532.6 1809.4 531.7 1810.0 530.7 1810.6 529.6 1811.0 528.5 1811.3 527.4 1811.4 526.3 1811.5 525.2 1811.4 524.0 1811.1 523.0 1810.8 521.9 1810.3 520.9 1809.8 520.0 1809.1 519.2 1808.4 518.4 1807.5 517.8 1806.7 517.2 1805.7 516.8 1804.8 516.5 1803.8 516.3 1802.8 516.2 1801.9 516.2 1800.9 516.3 1800.0 516.5 1799.1 516.9 1798.3 517.3 1797.5 517.8 1796.8 518.4 1796.2 519.0 1795.7 519.8 1795.3 520.5 1794.9 521.3 1794.7 522.1 1794.5 523.0 1794.5 523.8 1794.5 524.6 1794.7 525.4 1794.9 526.1 1795.2 526.9 1795.6 527.5 1796.1 528.1 1796.6 528.7 1797.1 529.2 1797.7 529.6 1798.4 529.9 1799.0 530.1 1799.7 530.3 1800.4 530.4 1801.0 530.4 1801.7 530.3 1802.3 530.2 1802.9 530.0 1803.5 529.7 1804.0 529.4 1804.5 529.0 1804.9 528.6 1805.3 528.2 1805.7 527.7 1805.9 527.2 1806.2 526.6 1806.3 526.1 1806.4 525.5 1806.4 525.0 1806.4 524.4 1806.3 523.9 1806.1 523.4 1805.9 522.9 1805.6 522.4 1805.3 522.0 1805.0 521.6 1804.6 521.2 1804.2 520.9Z"/><path d="M1804.2 562.6 1804.7 562.7 1805.2 562.9 1805.7 563.3 1806.2 563.7 1806.6 564.1 1807.0 564.6 1807.3 565.2 1807.5 565.9 1807.7 566.5 1807.8 567.2 1807.8 568.0 1807.7 568.7 1807.5 569.5 1807.2 570.2 1806.9 570.9 1806.4 571.6 1805.9 572.2 1805.2 572.8 1804.5 573.3 1803.7 573.6 1802.9 573.9 1802.0 574.1 1801.1 574.2 1800.2 574.2 1799.3 574.1 1798.4 573.9 1797.5 573.6 1796.6 573.1 1795.8 572.6 1795.1 571.9 1794.4 571.2 1793.8 570.4 1793.3 569.5 1792.9 568.6 1792.6 567.6 1792.4 566.5 1792.3 565.5 1792.4 564.4 1792.6 563.3 1792.9 562.3 1793.3 561.3 1793.9 560.3 1794.6 559.4 1795.3 558.5 1796.2 557.8 1797.2 557.1 1798.2 556.6 1799.3 556.2 1800.5 555.9 1801.7 555.7 1802.9 555.7 1804.2 555.8 1805.4 556.1 1806.6 556.5 1807.7 557.0 1808.8 557.7 1809.8 558.5 1810.7 559.4 1811.5 560.5 1812.2 561.6 1812.8 562.8 1813.2 564.1 1813.5 565.4 1813.6 566.8 1813.6 568.2 1813.4 569.5 1813.0 570.9 1812.5 572.2 1811.9 573.5 1811.1 574.7 1810.1 575.8 1809.1 576.8 1807.9 577.6 1806.6 578.4 1805.2 579.0 1803.7 579.4 1802.3 579.6 1800.7 579.7 1799.2 579.6 1797.7 579.4 1796.2 578.9 1794.7 578.3 1793.3 577.5 1792.0 576.6 1790.9 575.5 1789.8 574.3 1788.9 572.9 1788.1 571.4 1787.5 569.9 1787.1 568.3 1786.9 566.6 1786.9 564.9 1787.0 563.2 1787.4 561.6 1787.9 559.9 1788.7 558.4 1789.6 556.9 1790.7 555.5 1791.9 554.2 1793.3 553.1 1794.8 552.2 1796.4 551.4 1798.1 550.8 1799.9 550.4 1801.7 550.2 1803.6 550.3 1805.4 550.5 1807.3 550.9 1809.0 551.6 1810.7 552.4 1812.3 553.5 1813.8 554.7 1815.1 556.1 1816.2 557.7 1817.2 559.4 1818.0 561.1 1818.6 563.0 1819.0 565.0 1819.1 567.0 1819.0 569.0 1818.7 571.0 1818.2 572.9 1817.4 574.8 1816.4 576.6 1815.2 578.3 1813.8 579.8 1812.3 581.2 1810.5 582.4 1808.7 583.4 1806.7 584.2 1804.7 584.7 1802.5 585.0 1800.4 585.0 1798.3 584.8 1796.2 584.4 1794.1 583.7 1792.2 582.8 1790.3 581.6 1788.6 580.3 1787.1 578.8 1785.7 577.0 1784.5 575.2 1783.6 573.2 1782.9 571.1 1782.4 568.9 1782.2 566.7 1782.2 564.5 1782.5 562.3 1783.1 560.2 1783.9 558.1 1783.9 558.1 1783.3 560.2 1782.9 562.4 1782.7 564.5 1782.8 566.7 1783.1 568.8 1783.7 570.9 1784.4 572.8 1785.4 574.7 1786.6 576.4 1788.0 577.9 1789.5 579.3 1791.1 580.5 1792.9 581.5 1794.7 582.2 1796.6 582.8 1798.5 583.1 1800.4 583.2 1802.4 583.1 1804.2 582.8 1806.1 582.2 1807.8 581.5 1809.4 580.6 1810.9 579.5 1812.3 578.3 1813.5 576.9 1814.6 575.5 1815.4 573.9 1816.1 572.2 1816.6 570.5 1816.9 568.8 1816.9 567.0 1816.8 565.3 1816.5 563.5 1816.0 561.9 1815.3 560.3 1814.4 558.9 1813.4 557.5 1812.3 556.3 1811.0 555.2 1809.6 554.3 1808.2 553.6 1806.6 553.0 1805.0 552.6 1803.4 552.4 1801.8 552.4 1800.3 552.6 1798.7 552.9 1797.2 553.4 1795.8 554.1 1794.5 554.9 1793.3 555.9 1792.3 556.9 1791.3 558.1 1790.6 559.4 1789.9 560.7 1789.5 562.1 1789.2 563.6 1789.0 565.0 1789.1 566.5 1789.3 567.9 1789.6 569.2 1790.1 570.6 1790.8 571.8 1791.5 572.9 1792.4 574.0 1793.4 574.9 1794.5 575.7 1795.7 576.4 1796.9 576.9 1798.2 577.3 1799.4 577.5 1800.7 577.6 1802.0 577.5 1803.3 577.3 1804.5 576.9 1805.6 576.4 1806.7 575.8 1807.7 575.1 1808.6 574.3 1809.4 573.4 1810.0 572.4 1810.6 571.3 1811.0 570.2 1811.3 569.1 1811.4 568.0 1811.5 566.9 1811.4 565.7 1811.1 564.7 1810.8 563.6 1810.3 562.6 1809.8 561.7 1809.1 560.9 1808.4 560.1 1807.5 559.5 1806.7 558.9 1805.7 558.5 1804.8 558.2 1803.8 558.0 1802.8 557.9 1801.9 557.9 1800.9 558.0 1800.0 558.2 1799.1 558.6 1798.3 559.0 1797.5 559.5 1796.8 560.1 1796.2 560.7 1795.7 561.5 1795.3 562.2 1794.9 563.0 1794.7 563.8 1794.5 564.7 1794.5 565.5 1794.5 566.3 1794.7 567.1 1794.9 567.8 1795.2 568.6 1795.6 569.2 1796.1 569.8 1796.6 570.4 1797.1 570.9 1797.7 571.3 1798.4 571.6 1799.0 571.8 1799.7 572.0 1800.4 572.1 1801.0 572.1 1801.7 572.0 1802.3 571.9 1802.9 571.7 1803.5 571.4 1804.0 571.1 1804.5 570.7 1804.9 570.3 1805.3 569.9 1805.7 569.4 1805.9 568.9 1806.2 568.3 1806.3 567.8 1806.4 567.2 1806.4 566.7 1806.4 566.1 1806.3 565.6 1806.1 565.1 1805.9 564.6 1805.6 564.1 1805.3 563.7 1805.0 563.3 1804.6 562.9 1804.2 562.6Z"/><path d="M1804.2 602.1 1804.7 602.2 1805.2 602.4 1805.7 602.8 1806.2 603.2 1806.6 603.6 1807.0 604.1 1807.3 604.7 1807.5 605.4 1807.7 606.0 1807.8 606.7 1807.8 607.5 1807.7 608.2 1807.5 609.0 1807.2 609.7 1806.9 610.4 1806.4 611.1 1805.9 611.7 1805.2 612.3 1804.5 612.8 1803.7 613.1 1802.9 613.4 1802.0 613.6 1801.1 613.7 1800.2 613.7 1799.3 613.6 1798.4 613.4 1797.5 613.1 1796.6 612.6 1795.8 612.1 1795.1 611.4 1794.4 610.7 1793.8 609.9 1793.3 609.0 1792.9 608.1 1792.6 607.1 1792.4 606.0 1792.3 605.0 1792.4 603.9 1792.6 602.8 1792.9 601.8 1793.3 600.8 1793.9 599.8 1794.6 598.9 1795.3 598.0 1796.2 597.3 1797.2 596.6 1798.2 596.1 1799.3 595.7 1800.5 595.4 1801.7 595.2 1802.9 595.2 1804.2 595.3 1805.4 595.6 1806.6 596.0 1807.7 596.5 1808.8 597.2 1809.8 598.0 1810.7 598.9 1811.5 600.0 1812.2 601.1 1812.8 602.3 1813.2 603.6 1813.5 604.9 1813.6 606.3 1813.6 607.7 1813.4 609.0 1813.0 610.4 1812.5 611.7 1811.9 613.0 1811.1 614.2 1810.1 615.3 1809.1 616.3 1807.9 617.1 1806.6 617.9 1805.2 618.5 1803.7 618.9 1802.3 619.1 1800.7 619.2 1799.2 619.1 1797.7 618.9 1796.2 618.4 1794.7 617.8 1793.3 617.0 1792.0 616.1 1790.9 615.0 1789.8 613.8 1788.9 612.4 1788.1 610.9 1787.5 609.4 1787.1 607.8 1786.9 606.1 1786.9 604.4 1787.0 602.7 1787.4 601.1 1787.9 599.4 1788.7 597.9 1789.6 596.4 1790.7 595.0 1791.9 593.7 1793.3 592.6 1794.8 591.7 1796.4 590.9 1798.1 590.3 1799.9 589.9 1801.7 589.7 1803.6 589.8 1805.4 590.0 1807.3 590.4 1809.0 591.1 1810.7 591.9 1812.3 593.0 1813.8 594.2 1815.1 595.6 1816.2 597.2 1817.2 598.9 1818.0 600.6 1818.6 602.5 1819.0 604.5 1819.1 606.5 1819.0 608.5 1818.7 610.5 1818.2 612.4 1817.4 614.3 1816.4 616.1 1815.2 617.8 1813.8 619.3 1812.3 620.7 1810.5 621.9 1808.7 622.9 1806.7 623.7 1804.7 624.2 1802.5 624.5 1800.4 624.5 1798.3 624.3 1796.2 623.9 1794.1 623.2 1792.2 622.3 1790.3 621.1 1788.6 619.8 1787.1 618.3 1785.7 616.5 1784.5 614.7 1783.6 612.7 1782.9 610.6 1782.4 608.4 1782.2 606.2 1782.2 604.0 1782.5 601.8 1783.1 599.7 1783.9 597.6 1783.9 597.6 1783.3 599.7 1782.9 601.9 1782.7 604.0 1782.8 606.2 1783.1 608.3 1783.7 610.4 1784.4 612.3 1785.4 614.2 1786.6 615.9 1788.0 617.4 1789.5 618.8 1791.1 620.0 1792.9 621.0 1794.7 621.7 1796.6 622.3 1798.5 622.6 1800.4 622.7 1802.4 622.6 1804.2 622.3 1806.1 621.7 1807.8 621.0 1809.4 620.1 1810.9 619.0 1812.3 617.8 1813.5 616.4 1814.6 615.0 1815.4 613.4 1816.1 611.7 1816.6 610.0 1816.9 608.3 1816.9 606.5 1816.8 604.8 1816.5 603.0 1816.0 601.4 1815.3 599.8 1814.4 598.4 1813.4 597.0 1812.3 595.8 1811.0 594.7 1809.6 593.8 1808.2 593.1 1806.6 592.5 1805.0 592.1 1803.4 591.9 1801.8 591.9 1800.3 592.1 1798.7 592.4 1797.2 592.9 1795.8 593.6 1794.5 594.4 1793.3 595.4 1792.3 596.4 1791.3 597.6 1790.6 598.9 1789.9 600.2 1789.5 601.6 1789.2 603.1 1789.0 604.5 1789.1 606.0 1789.3 607.4 1789.6 608.7 1790.1 610.1 1790.8 611.3 1791.5 612.4 1792.4 613.5 1793.4 614.4 1794.5 615.2 1795.7 615.9 1796.9 616.4 1798.2 616.8 1799.4 617.0 1800.7 617.1 1802.0 617.0 1803.3 616.8 1804.5 616.4 1805.6 615.9 1806.7 615.3 1807.7 614.6 1808.6 613.8 1809.4 612.9 1810.0 611.9 1810.6 610.8 1811.0 609.7 1811.3 608.6 1811.4 607.5 1811.5 606.4 1811.4 605.2 1811.1 604.2 1810.8 603.1 1810.3 602.1 1809.8 601.2 1809.1 600.4 1808.4 599.6 1807.5 599.0 1806.7 598.4 1805.7 598.0 1804.8 597.7 1803.8 597.5 1802.8 597.4 1801.9 597.4 1800.9 597.5 1800.0 597.7 1799.1 598.1 1798.3 598.5 1797.5 599.0 1796.8 599.6 1796.2 600.2 1795.7 601.0 1795.3 601.7 1794.9 602.5 1794.7 603.3 1794.5 604.2 1794.5 605.0 1794.5 605.8 1794.7 606.6 1794.9 607.3 1795.2 608.1 1795.6 608.7 1796.1 609.3 1796.6 609.9 1797.1 610.4 1797.7 610.8 1798.4 611.1 1799.0 611.3 1799.7 611.5 1800.4 611.6 1801.0 611.6 1801.7 611.5 1802.3 611.4 1802.9 611.2 1803.5 610.9 1804.0 610.6 1804.5 610.2 1804.9 609.8 1805.3 609.4 1805.7 608.9 1805.9 608.4 1806.2 607.8 1806.3 607.3 1806.4 606.7 1806.4 606.2 1806.4 605.6 1806.3 605.1 1806.1 604.6 1805.9 604.1 1805.6 603.6 1805.3 603.2 1805.0 602.8 1804.6 602.4 1804.2 602.1Z"/><path d="M1804.2 644.3 1804.7 644.4 1805.2 644.6 1805.7 645.0 1806.2 645.4 1806.6 645.8 1807.0 646.3 1807.3 646.9 1807.5 647.6 1807.7 648.2 1807.8 648.9 1807.8 649.7 1807.7 650.4 1807.5 651.2 1807.2 651.9 1806.9 652.6 1806.4 653.3 1805.9 653.9 1805.2 654.5 1804.5 655.0 1803.7 655.3 1802.9 655.6 1802.0 655.8 1801.1 655.9 1800.2 655.9 1799.3 655.8 1798.4 655.6 1797.5 655.3 1796.6 654.8 1795.8 654.3 1795.1 653.6 1794.4 652.9 1793.8 652.1 1793.3 651.2 1792.9 650.3 1792.6 649.3 1792.4 648.2 1792.3 647.2 1792.4 646.1 1792.6 645.0 1792.9 644.0 1793.3 643.0 1793.9 642.0 1794.6 641.1 1795.3 640.2 1796.2 639.5 1797.2 638.8 1798.2 638.3 1799.3 637.9 1800.5 637.6 1801.7 637.4 1802.9 637.4 1804.2 637.5 1805.4 637.8 1806.6 638.2 1807.7 638.7 1808.8 639.4 1809.8 640.2 1810.7 641.1 1811.5 642.2 1812.2 643.3 1812.8 644.5 1813.2 645.8 1813.5 647.1 1813.6 648.5 1813.6 649.9 1813.4 651.2 1813.0 652.6 1812.5 653.9 1811.9 655.2 1811.1 656.4 1810.1 657.5 1809.1 658.5 1807.9 659.3 1806.6 660.1 1805.2 660.7 1803.7 661.1 1802.3 661.3 1800.7 661.4 1799.2 661.3 1797.7 661.1 1796.2 660.6 1794.7 660.0 1793.3 659.2 1792.0 658.3 1790.9 657.2 1789.8 656.0 1788.9 654.6 1788.1 653.1 1787.5 651.6 1787.1 650.0 1786.9 648.3 1786.9 646.6 1787.0 644.9 1787.4 643.3 1787.9 641.6 1788.7 640.1 1789.6 638.6 1790.7 637.2 1791.9 635.9 1793.3 634.8 1794.8 633.9 1796.4 633.1 1798.1 632.5 1799.9 632.1 1801.7 631.9 1803.6 632.0 1805.4 632.2 1807.3 632.6 1809.0 633.3 1810.7 634.1 1812.3 635.2 1813.8 636.4 1815.1 637.8 1816.2 639.4 1817.2 641.1 1818.0 642.8 1818.6 644.7 1819.0 646.7 1819.1 648.7 1819.0 650.7 1818.7 652.7 1818.2 654.6 1817.4 656.5 1816.4 658.3 1815.2 660.0 1813.8 661.5 1812.3 662.9 1810.5 664.1 1808.7 665.1 1806.7 665.9 1804.7 666.4 1802.5 666.7 1800.4 666.7 1798.3 666.5 1796.2 666.1 1794.1 665.4 1792.2 664.5 1790.3 663.3 1788.6 662.0 1787.1 660.5 1785.7 658.7 1784.5 656.9 1783.6 654.9 1782.9 652.8 1782.4 650.6 1782.2 648.4 1782.2 646.2 1782.5 644.0 1783.1 641.9 1783.9 639.8 1783.9 639.8 1783.3 641.9 1782.9 644.1 1782.7 646.2 1782.8 648.4 1783.1 650.5 1783.7 652.6 1784.4 654.5 1785.4 656.4 1786.6 658.1 1788.0 659.6 1789.5 661.0 1791.1 662.2 1792.9 663.2 1794.7 663.9 1796.6 664.5 1798.5 664.8 1800.4 664.9 1802.4 664.8 1804.2 664.5 1806.1 663.9 1807.8 663.2 1809.4 662.3 1810.9 661.2 1812.3 660.0 1813.5 658.6 1814.6 657.2 1815.4 655.6 1816.1 653.9 1816.6 652.2 1816.9 650.5 1816.9 648.7 1816.8 647.0 1816.5 645.2 1816.0 643.6 1815.3 642.0 1814.4 640.6 1813.4 639.2 1812.3 638.0 1811.0 636.9 1809.6 636.0 1808.2 635.3 1806.6 634.7 1805.0 634.3 1803.4 634.1 1801.8 634.1 1800.3 634.3 1798.7 634.6 1797.2 635.1 1795.8 635.8 1794.5 636.6 1793.3 637.6 1792.3 638.6 1791.3 639.8 1790.6 641.1 1789.9 642.4 1789.5 643.8 1789.2 645.3 1789.0 646.7 1789.1 648.2 1789.3 649.6 1789.6 650.9 1790.1 652.3 1790.8 653.5 1791.5 654.6 1792.4 655.7 1793.4 656.6 1794.5 657.4 1795.7 658.1 1796.9 658.6 1798.2 659.0 1799.4 659.2 1800.7 659.3 1802.0 659.2 1803.3 659.0 1804.5 658.6 1805.6 658.1 1806.7 657.5 1807.7 656.8 1808.6 656.0 1809.4 655.1 1810.0 654.1 1810.6 653.0 1811.0 651.9 1811.3 650.8 1811.4 649.7 1811.5 648.6 1811.4 647.4 1811.1 646.4 1810.8 645.3 1810.3 644.3 1809.8 643.4 1809.1 642.6 1808.4 641.8 1807.5 641.2 1806.7 640.6 1805.7 640.2 1804.8 639.9 1803.8 639.7 1802.8 639.6 1801.9 639.6 1800.9 639.7 1800.0 639.9 1799.1 640.3 1798.3 640.7 1797.5 641.2 1796.8 641.8 1796.2 642.4 1795.7 643.2 1795.3 643.9 1794.9 644.7 1794.7 645.5 1794.5 646.4 1794.5 647.2 1794.5 648.0 1794.7 648.8 1794.9 649.5 1795.2 650.3 1795.6 650.9 1796.1 651.5 1796.6 652.1 1797.1 652.6 1797.7 653.0 1798.4 653.3 1799.0 653.5 1799.7 653.7 1800.4 653.8 1801.0 653.8 1801.7 653.7 1802.3 653.6 1802.9 653.4 1803.5 653.1 1804.0 652.8 1804.5 652.4 1804.9 652.0 1805.3 651.6 1805.7 651.1 1805.9 650.6 1806.2 650.0 1806.3 649.5 1806.4 648.9 1806.4 648.4 1806.4 647.8 1806.3 647.3 1806.1 646.8 1805.9 646.3 1805.6 645.8 1805.3 645.4 1805.0 645.0 1804.6 644.6 1804.2 644.3Z"/><path d="M1804.2 685.5 1804.7 685.6 1805.2 685.8 1805.7 686.2 1806.2 686.6 1806.6 687.0 1807.0 687.5 1807.3 688.1 1807.5 688.8 1807.7 689.4 1807.8 690.1 1807.8 690.9 1807.7 691.6 1807.5 692.4 1807.2 693.1 1806.9 693.8 1806.4 694.5 1805.9 695.1 1805.2 695.7 1804.5 696.2 1803.7 696.5 1802.9 696.8 1802.0 697.0 1801.1 697.1 1800.2 697.1 1799.3 697.0 1798.4 696.8 1797.5 696.5 1796.6 696.0 1795.8 695.5 1795.1 694.8 1794.4 694.1 1793.8 693.3 1793.3 692.4 1792.9 691.5 1792.6 690.5 1792.4 689.4 1792.3 688.4 1792.4 687.3 1792.6 686.2 1792.9 685.2 1793.3 684.2 1793.9 683.2 1794.6 682.3 1795.3 681.4 1796.2 680.7 1797.2 680.0 1798.2 679.5 1799.3 679.1 1800.5 678.8 1801.7 678.6 1802.9 678.6 1804.2 678.7 1805.4 679.0 1806.6 679.4 1807.7 679.9 1808.8 680.6 1809.8 681.4 1810.7 682.3 1811.5 683.4 1812.2 684.5 1812.8 685.7 1813.2 687.0 1813.5 688.3 1813.6 689.7 1813.6 691.1 1813.4 692.4 1813.0 693.8 1812.5 695.1 1811.9 696.4 1811.1 697.6 1810.1 698.7 1809.1 699.7 1807.9 700.5 1806.6 701.3 1805.2 701.9 1803.7 702.3 1802.3 702.5 1800.7 702.6 1799.2 702.5 1797.7 702.3 1796.2 701.8 1794.7 701.2 1793.3 700.4 1792.0 699.5 1790.9 698.4 1789.8 697.2 1788.9 695.8 1788.1 694.3 1787.5 692.8 1787.1 691.2 1786.9 689.5 1786.9 687.8 1787.0 686.1 1787.4 684.5 1787.9 682.8 1788.7 681.3 1789.6 679.8 1790.7 678.4 1791.9 677.1 1793.3 676.0 1794.8 675.1 1796.4 674.3 1798.1 673.7 1799.9 673.3 1801.7 673.1 1803.6 673.2 1805.4 673.4 1807.3 673.8 1809.0 674.5 1810.7 675.3 1812.3 676.4 1813.8 677.6 1815.1 679.0 1816.2 680.6 1817.2 682.3 1818.0 684.0 1818.6 685.9 1819.0 687.9 1819.1 689.9 1819.0 691.9 1818.7 693.9 1818.2 695.8 1817.4 697.7 1816.4 699.5 1815.2 701.2 1813.8 702.7 1812.3 704.1 1810.5 705.3 1808.7 706.3 1806.7 707.1 1804.7 707.6 1802.5 707.9 1800.4 707.9 1798.3 707.7 1796.2 707.3 1794.1 706.6 1792.2 705.7 1790.3 704.5 1788.6 703.2 1787.1 701.7 1785.7 699.9 1784.5 698.1 1783.6 696.1 1782.9 694.0 1782.4 691.8 1782.2 689.6 1782.2 687.4 1782.5 685.2 1783.1 683.1 1783.9 681.0 1783.9 681.0 1783.3 683.1 1782.9 685.3 1782.7 687.4 1782.8 689.6 1783.1 691.7 1783.7 693.8 1784.4 695.7 1785.4 697.6 1786.6 699.3 1788.0 700.8 1789.5 702.2 1791.1 703.4 1792.9 704.4 1794.7 705.1 1796.6 705.7 1798.5 706.0 1800.4 706.1 1802.4 706.0 1804.2 705.7 1806.1 705.1 1807.8 704.4 1809.4 703.5 1810.9 702.4 1812.3 701.2 1813.5 699.8 1814.6 698.4 1815.4 696.8 1816.1 695.1 1816.6 693.4 1816.9 691.7 1816.9 689.9 1816.8 688.2 1816.5 686.4 1816.0 684.8 1815.3 683.2 1814.4 681.8 1813.4 680.4 1812.3 679.2 1811.0 678.1 1809.6 677.2 1808.2 676.5 1806.6 675.9 1805.0 675.5 1803.4 675.3 1801.8 675.3 1800.3 675.5 1798.7 675.8 1797.2 676.3 1795.8 677.0 1794.5 677.8 1793.3 678.8 1792.3 679.8 1791.3 681.0 1790.6 682.3 1789.9 683.6 1789.5 685.0 1789.2 686.5 1789.0 687.9 1789.1 689.4 1789.3 690.8 1789.6 692.1 1790.1 693.5 1790.8 694.7 1791.5 695.8 1792.4 696.9 1793.4 697.8 1794.5 698.6 1795.7 699.3 1796.9 699.8 1798.2 700.2 1799.4 700.4 1800.7 700.5 1802.0 700.4 1803.3 700.2 1804.5 699.8 1805.6 699.3 1806.7 698.7 1807.7 698.0 1808.6 697.2 1809.4 696.3 1810.0 695.3 1810.6 694.2 1811.0 693.1 1811.3 692.0 1811.4 690.9 1811.5 689.8 1811.4 688.6 1811.1 687.6 1810.8 686.5 1810.3 685.5 1809.8 684.6 1809.1 683.8 1808.4 683.0 1807.5 682.4 1806.7 681.8 1805.7 681.4 1804.8 681.1 1803.8 680.9 1802.8 680.8 1801.9 680.8 1800.9 680.9 1800.0 681.1 1799.1 681.5 1798.3 681.9 1797.5 682.4 1796.8 683.0 1796.2 683.6 1795.7 684.4 1795.3 685.1 1794.9 685.9 1794.7 686.7 1794.5 687.6 1794.5 688.4 1794.5 689.2 1794.7 690.0 1794.9 690.7 1795.2 691.5 1795.6 692.1 1796.1 692.7 1796.6 693.3 1797.1 693.8 1797.7 694.2 1798.4 694.5 1799.0 694.7 1799.7 694.9 1800.4 695.0 1801.0 695.0 1801.7 694.9 1802.3 694.8 1802.9 694.6 1803.5 694.3 1804.0 694.0 1804.5 693.6 1804.9 693.2 1805.3 692.8 1805.7 692.3 1805.9 691.8 1806.2 691.2 1806.3 690.7 1806.4 690.1 1806.4 689.6 1806.4 689.0 1806.3 688.5 1806.1 688.0 1805.9 687.5 1805.6 687.0 1805.3 686.6 1805.0 686.2 1804.6 685.8 1804.2 685.5Z"/><path d="M1804.2 727.1 1804.7 727.2 1805.2 727.4 1805.7 727.8 1806.2 728.2 1806.6 728.6 1807.0 729.1 1807.3 729.7 1807.5 730.4 1807.7 731.0 1807.8 731.7 1807.8 732.5 1807.7 733.2 1807.5 734.0 1807.2 734.7 1806.9 735.4 1806.4 736.1 1805.9 736.7 1805.2 737.3 1804.5 737.8 1803.7 738.1 1802.9 738.4 1802.0 738.6 1801.1 738.7 1800.2 738.7 1799.3 738.6 1798.4 738.4 1797.5 738.1 1796.6 737.6 1795.8 737.1 1795.1 736.4 1794.4 735.7 1793.8 734.9 1793.3 734.0 1792.9 733.1 1792.6 732.1 1792.4 731.0 1792.3 730.0 1792.4 728.9 1792.6 727.8 1792.9 726.8 1793.3 725.8 1793.9 724.8 1794.6 723.9 1795.3 723.0 1796.2 722.3 1797.2 721.6 1798.2 721.1 1799.3 720.7 1800.5 720.4 1801.7 720.2 1802.9 720.2 1804.2 720.3 1805.4 720.6 1806.6 721.0 1807.7 721.5 1808.8 722.2 1809.8 723.0 1810.7 723.9 1811.5 725.0 1812.2 726.1 1812.8 727.3 1813.2 728.6 1813.5 729.9 1813.6 731.3 1813.6 732.7 1813.4 734.0 1813.0 735.4 1812.5 736.7 1811.9 738.0 1811.1 739.2 1810.1 740.3 1809.1 741.3 1807.9 742.1 1806.6 742.9 1805.2 743.5 1803.7 743.9 1802.3 744.1 1800.7 744.2 1799.2 744.1 1797.7 743.9 1796.2 743.4 1794.7 742.8 1793.3 742.0 1792.0 741.1 1790.9 740.0 1789.8 738.8 1788.9 737.4 1788.1 735.9 1787.5 734.4 1787.1 732.8 1786.9 731.1 1786.9 729.4 1787.0 727.7 1787.4 726.1 1787.9 724.4 1788.7 722.9 1789.6 721.4 1790.7 720.0 1791.9 718.7 1793.3 717.6 1794.8 716.7 1796.4 715.9 1798.1 715.3 1799.9 714.9 1801.7 714.7 1803.6 714.8 1805.4 715.0 1807.3 715.4 1809.0 716.1 1810.7 716.9 1812.3 718.0 1813.8 719.2 1815.1 720.6 1816.2 722.2 1817.2 723.9 1818.0 725.6 1818.6 727.5 1819.0 729.5 1819.1 731.5 1819.0 733.5 1818.7 735.5 1818.2 737.4 1817.4 739.3 1816.4 741.1 1815.2 742.8 1813.8 744.3 1812.3 745.7 1810.5 746.9 1808.7 747.9 1806.7 748.7 1804.7 749.2 1802.5 749.5 1800.4 749.5 1798.3 749.3 1796.2 748.9 1794.1 748.2 1792.2 747.3 1790.3 746.1 1788.6 744.8 1787.1 743.3 1785.7 741.5 1784.5 739.7 1783.6 737.7 1782.9 735.6 1782.4 733.4 1782.2 731.2 1782.2 729.0 1782.5 726.8 1783.1 724.7 1783.9 722.6 1783.9 722.6 1783.3 724.7 1782.9 726.9 1782.7 729.0 1782.8 731.2 1783.1 733.3 1783.7 735.4 1784.4 737.3 1785.4 739.2 1786.6 740.9 1788.0 742.4 1789.5 743.8 1791.1 745.0 1792.9 746.0 1794.7 746.7 1796.6 747.3 1798.5 747.6 1800.4 747.7 1802.4 747.6 1804.2 747.3 1806.1 746.7 1807.8 746.0 1809.4 745.1 1810.9 744.0 1812.3 742.8 1813.5 741.4 1814.6 740.0 1815.4 738.4 1816.1 736.7 1816.6 735.0 1816.9 733.3 1816.9 731.5 1816.8 729.8 1816.5 728.0 1816.0 726.4 1815.3 724.8 1814.4 723.4 1813.4 722.0 1812.3 720.8 1811.0 719.7 1809.6 718.8 1808.2 718.1 1806.6 717.5 1805.0 717.1 1803.4 716.9 1801.8 716.9 1800.3 717.1 1798.7 717.4 1797.2 717.9 1795.8 718.6 1794.5 719.4 1793.3 720.4 1792.3 721.4 1791.3 722.6 1790.6 723.9 1789.9 725.2 1789.5 726.6 1789.2 728.1 1789.0 729.5 1789.1 731.0 1789.3 732.4 1789.6 733.7 1790.1 735.1 1790.8 736.3 1791.5 737.4 1792.4 738.5 1793.4 739.4 1794.5 740.2 1795.7 740.9 1796.9 741.4 1798.2 741.8 1799.4 742.0 1800.7 742.1 1802.0 742.0 1803.3 741.8 1804.5 741.4 1805.6 740.9 1806.7 740.3 1807.7 739.6 1808.6 738.8 1809.4 737.9 1810.0 736.9 1810.6 735.8 1811.0 734.7 1811.3 733.6 1811.4 732.5 1811.5 731.4 1811.4 730.2 1811.1 729.2 1810.8 728.1 1810.3 727.1 1809.8 726.2 1809.1 725.4 1808.4 724.6 1807.5 724.0 1806.7 723.4 1805.7 723.0 1804.8 722.7 1803.8 722.5 1802.8 722.4 1801.9 722.4 1800.9 722.5 1800.0 722.7 1799.1 723.1 1798.3 723.5 1797.5 724.0 1796.8 724.6 1796.2 725.2 1795.7 726.0 1795.3 726.7 1794.9 727.5 1794.7 728.3 1794.5 729.2 1794.5 730.0 1794.5 730.8 1794.7 731.6 1794.9 732.3 1795.2 733.1 1795.6 733.7 1796.1 734.3 1796.6 734.9 1797.1 735.4 1797.7 735.8 1798.4 736.1 1799.0 736.3 1799.7 736.5 1800.4 736.6 1801.0 736.6 1801.7 736.5 1802.3 736.4 1802.9 736.2 1803.5 735.9 1804.0 735.6 1804.5 735.2 1804.9 734.8 1805.3 734.4 1805.7 733.9 1805.9 733.4 1806.2 732.8 1806.3 732.3 1806.4 731.7 1806.4 731.2 1806.4 730.6 1806.3 730.1 1806.1 729.6 1805.9 729.1 1805.6 728.6 1805.3 728.2 1805.0 727.8 1804.6 727.4 1804.2 727.1Z"/><path d="M1804.2 768.8 1804.7 768.9 1805.2 769.2 1805.7 769.5 1806.2 769.9 1806.6 770.4 1807.0 770.9 1807.3 771.5 1807.5 772.1 1807.7 772.8 1807.8 773.5 1807.8 774.2 1807.7 775.0 1807.5 775.7 1807.2 776.4 1806.9 777.2 1806.4 777.8 1805.9 778.5 1805.2 779.0 1804.5 779.5 1803.7 779.9 1802.9 780.2 1802.0 780.4 1801.1 780.5 1800.2 780.5 1799.3 780.4 1798.4 780.1 1797.5 779.8 1796.6 779.4 1795.8 778.8 1795.1 778.2 1794.4 777.5 1793.8 776.7 1793.3 775.8 1792.9 774.8 1792.6 773.8 1792.4 772.8 1792.3 771.7 1792.4 770.7 1792.6 769.6 1792.9 768.5 1793.3 767.5 1793.9 766.5 1794.6 765.6 1795.3 764.8 1796.2 764.0 1797.2 763.4 1798.2 762.8 1799.3 762.4 1800.5 762.1 1801.7 762.0 1802.9 762.0 1804.2 762.1 1805.4 762.3 1806.6 762.7 1807.7 763.3 1808.8 764.0 1809.8 764.8 1810.7 765.7 1811.5 766.7 1812.2 767.9 1812.8 769.1 1813.2 770.3 1813.5 771.7 1813.6 773.0 1813.6 774.4 1813.4 775.8 1813.0 777.2 1812.5 778.5 1811.9 779.7 1811.1 780.9 1810.1 782.0 1809.1 783.0 1807.9 783.9 1806.6 784.6 1805.2 785.2 1803.7 785.6 1802.3 785.9 1800.7 786.0 1799.2 785.9 1797.7 785.6 1796.2 785.2 1794.7 784.5 1793.3 783.8 1792.0 782.8 1790.9 781.7 1789.8 780.5 1788.9 779.2 1788.1 777.7 1787.5 776.1 1787.1 774.5 1786.9 772.9 1786.9 771.2 1787.0 769.5 1787.4 767.8 1787.9 766.2 1788.7 764.6 1789.6 763.1 1790.7 761.8 1791.9 760.5 1793.3 759.4 1794.8 758.4 1796.4 757.7 1798.1 757.1 1799.9 756.7 1801.7 756.5 1803.6 756.5 1805.4 756.7 1807.3 757.2 1809.0 757.8 1810.7 758.7 1812.3 759.7 1813.8 761.0 1815.1 762.4 1816.2 763.9 1817.2 765.6 1818.0 767.4 1818.6 769.3 1819.0 771.2 1819.1 773.2 1819.0 775.2 1818.7 777.2 1818.2 779.2 1817.4 781.1 1816.4 782.9 1815.2 784.5 1813.8 786.1 1812.3 787.5 1810.5 788.7 1808.7 789.7 1806.7 790.4 1804.7 790.9 1802.5 791.2 1800.4 791.3 1798.3 791.1 1796.2 790.6 1794.1 789.9 1792.2 789.0 1790.3 787.9 1788.6 786.5 1787.1 785.0 1785.7 783.3 1784.5 781.4 1783.6 779.4 1782.9 777.4 1782.4 775.2 1782.2 773.0 1782.2 770.8 1782.5 768.6 1783.1 766.4 1783.9 764.3 1783.9 764.3 1783.3 766.5 1782.9 768.6 1782.7 770.8 1782.8 773.0 1783.1 775.1 1783.7 777.1 1784.4 779.1 1785.4 780.9 1786.6 782.6 1788.0 784.2 1789.5 785.5 1791.1 786.7 1792.9 787.7 1794.7 788.5 1796.6 789.0 1798.5 789.4 1800.4 789.5 1802.4 789.3 1804.2 789.0 1806.1 788.5 1807.8 787.7 1809.4 786.8 1810.9 785.8 1812.3 784.6 1813.5 783.2 1814.6 781.7 1815.4 780.1 1816.1 778.5 1816.6 776.8 1816.9 775.0 1816.9 773.2 1816.8 771.5 1816.5 769.8 1816.0 768.2 1815.3 766.6 1814.4 765.1 1813.4 763.8 1812.3 762.5 1811.0 761.5 1809.6 760.6 1808.2 759.8 1806.6 759.2 1805.0 758.9 1803.4 758.7 1801.8 758.6 1800.3 758.8 1798.7 759.1 1797.2 759.7 1795.8 760.3 1794.5 761.1 1793.3 762.1 1792.3 763.2 1791.3 764.4 1790.6 765.6 1789.9 767.0 1789.5 768.4 1789.2 769.8 1789.0 771.3 1789.1 772.7 1789.3 774.1 1789.6 775.5 1790.1 776.8 1790.8 778.0 1791.5 779.2 1792.4 780.2 1793.4 781.2 1794.5 782.0 1795.7 782.6 1796.9 783.1 1798.2 783.5 1799.4 783.7 1800.7 783.8 1802.0 783.7 1803.3 783.5 1804.5 783.2 1805.6 782.7 1806.7 782.1 1807.7 781.3 1808.6 780.5 1809.4 779.6 1810.0 778.6 1810.6 777.6 1811.0 776.5 1811.3 775.4 1811.4 774.2 1811.5 773.1 1811.4 772.0 1811.1 770.9 1810.8 769.9 1810.3 768.9 1809.8 768.0 1809.1 767.1 1808.4 766.4 1807.5 765.7 1806.7 765.2 1805.7 764.7 1804.8 764.4 1803.8 764.2 1802.8 764.1 1801.9 764.1 1800.9 764.3 1800.0 764.5 1799.1 764.8 1798.3 765.2 1797.5 765.8 1796.8 766.3 1796.2 767.0 1795.7 767.7 1795.3 768.5 1794.9 769.3 1794.7 770.1 1794.5 770.9 1794.5 771.7 1794.5 772.5 1794.7 773.3 1794.9 774.1 1795.2 774.8 1795.6 775.5 1796.1 776.1 1796.6 776.6 1797.1 777.1 1797.7 777.5 1798.4 777.8 1799.0 778.1 1799.7 778.2 1800.4 778.3 1801.0 778.3 1801.7 778.3 1802.3 778.1 1802.9 777.9 1803.5 777.6 1804.0 777.3 1804.5 777.0 1804.9 776.6 1805.3 776.1 1805.7 775.6 1805.9 775.1 1806.2 774.6 1806.3 774.0 1806.4 773.5 1806.4 772.9 1806.4 772.4 1806.3 771.8 1806.1 771.3 1805.9 770.8 1805.6 770.3 1805.3 769.9 1805.0 769.5 1804.6 769.2 1804.2 768.8Z"/></g>
<g fill="none" stroke-linecap="round" stroke-linejoin="miter">
<path d="M1044,737.5 L1359.6,718.3" stroke="#ff0000" stroke-width="10" stroke-linecap="butt"/>
<path d="M1327.4,700 L1359.6,718.3 L1327.4,739.6" stroke="#ff0000" stroke-width="10"/>
<path d="M1362,716 L1385.3,609.7 L1852.2,510" stroke="#ff0000" stroke-width="10.5" stroke-linecap="butt"/>
<path d="M1820.9,492.3 L1852.2,512.05 L1829.1,543.7" stroke="#ff0000" stroke-width="10"/>
<path d="M1044,734 L1360.4,723.2" stroke="#0000ff" stroke-width="11" stroke-linecap="butt"/>
<path d="M1328.2,705.5 L1360.4,723.2 L1329,745.1" stroke="#0000ff" stroke-width="11"/>
<path d="M1361,724 L1380.5,586" stroke="#0000ff" stroke-width="11.2" stroke-linecap="square"/><path d="M1380.2,587.3 L1845.8,451.5" stroke="#0000ff" stroke-width="11.2" stroke-linecap="butt"/>
<path d="M1805.2,439.3 L1845.8,454.5 L1827.3,492.3" stroke="#0000ff" stroke-width="10"/>
</g>
<text id="q1" transform="translate(1612.7,451.3) scale(0.9,1)" font-family='"Liberation Serif", serif' font-size="55" font-weight="bold" font-style="italic" fill="#0000ff">Q</text>
<rect x="1662" y="437" width="3.7" height="25.3" fill="#0000ff"/><rect x="1652.3" y="458.5" width="23" height="3.8" fill="#0000ff"/>
<text id="q2" transform="translate(1619.7,605) scale(0.9,1)" font-family='"Liberation Serif", serif' font-size="55" font-weight="bold" font-style="italic" fill="#ff0000">Q</text>
<rect x="1661" y="589.7" width="4" height="30.6" fill="#ff0000"/><rect x="1668" y="589.7" width="4" height="30.6" fill="#ff0000"/>
</svg></body></html>
